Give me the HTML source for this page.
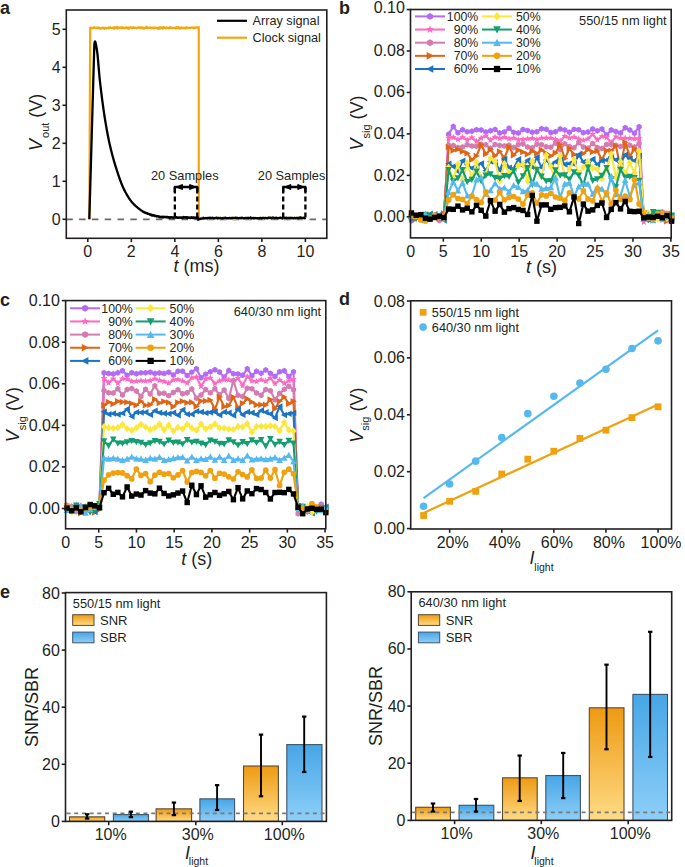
<!DOCTYPE html>
<html><head><meta charset="utf-8"><style>
html,body{margin:0;padding:0;background:#fff;}
svg{display:block;font-family:"Liberation Sans",sans-serif;fill:#231f20;}
text{fill:#231f20;}
</style></head><body>
<svg width="685" height="867" viewBox="0 0 685 867">
<text x="0" y="14" font-size="18" font-weight="bold">a</text>
<text x="339" y="14" font-size="18" font-weight="bold">b</text>
<text x="0" y="306" font-size="18" font-weight="bold">c</text>
<text x="339" y="305" font-size="18" font-weight="bold">d</text>
<text x="0" y="597.5" font-size="18" font-weight="bold">e</text>
<line x1="66.3" y1="219.30" x2="326.8" y2="219.30" stroke="#6a6a6a" stroke-width="1.7" stroke-dasharray="6.5,6.3"/>
<path d="M89.32,219.30 L90.19,27.78 L90.19,27.78 L90.74,27.64 L91.28,27.91 L91.83,28.19 L92.38,27.99 L92.92,28.23 L93.47,27.75 L94.01,27.17 L94.56,28.00 L95.10,28.06 L95.65,27.56 L96.20,27.62 L96.74,27.73 L97.29,28.20 L97.83,27.79 L98.38,27.46 L98.92,28.39 L99.47,27.99 L100.02,28.65 L100.56,28.37 L101.11,28.62 L101.65,27.89 L102.20,28.36 L102.74,27.66 L103.29,27.71 L103.83,27.87 L104.38,28.93 L104.93,28.03 L105.47,27.80 L106.02,27.73 L106.56,28.48 L107.11,28.00 L107.65,28.23 L108.20,28.15 L108.75,27.30 L109.29,28.15 L109.84,27.79 L110.38,27.38 L110.93,28.05 L111.47,27.83 L112.02,27.73 L112.56,27.75 L113.11,28.34 L113.66,27.75 L114.20,27.16 L114.75,28.49 L115.29,27.39 L115.84,27.73 L116.38,28.07 L116.93,26.87 L117.48,27.43 L118.02,28.33 L118.57,27.75 L119.11,27.52 L119.66,27.87 L120.20,27.47 L120.75,27.81 L121.30,27.48 L121.84,27.12 L122.39,28.09 L122.93,27.69 L123.48,27.99 L124.02,27.72 L124.57,28.32 L125.11,28.04 L125.66,27.87 L126.21,27.37 L126.75,27.26 L127.30,28.38 L127.84,28.14 L128.39,27.49 L128.93,28.69 L129.48,27.99 L130.03,27.82 L130.57,27.21 L131.12,27.47 L131.66,27.93 L132.21,27.95 L132.75,27.89 L133.30,27.09 L133.84,27.98 L134.39,27.92 L134.94,27.62 L135.48,27.84 L136.03,27.87 L136.57,28.29 L137.12,27.79 L137.66,27.98 L138.21,27.25 L138.76,27.48 L139.30,27.79 L139.85,27.48 L140.39,27.93 L140.94,27.30 L141.48,27.78 L142.03,27.51 L142.58,28.37 L143.12,27.62 L143.67,28.55 L144.21,28.71 L144.76,27.92 L145.30,28.19 L145.85,27.71 L146.39,26.76 L146.94,28.16 L147.49,28.06 L148.03,27.69 L148.58,27.56 L149.12,27.86 L149.67,27.87 L150.21,27.46 L150.76,27.54 L151.31,28.25 L151.85,27.82 L152.40,27.76 L152.94,28.26 L153.49,27.66 L154.03,28.17 L154.58,27.34 L155.12,27.69 L155.67,27.74 L156.22,28.05 L156.76,27.83 L157.31,28.69 L157.85,28.30 L158.40,27.61 L158.94,28.75 L159.49,27.39 L160.04,28.58 L160.58,27.43 L161.13,28.17 L161.67,27.42 L162.22,27.72 L162.76,28.48 L163.31,27.21 L163.86,27.12 L164.40,27.81 L164.95,27.90 L165.49,27.85 L166.04,28.22 L166.58,27.28 L167.13,28.03 L167.67,27.80 L168.22,28.14 L168.77,28.07 L169.31,28.36 L169.86,27.21 L170.40,27.85 L170.95,27.34 L171.49,27.77 L172.04,28.10 L172.59,27.93 L173.13,28.04 L173.68,27.78 L174.22,27.95 L174.77,27.92 L175.31,28.41 L175.86,28.15 L176.40,27.03 L176.95,28.09 L177.50,28.26 L178.04,27.63 L178.59,27.14 L179.13,28.44 L179.68,27.88 L180.22,28.07 L180.77,28.58 L181.32,27.44 L181.86,27.79 L182.41,27.75 L182.95,28.12 L183.50,27.57 L184.04,28.03 L184.59,27.85 L185.13,28.29 L185.68,28.33 L186.23,27.17 L186.77,28.01 L187.32,27.65 L187.86,27.80 L188.41,27.98 L188.95,28.01 L189.50,27.49 L190.05,27.92 L190.59,27.85 L191.14,27.77 L191.68,27.24 L192.23,27.47 L192.77,27.61 L193.32,28.04 L193.87,28.41 L194.41,27.35 L194.96,27.34 L195.50,27.84 L196.05,27.53 L196.59,27.42 L197.14,27.40 L197.68,27.36 L198.23,27.99 L198.78,27.09 L198.78,218.54 L198.78,218.73 L199.49,218.09 L200.21,218.20 L200.92,218.08 L201.64,217.78 L202.35,217.90 L203.07,218.70 L203.79,218.86 L204.50,218.10 L205.22,218.66 L205.93,218.35 L206.65,218.09 L207.36,218.85 L208.08,218.99 L208.79,218.27 L209.51,218.34 L210.23,218.42 L210.94,218.34 L211.66,218.61 L212.37,218.81 L213.09,218.40 L213.80,218.65 L214.52,218.85 L215.23,218.20 L215.95,218.37 L216.67,218.23 L217.38,218.65 L218.10,218.55 L218.81,218.65 L219.53,218.62 L220.24,218.29 L220.96,218.59 L221.68,218.24 L222.39,218.25 L223.11,217.73 L223.82,218.77 L224.54,218.08 L225.25,218.38 L225.97,218.35 L226.68,218.79 L227.40,218.49 L228.12,218.12 L228.83,218.38 L229.55,218.33 L230.26,218.44 L230.98,218.00 L231.69,218.36 L232.41,219.02 L233.12,218.56 L233.84,218.95 L234.56,219.34 L235.27,218.51 L235.99,217.94 L236.70,218.34 L237.42,218.71 L238.13,218.64 L238.85,218.01 L239.57,218.30 L240.28,218.34 L241.00,218.37 L241.71,218.34 L242.43,218.11 L243.14,218.18 L243.86,218.28 L244.57,218.67 L245.29,218.19 L246.01,218.56 L246.72,218.02 L247.44,218.74 L248.15,218.39 L248.87,218.35 L249.58,218.75 L250.30,217.83 L251.01,217.91 L251.73,218.49 L252.45,218.12 L253.16,218.23 L253.88,219.14 L254.59,218.27 L255.31,218.37 L256.02,218.32 L256.74,218.68 L257.45,218.43 L258.17,218.40 L258.89,217.99 L259.60,218.25 L260.32,218.35 L261.03,217.89 L261.75,218.52 L262.46,218.47 L263.18,218.90 L263.90,217.87 L264.61,218.06 L265.33,218.07 L266.04,218.15 L266.76,218.32 L267.47,218.28 L268.19,218.43 L268.90,218.41 L269.62,218.33 L270.34,217.89 L271.05,218.18 L271.77,218.37 L272.48,218.53 L273.20,218.54 L273.91,217.86 L274.63,218.20 L275.34,218.33 L276.06,218.46 L276.78,218.69 L277.49,218.37 L278.21,218.08 L278.92,218.47 L279.64,218.42 L280.35,218.42 L281.07,218.32 L281.79,218.83 L282.50,218.42 L283.22,218.61 L283.93,218.08 L284.65,218.58 L285.36,218.17 L286.08,217.89 L286.79,218.45 L287.51,218.53 L288.23,218.29 L288.94,218.35 L289.66,218.65 L290.37,218.21 L291.09,217.74 L291.80,218.43 L292.52,218.41 L293.23,218.67 L293.95,218.25 L294.67,218.73 L295.38,218.69 L296.10,217.96 L296.81,218.63 L297.53,218.02 L298.24,217.89 L298.96,218.27 L299.68,218.18 L300.39,217.76 L301.11,218.41 L301.82,218.53 L302.54,218.76 L303.25,218.34 L303.97,217.90 L304.68,218.06 L305.40,218.64" fill="none" stroke="#f6a60c" stroke-width="2.2" stroke-linejoin="round"/>
<path d="M89.32,219.30 L94.33,44.50 L94.33,44.50 L94.59,42.79 L94.85,41.64 L95.11,41.52 L95.36,41.97 L95.62,42.80 L95.88,43.95 L96.14,45.33 L96.40,46.86 L96.66,48.47 L96.92,50.07 L97.18,51.83 L97.44,53.98 L97.70,56.46 L97.95,59.19 L98.21,62.10 L98.47,65.13 L98.73,68.21 L98.99,71.27 L99.25,74.23 L99.51,77.03 L99.77,79.61 L100.03,81.93 L100.29,84.19 L100.55,86.42 L100.80,88.61 L101.06,90.77 L101.32,92.89 L101.58,94.98 L101.84,97.03 L102.10,99.05 L102.36,101.03 L102.62,102.97 L102.88,104.88 L103.14,106.75 L103.39,108.59 L103.65,110.39 L103.91,112.16 L104.17,113.89 L104.43,115.59 L104.69,117.24 L104.95,118.88 L105.21,120.48 L105.47,122.07 L105.73,123.63 L105.99,125.16 L106.24,126.68 L106.50,128.16 L106.76,129.63 L107.02,131.06 L107.28,132.47 L107.54,133.85 L107.80,135.21 L108.06,136.54 L108.32,137.84 L108.58,139.11 L108.83,140.35 L109.09,141.57 L109.35,142.75 L109.61,143.91 L109.87,145.04 L110.13,146.16 L110.39,147.26 L110.65,148.34 L110.91,149.40 L111.17,150.45 L111.43,151.49 L111.68,152.51 L111.94,153.51 L112.20,154.50 L112.46,155.48 L112.72,156.44 L112.98,157.39 L113.24,158.33 L113.50,159.25 L113.76,160.17 L114.02,161.07 L114.27,161.96 L114.53,162.84 L114.79,163.70 L115.05,164.56 L115.31,165.41 L115.57,166.25 L115.83,167.08 L116.09,167.91 L116.35,168.72 L116.61,169.53 L116.87,170.33 L117.12,171.12 L117.38,171.92 L117.64,172.70 L117.90,173.49 L118.16,174.27 L118.42,175.05 L118.68,175.81 L118.94,176.58 L119.20,177.33 L119.46,178.08 L119.71,178.82 L119.97,179.55 L120.23,180.28 L120.49,180.99 L120.75,181.69 L121.01,182.38 L121.27,183.06 L121.53,183.73 L121.79,184.39 L122.05,185.03 L122.31,185.66 L122.56,186.27 L122.82,186.87 L123.08,187.45 L123.34,188.02 L123.60,188.57 L123.86,189.10 L124.12,189.62 L124.38,190.12 L124.64,190.62 L124.90,191.11 L125.15,191.60 L125.41,192.08 L125.67,192.56 L125.93,193.03 L126.19,193.49 L126.45,193.95 L126.71,194.41 L126.97,194.85 L127.23,195.29 L127.49,195.73 L127.75,196.16 L128.00,196.58 L128.26,197.00 L128.52,197.41 L128.78,197.81 L129.04,198.21 L129.30,198.60 L129.56,198.98 L129.82,199.35 L130.08,199.72 L130.34,200.08 L130.59,200.44 L130.85,200.78 L131.11,201.12 L131.37,201.46 L131.63,201.78 L131.89,202.10 L132.15,202.41 L132.41,202.71 L132.67,203.00 L132.93,203.28 L133.19,203.56 L133.44,203.83 L133.70,204.09 L133.96,204.34 L134.22,204.60 L134.48,204.85 L134.74,205.09 L135.00,205.34 L135.26,205.58 L135.52,205.82 L135.78,206.05 L136.03,206.29 L136.29,206.52 L136.55,206.75 L136.81,206.97 L137.07,207.20 L137.33,207.42 L137.59,207.63 L137.85,207.85 L138.11,208.06 L138.37,208.26 L138.63,208.47 L138.88,208.67 L139.14,208.87 L139.40,209.07 L139.66,209.26 L139.92,209.45 L140.18,209.63 L140.44,209.82 L140.70,210.00 L140.96,210.17 L141.22,210.34 L141.47,210.51 L141.73,210.68 L141.99,210.84 L142.25,210.98 L142.51,211.46 L142.77,211.45 L143.03,211.52 L143.29,212.07 L143.55,211.72 L143.81,211.84 L144.07,212.05 L144.32,212.24 L144.58,212.35 L144.84,212.61 L145.10,212.56 L145.36,212.74 L145.62,212.71 L145.88,213.11 L146.14,212.88 L146.40,213.00 L146.66,213.17 L146.91,213.34 L147.17,213.21 L147.43,213.82 L147.69,213.43 L147.95,213.58 L148.21,213.67 L148.47,213.74 L148.73,214.07 L148.99,214.08 L149.25,213.97 L149.51,214.11 L149.76,214.25 L150.02,214.73 L150.28,214.35 L150.54,214.30 L150.80,214.42 L151.06,214.68 L151.32,215.18 L151.58,214.69 L151.84,215.02 L152.10,215.64 L152.35,215.06 L152.61,215.56 L152.87,215.60 L153.13,215.52 L153.39,215.16 L153.65,215.61 L153.91,215.53 L154.17,215.26 L154.43,215.36 L154.69,215.82 L154.95,215.91 L155.20,216.21 L155.46,216.14 L155.72,215.95 L155.98,216.01 L156.24,216.13 L156.50,215.98 L156.76,216.44 L157.02,216.32 L157.28,216.19 L157.54,216.27 L157.79,216.21 L158.05,216.40 L158.31,216.61 L158.57,216.49 L158.83,216.84 L159.09,217.02 L159.35,216.54 L159.61,216.72 L159.87,216.66 L160.13,217.15 L160.39,216.87 L160.64,216.94 L160.90,217.02 L161.16,217.36 L161.42,216.95 L161.68,216.69 L161.94,216.82 L162.20,217.07 L162.46,216.95 L162.72,216.80 L162.98,217.62 L163.23,217.04 L163.49,216.91 L163.75,216.89 L164.01,216.68 L164.27,216.83 L164.53,217.03 L164.79,217.05 L165.05,216.96 L165.31,217.28 L165.57,217.18 L165.83,216.99 L166.08,216.76 L166.34,217.26 L166.60,217.25 L166.86,217.21 L167.12,216.97 L167.38,217.29 L167.64,216.97 L167.90,217.54 L168.16,217.37 L168.42,217.39 L168.67,217.18 L168.93,217.13 L169.19,217.73 L169.45,217.61 L169.71,217.33 L169.97,217.57 L170.23,217.78 L170.49,217.21 L170.75,217.34 L171.01,217.35 L171.27,217.58 L171.52,217.25 L171.78,217.55 L172.04,217.25 L172.30,217.72 L172.56,217.72 L172.82,217.48 L173.08,217.70 L173.34,217.39 L173.60,217.49 L173.86,217.76 L174.11,217.54 L174.37,217.64 L174.63,217.36 L174.89,217.72 L175.15,217.68 L175.41,217.30 L175.67,217.07 L175.93,217.13 L176.19,217.57 L176.45,217.54 L176.71,217.24 L176.96,217.62 L177.22,217.81 L177.48,217.56 L177.74,217.49 L178.00,217.78 L178.26,217.97 L178.52,217.92 L178.78,217.44 L179.04,217.76 L179.30,217.62 L179.55,217.54 L179.81,217.45 L180.07,217.67 L180.33,217.48 L180.59,217.79 L180.85,217.67 L181.11,217.82 L181.37,217.33 L181.63,217.60 L181.89,217.76 L182.15,217.67 L182.40,217.64 L182.66,217.43 L182.92,217.95 L183.18,217.83 L183.44,217.68 L183.70,217.01 L183.96,217.37 L184.22,217.62 L184.48,217.43 L184.74,217.12 L184.99,217.64 L185.25,217.67 L185.51,217.31 L185.77,217.48 L186.03,217.44 L186.29,217.71 L186.55,217.15 L186.81,217.20 L187.07,217.46 L187.33,217.43 L187.59,218.05 L187.84,217.44 L188.10,217.63 L188.36,217.49 L188.62,217.43 L188.88,217.67 L189.14,217.98 L189.40,217.51 L189.66,217.76 L189.92,217.67 L190.18,217.73 L190.43,217.67 L190.69,218.12 L190.95,217.31 L191.21,217.53 L191.47,217.34 L191.73,217.14 L191.99,217.58 L192.25,218.00 L192.51,217.79 L192.77,217.87 L193.03,217.70 L193.28,217.57 L193.54,218.05 L193.80,217.51 L194.06,217.93 L194.32,217.52 L194.58,217.61 L194.84,217.66 L195.10,217.61 L195.36,217.71 L195.62,217.73 L195.87,217.97 L196.13,217.60 L196.39,217.17 L196.65,217.14 L196.91,217.29 L197.17,217.43 L197.43,217.74 L197.69,217.26 L197.91,219.69 L198.58,219.38 L199.26,219.17 L199.93,218.87 L200.61,218.82 L201.29,218.60 L201.96,218.71 L202.64,218.46 L203.31,217.78 L203.99,218.25 L204.67,218.24 L205.34,218.02 L206.02,217.95 L206.69,218.34 L207.37,218.11 L208.05,217.84 L208.72,217.97 L209.40,217.99 L210.07,217.62 L210.75,218.12 L211.43,217.95 L212.10,218.09 L212.78,217.63 L213.46,218.42 L214.13,218.12 L214.81,218.09 L215.48,217.82 L216.16,217.83 L216.84,217.65 L217.51,218.33 L218.19,217.80 L218.86,218.04 L219.54,218.12 L220.22,217.85 L220.89,218.18 L221.57,218.44 L222.24,218.05 L222.92,218.31 L223.60,218.12 L224.27,217.89 L224.95,217.90 L225.62,217.61 L226.30,218.02 L226.98,218.32 L227.65,218.14 L228.33,218.18 L229.00,218.25 L229.68,217.87 L230.36,218.12 L231.03,218.42 L231.71,217.81 L232.38,218.00 L233.06,217.89 L233.74,217.95 L234.41,217.83 L235.09,217.96 L235.77,217.69 L236.44,217.87 L237.12,217.88 L237.79,217.88 L238.47,218.30 L239.15,218.01 L239.82,218.03 L240.50,217.92 L241.17,218.28 L241.85,217.60 L242.53,217.95 L243.20,218.25 L243.88,218.36 L244.55,218.03 L245.23,217.99 L245.91,218.13 L246.58,217.95 L247.26,218.12 L247.93,217.84 L248.61,218.14 L249.29,217.98 L249.96,217.75 L250.64,217.38 L251.31,218.20 L251.99,218.08 L252.67,218.16 L253.34,217.79 L254.02,218.23 L254.70,218.08 L255.37,217.98 L256.05,218.19 L256.72,218.19 L257.40,218.08 L258.08,218.45 L258.75,218.30 L259.43,218.06 L260.10,217.94 L260.78,218.01 L261.46,218.37 L262.13,218.08 L262.81,217.79 L263.48,217.84 L264.16,217.99 L264.84,218.17 L265.51,217.83 L266.19,218.10 L266.86,218.24 L267.54,218.15 L268.22,217.64 L268.89,217.92 L269.57,217.71 L270.24,218.08 L270.92,217.76 L271.60,218.11 L272.27,218.01 L272.95,217.40 L273.62,217.80 L274.30,218.08 L274.98,217.99 L275.65,217.90 L276.33,217.69 L277.01,218.08 L277.68,218.37 L278.36,218.03 L279.03,217.97 L279.71,217.95 L280.39,217.67 L281.06,217.90 L281.74,217.78 L282.41,218.22 L283.09,217.77 L283.77,217.49 L284.44,217.79 L285.12,217.91 L285.79,217.93 L286.47,217.56 L287.15,218.18 L287.82,218.00 L288.50,217.87 L289.17,217.80 L289.85,218.07 L290.53,217.90 L291.20,218.03 L291.88,217.94 L292.55,218.00 L293.23,218.23 L293.91,217.97 L294.58,217.77 L295.26,218.19 L295.94,218.02 L296.61,217.82 L297.29,218.21 L297.96,217.93 L298.64,218.21 L299.32,217.71 L299.99,217.44 L300.67,217.51 L301.34,218.02 L302.02,217.80 L302.70,217.94 L303.37,217.95 L304.05,217.62 L304.72,218.27 L305.40,217.73" fill="none" stroke="#000" stroke-width="2.3" stroke-linejoin="round"/>
<rect x="66.3" y="10.0" width="260.50" height="228.30" fill="none" stroke="#231f20" stroke-width="1.6"/>
<line x1="62.50" y1="219.30" x2="66.3" y2="219.30" stroke="#231f20" stroke-width="1.6"/>
<text transform="translate(60.60,224.80) scale(1,1.03)" font-size="16" text-anchor="end">0</text>
<line x1="62.50" y1="181.30" x2="66.3" y2="181.30" stroke="#231f20" stroke-width="1.6"/>
<text transform="translate(60.60,186.80) scale(1,1.03)" font-size="16" text-anchor="end">1</text>
<line x1="62.50" y1="143.30" x2="66.3" y2="143.30" stroke="#231f20" stroke-width="1.6"/>
<text transform="translate(60.60,148.80) scale(1,1.03)" font-size="16" text-anchor="end">2</text>
<line x1="62.50" y1="105.30" x2="66.3" y2="105.30" stroke="#231f20" stroke-width="1.6"/>
<text transform="translate(60.60,110.80) scale(1,1.03)" font-size="16" text-anchor="end">3</text>
<line x1="62.50" y1="67.30" x2="66.3" y2="67.30" stroke="#231f20" stroke-width="1.6"/>
<text transform="translate(60.60,72.80) scale(1,1.03)" font-size="16" text-anchor="end">4</text>
<line x1="62.50" y1="29.30" x2="66.3" y2="29.30" stroke="#231f20" stroke-width="1.6"/>
<text transform="translate(60.60,34.80) scale(1,1.03)" font-size="16" text-anchor="end">5</text>
<line x1="87.80" y1="238.3" x2="87.80" y2="242.10" stroke="#231f20" stroke-width="1.6"/>
<text transform="translate(87.80,257.30) scale(1,1.03)" font-size="16" text-anchor="middle">0</text>
<line x1="131.32" y1="238.3" x2="131.32" y2="242.10" stroke="#231f20" stroke-width="1.6"/>
<text transform="translate(131.32,257.30) scale(1,1.03)" font-size="16" text-anchor="middle">2</text>
<line x1="174.84" y1="238.3" x2="174.84" y2="242.10" stroke="#231f20" stroke-width="1.6"/>
<text transform="translate(174.84,257.30) scale(1,1.03)" font-size="16" text-anchor="middle">4</text>
<line x1="218.36" y1="238.3" x2="218.36" y2="242.10" stroke="#231f20" stroke-width="1.6"/>
<text transform="translate(218.36,257.30) scale(1,1.03)" font-size="16" text-anchor="middle">6</text>
<line x1="261.88" y1="238.3" x2="261.88" y2="242.10" stroke="#231f20" stroke-width="1.6"/>
<text transform="translate(261.88,257.30) scale(1,1.03)" font-size="16" text-anchor="middle">8</text>
<line x1="305.40" y1="238.3" x2="305.40" y2="242.10" stroke="#231f20" stroke-width="1.6"/>
<text transform="translate(305.40,257.30) scale(1,1.03)" font-size="16" text-anchor="middle">10</text>
<text x="196.5" y="272.3" font-size="18" text-anchor="middle"><tspan font-style="italic">t</tspan> (ms)</text>
<text transform="translate(41.8,151) rotate(-90)" font-size="18"><tspan font-style="italic">V</tspan><tspan font-size="11" dx="1" dy="7">out</tspan><tspan dy="-7"> (V)</tspan></text>
<line x1="174.84" y1="187.00" x2="174.84" y2="218.50" stroke="#000" stroke-width="2.3" stroke-dasharray="6.5,3,5,3,5,3,5,3"/>
<line x1="197.25" y1="187.00" x2="197.25" y2="218.50" stroke="#000" stroke-width="2.3" stroke-dasharray="6.5,3,5,3,5,3,5,3"/>
<path d="M174.84,192.00 L174.84,187.00 L197.25,187.00 L197.25,192.00" fill="none" stroke="#000" stroke-width="2.3" stroke-linejoin="round"/>
<path d="M176.24,187.00 L182.44,184.50 L182.44,189.50 Z" fill="#000" stroke="#000" stroke-width="1" stroke-linejoin="round"/>
<path d="M195.85,187.00 L189.65,184.50 L189.65,189.50 Z" fill="#000" stroke="#000" stroke-width="1" stroke-linejoin="round"/>
<line x1="283.20" y1="187.00" x2="283.20" y2="218.50" stroke="#000" stroke-width="2.3" stroke-dasharray="6.5,3,5,3,5,3,5,3"/>
<line x1="305.40" y1="187.00" x2="305.40" y2="218.50" stroke="#000" stroke-width="2.3" stroke-dasharray="6.5,3,5,3,5,3,5,3"/>
<path d="M283.20,192.00 L283.20,187.00 L305.40,187.00 L305.40,192.00" fill="none" stroke="#000" stroke-width="2.3" stroke-linejoin="round"/>
<path d="M284.60,187.00 L290.80,184.50 L290.80,189.50 Z" fill="#000" stroke="#000" stroke-width="1" stroke-linejoin="round"/>
<path d="M304.00,187.00 L297.80,184.50 L297.80,189.50 Z" fill="#000" stroke="#000" stroke-width="1" stroke-linejoin="round"/>
<text x="184.8" y="179.8" font-size="12.8" text-anchor="middle">20 Samples</text>
<text x="291.6" y="179.8" font-size="12.8" text-anchor="middle">20 Samples</text>
<line x1="217" y1="20.8" x2="247" y2="20.8" stroke="#000" stroke-width="2.2"/>
<line x1="217" y1="37.7" x2="247" y2="37.7" stroke="#f6a60c" stroke-width="2.2"/>
<text x="252.5" y="25.3" font-size="12.7">Array signal</text>
<text x="252.5" y="42.2" font-size="12.7">Clock signal</text>
<path d="M411.47,220.83 L416.11,216.01 L420.76,217.37 L425.41,215.02 L430.05,217.80 L434.70,216.84 L439.34,216.02 L443.99,218.80 L448.63,134.16 L453.28,126.55 L457.93,132.69 L462.57,129.71 L467.22,131.77 L471.86,131.18 L476.51,129.66 L481.16,130.11 L485.80,132.09 L490.45,130.78 L495.09,129.55 L499.74,133.00 L504.38,132.08 L509.03,128.24 L513.68,132.37 L518.32,133.03 L522.97,129.61 L527.61,130.49 L532.26,132.16 L536.90,131.70 L541.55,128.70 L546.20,129.30 L550.84,132.44 L555.49,131.76 L560.13,129.06 L564.78,130.06 L569.43,132.36 L574.07,129.37 L578.72,129.68 L583.36,132.71 L588.01,132.00 L592.65,128.92 L597.30,130.85 L601.95,129.07 L606.59,134.95 L611.24,130.08 L615.88,131.39 L620.53,132.89 L625.18,127.78 L629.82,129.94 L634.47,133.13 L639.11,126.77 L643.76,217.23 L648.40,220.08 L653.05,213.76 L657.70,215.59 L662.34,211.99 L666.99,216.66 L671.63,217.85" fill="none" stroke="#b36bf5" stroke-width="2.1" stroke-linejoin="round"/>
<path d="M414.06,222.33 L411.47,223.82 L408.88,222.33 L408.88,219.33 L411.47,217.84 L414.06,219.33Z" fill="#b36bf5"/><path d="M418.71,217.51 L416.11,219.00 L413.52,217.51 L413.52,214.51 L416.11,213.02 L418.71,214.51Z" fill="#b36bf5"/><path d="M423.35,218.87 L420.76,220.36 L418.17,218.87 L418.17,215.87 L420.76,214.38 L423.35,215.87Z" fill="#b36bf5"/><path d="M428.00,216.51 L425.41,218.01 L422.81,216.51 L422.81,213.52 L425.41,212.03 L428.00,213.52Z" fill="#b36bf5"/><path d="M432.64,219.30 L430.05,220.79 L427.46,219.30 L427.46,216.30 L430.05,214.81 L432.64,216.30Z" fill="#b36bf5"/><path d="M437.29,218.34 L434.70,219.83 L432.11,218.34 L432.11,215.35 L434.70,213.85 L437.29,215.35Z" fill="#b36bf5"/><path d="M441.93,217.51 L439.34,219.01 L436.75,217.51 L436.75,214.52 L439.34,213.03 L441.93,214.52Z" fill="#b36bf5"/><path d="M446.58,220.29 L443.99,221.79 L441.40,220.29 L441.40,217.30 L443.99,215.81 L446.58,217.30Z" fill="#b36bf5"/><path d="M451.23,135.66 L448.63,137.15 L446.04,135.66 L446.04,132.66 L448.63,131.17 L451.23,132.66Z" fill="#b36bf5"/><path d="M455.87,128.04 L453.28,129.54 L450.69,128.04 L450.69,125.05 L453.28,123.56 L455.87,125.05Z" fill="#b36bf5"/><path d="M460.52,134.19 L457.93,135.69 L455.33,134.19 L455.33,131.20 L457.93,129.70 L460.52,131.20Z" fill="#b36bf5"/><path d="M465.16,131.21 L462.57,132.70 L459.98,131.21 L459.98,128.21 L462.57,126.72 L465.16,128.21Z" fill="#b36bf5"/><path d="M469.81,133.27 L467.22,134.77 L464.63,133.27 L464.63,130.28 L467.22,128.78 L469.81,130.28Z" fill="#b36bf5"/><path d="M474.46,132.68 L471.86,134.18 L469.27,132.68 L469.27,129.69 L471.86,128.19 L474.46,129.69Z" fill="#b36bf5"/><path d="M479.10,131.16 L476.51,132.65 L473.92,131.16 L473.92,128.17 L476.51,126.67 L479.10,128.17Z" fill="#b36bf5"/><path d="M483.75,131.61 L481.16,133.11 L478.56,131.61 L478.56,128.62 L481.16,127.12 L483.75,128.62Z" fill="#b36bf5"/><path d="M488.39,133.59 L485.80,135.08 L483.21,133.59 L483.21,130.59 L485.80,129.10 L488.39,130.59Z" fill="#b36bf5"/><path d="M493.04,132.27 L490.45,133.77 L487.86,132.27 L487.86,129.28 L490.45,127.78 L493.04,129.28Z" fill="#b36bf5"/><path d="M497.68,131.05 L495.09,132.54 L492.50,131.05 L492.50,128.05 L495.09,126.56 L497.68,128.05Z" fill="#b36bf5"/><path d="M502.33,134.49 L499.74,135.99 L497.15,134.49 L497.15,131.50 L499.74,130.00 L502.33,131.50Z" fill="#b36bf5"/><path d="M506.98,133.57 L504.38,135.07 L501.79,133.57 L501.79,130.58 L504.38,129.08 L506.98,130.58Z" fill="#b36bf5"/><path d="M511.62,129.74 L509.03,131.24 L506.44,129.74 L506.44,126.75 L509.03,125.25 L511.62,126.75Z" fill="#b36bf5"/><path d="M516.27,133.87 L513.68,135.36 L511.08,133.87 L511.08,130.88 L513.68,129.38 L516.27,130.88Z" fill="#b36bf5"/><path d="M520.91,134.53 L518.32,136.02 L515.73,134.53 L515.73,131.53 L518.32,130.04 L520.91,131.53Z" fill="#b36bf5"/><path d="M525.56,131.11 L522.97,132.60 L520.38,131.11 L520.38,128.11 L522.97,126.62 L525.56,128.11Z" fill="#b36bf5"/><path d="M530.20,131.98 L527.61,133.48 L525.02,131.98 L525.02,128.99 L527.61,127.50 L530.20,128.99Z" fill="#b36bf5"/><path d="M534.85,133.65 L532.26,135.15 L529.67,133.65 L529.67,130.66 L532.26,129.16 L534.85,130.66Z" fill="#b36bf5"/><path d="M539.50,133.19 L536.90,134.69 L534.31,133.19 L534.31,130.20 L536.90,128.70 L539.50,130.20Z" fill="#b36bf5"/><path d="M544.14,130.20 L541.55,131.69 L538.96,130.20 L538.96,127.21 L541.55,125.71 L544.14,127.21Z" fill="#b36bf5"/><path d="M548.79,130.80 L546.20,132.30 L543.60,130.80 L543.60,127.81 L546.20,126.31 L548.79,127.81Z" fill="#b36bf5"/><path d="M553.43,133.93 L550.84,135.43 L548.25,133.93 L548.25,130.94 L550.84,129.44 L553.43,130.94Z" fill="#b36bf5"/><path d="M558.08,133.26 L555.49,134.76 L552.90,133.26 L552.90,130.27 L555.49,128.77 L558.08,130.27Z" fill="#b36bf5"/><path d="M562.73,130.56 L560.13,132.06 L557.54,130.56 L557.54,127.57 L560.13,126.07 L562.73,127.57Z" fill="#b36bf5"/><path d="M567.37,131.56 L564.78,133.06 L562.19,131.56 L562.19,128.57 L564.78,127.07 L567.37,128.57Z" fill="#b36bf5"/><path d="M572.02,133.86 L569.43,135.35 L566.83,133.86 L566.83,130.86 L569.43,129.37 L572.02,130.86Z" fill="#b36bf5"/><path d="M576.66,130.87 L574.07,132.36 L571.48,130.87 L571.48,127.87 L574.07,126.38 L576.66,127.87Z" fill="#b36bf5"/><path d="M581.31,131.18 L578.72,132.68 L576.13,131.18 L576.13,128.19 L578.72,126.69 L581.31,128.19Z" fill="#b36bf5"/><path d="M585.95,134.21 L583.36,135.70 L580.77,134.21 L580.77,131.21 L583.36,129.72 L585.95,131.21Z" fill="#b36bf5"/><path d="M590.60,133.49 L588.01,134.99 L585.42,133.49 L585.42,130.50 L588.01,129.00 L590.60,130.50Z" fill="#b36bf5"/><path d="M595.25,130.42 L592.65,131.91 L590.06,130.42 L590.06,127.42 L592.65,125.93 L595.25,127.42Z" fill="#b36bf5"/><path d="M599.89,132.35 L597.30,133.84 L594.71,132.35 L594.71,129.35 L597.30,127.86 L599.89,129.35Z" fill="#b36bf5"/><path d="M604.54,130.57 L601.95,132.07 L599.35,130.57 L599.35,127.58 L601.95,126.08 L604.54,127.58Z" fill="#b36bf5"/><path d="M609.18,136.45 L606.59,137.94 L604.00,136.45 L604.00,133.45 L606.59,131.96 L609.18,133.45Z" fill="#b36bf5"/><path d="M613.83,131.58 L611.24,133.07 L608.65,131.58 L608.65,128.59 L611.24,127.09 L613.83,128.59Z" fill="#b36bf5"/><path d="M618.48,132.89 L615.88,134.39 L613.29,132.89 L613.29,129.90 L615.88,128.40 L618.48,129.90Z" fill="#b36bf5"/><path d="M623.12,134.38 L620.53,135.88 L617.94,134.38 L617.94,131.39 L620.53,129.89 L623.12,131.39Z" fill="#b36bf5"/><path d="M627.77,129.28 L625.18,130.78 L622.58,129.28 L622.58,126.29 L625.18,124.79 L627.77,126.29Z" fill="#b36bf5"/><path d="M632.41,131.43 L629.82,132.93 L627.23,131.43 L627.23,128.44 L629.82,126.94 L632.41,128.44Z" fill="#b36bf5"/><path d="M637.06,134.63 L634.47,136.13 L631.88,134.63 L631.88,131.64 L634.47,130.14 L637.06,131.64Z" fill="#b36bf5"/><path d="M641.70,128.27 L639.11,129.76 L636.52,128.27 L636.52,125.27 L639.11,123.78 L641.70,125.27Z" fill="#b36bf5"/><path d="M646.35,218.73 L643.76,220.23 L641.17,218.73 L641.17,215.74 L643.76,214.24 L646.35,215.74Z" fill="#b36bf5"/><path d="M651.00,221.58 L648.40,223.07 L645.81,221.58 L645.81,218.59 L648.40,217.09 L651.00,218.59Z" fill="#b36bf5"/><path d="M655.64,215.25 L653.05,216.75 L650.46,215.25 L650.46,212.26 L653.05,210.77 L655.64,212.26Z" fill="#b36bf5"/><path d="M660.29,217.09 L657.70,218.58 L655.10,217.09 L655.10,214.09 L657.70,212.60 L660.29,214.09Z" fill="#b36bf5"/><path d="M664.93,213.49 L662.34,214.99 L659.75,213.49 L659.75,210.50 L662.34,209.00 L664.93,210.50Z" fill="#b36bf5"/><path d="M669.58,218.15 L666.99,219.65 L664.40,218.15 L664.40,215.16 L666.99,213.66 L669.58,215.16Z" fill="#b36bf5"/><path d="M674.23,219.35 L671.63,220.84 L669.04,219.35 L669.04,216.36 L671.63,214.86 L674.23,216.36Z" fill="#b36bf5"/>
<path d="M411.47,216.10 L416.11,216.08 L420.76,216.59 L425.41,217.82 L430.05,217.18 L434.70,217.93 L439.34,215.92 L443.99,216.77 L448.63,137.90 L453.28,137.34 L457.93,139.49 L462.57,137.36 L467.22,139.89 L471.86,137.63 L476.51,141.49 L481.16,138.13 L485.80,135.94 L490.45,140.06 L495.09,137.07 L499.74,138.36 L504.38,137.26 L509.03,138.79 L513.68,137.95 L518.32,139.74 L522.97,139.31 L527.61,138.70 L532.26,138.32 L536.90,139.53 L541.55,137.94 L546.20,137.95 L550.84,137.98 L555.49,139.27 L560.13,140.96 L564.78,136.22 L569.43,138.02 L574.07,137.06 L578.72,138.91 L583.36,140.21 L588.01,138.79 L592.65,134.30 L597.30,139.84 L601.95,136.46 L606.59,137.37 L611.24,142.65 L615.88,136.72 L620.53,138.21 L625.18,138.13 L629.82,138.30 L634.47,138.86 L639.11,138.44 L643.76,222.08 L648.40,216.36 L653.05,219.15 L657.70,218.39 L662.34,220.16 L666.99,220.26 L671.63,218.95" fill="none" stroke="#ff69c0" stroke-width="2.1" stroke-linejoin="round"/>
<path d="M411.47,212.53 L412.39,214.83 L414.86,215.00 L412.96,216.58 L413.56,218.98 L411.47,217.66 L409.37,218.98 L409.98,216.58 L408.08,215.00 L410.55,214.83Z" fill="#ff69c0"/><path d="M416.11,212.52 L417.04,214.81 L419.50,214.98 L417.60,216.56 L418.21,218.96 L416.11,217.65 L414.02,218.96 L414.62,216.56 L412.73,214.98 L415.19,214.81Z" fill="#ff69c0"/><path d="M420.76,213.03 L421.68,215.32 L424.15,215.49 L422.25,217.07 L422.85,219.47 L420.76,218.16 L418.67,219.47 L419.27,217.07 L417.37,215.49 L419.84,215.32Z" fill="#ff69c0"/><path d="M425.41,214.26 L426.33,216.55 L428.79,216.72 L426.90,218.31 L427.50,220.70 L425.41,219.39 L423.31,220.70 L423.91,218.31 L422.02,216.72 L424.48,216.55Z" fill="#ff69c0"/><path d="M430.05,213.61 L430.97,215.91 L433.44,216.07 L431.54,217.66 L432.15,220.06 L430.05,218.74 L427.96,220.06 L428.56,217.66 L426.66,216.07 L429.13,215.91Z" fill="#ff69c0"/><path d="M434.70,214.37 L435.62,216.66 L438.09,216.83 L436.19,218.41 L436.79,220.81 L434.70,219.50 L432.60,220.81 L433.21,218.41 L431.31,216.83 L433.78,216.66Z" fill="#ff69c0"/><path d="M439.34,212.35 L440.26,214.65 L442.73,214.81 L440.83,216.40 L441.44,218.80 L439.34,217.48 L437.25,218.80 L437.85,216.40 L435.95,214.81 L438.42,214.65Z" fill="#ff69c0"/><path d="M443.99,213.21 L444.91,215.50 L447.38,215.67 L445.48,217.25 L446.08,219.65 L443.99,218.34 L441.89,219.65 L442.50,217.25 L440.60,215.67 L443.07,215.50Z" fill="#ff69c0"/><path d="M448.63,134.34 L449.56,136.63 L452.02,136.80 L450.13,138.39 L450.73,140.78 L448.63,139.47 L446.54,140.78 L447.14,138.39 L445.25,136.80 L447.71,136.63Z" fill="#ff69c0"/><path d="M453.28,133.77 L454.20,136.07 L456.67,136.23 L454.77,137.82 L455.37,140.22 L453.28,138.90 L451.19,140.22 L451.79,137.82 L449.89,136.23 L452.36,136.07Z" fill="#ff69c0"/><path d="M457.93,135.93 L458.85,138.22 L461.31,138.39 L459.42,139.98 L460.02,142.37 L457.93,141.06 L455.83,142.37 L456.44,139.98 L454.54,138.39 L457.00,138.22Z" fill="#ff69c0"/><path d="M462.57,133.80 L463.49,136.09 L465.96,136.26 L464.06,137.84 L464.67,140.24 L462.57,138.93 L460.48,140.24 L461.08,137.84 L459.18,136.26 L461.65,136.09Z" fill="#ff69c0"/><path d="M467.22,136.32 L468.14,138.62 L470.61,138.79 L468.71,140.37 L469.31,142.77 L467.22,141.45 L465.12,142.77 L465.73,140.37 L463.83,138.79 L466.30,138.62Z" fill="#ff69c0"/><path d="M471.86,134.07 L472.78,136.36 L475.25,136.53 L473.35,138.11 L473.96,140.51 L471.86,139.20 L469.77,140.51 L470.37,138.11 L468.48,136.53 L470.94,136.36Z" fill="#ff69c0"/><path d="M476.51,137.93 L477.43,140.22 L479.90,140.39 L478.00,141.98 L478.60,144.37 L476.51,143.06 L474.42,144.37 L475.02,141.98 L473.12,140.39 L475.59,140.22Z" fill="#ff69c0"/><path d="M481.16,134.56 L482.08,136.86 L484.54,137.03 L482.65,138.61 L483.25,141.01 L481.16,139.69 L479.06,141.01 L479.66,138.61 L477.77,137.03 L480.23,136.86Z" fill="#ff69c0"/><path d="M485.80,132.37 L486.72,134.67 L489.19,134.83 L487.29,136.42 L487.89,138.82 L485.80,137.50 L483.71,138.82 L484.31,136.42 L482.41,134.83 L484.88,134.67Z" fill="#ff69c0"/><path d="M490.45,136.50 L491.37,138.79 L493.83,138.96 L491.94,140.54 L492.54,142.94 L490.45,141.63 L488.35,142.94 L488.96,140.54 L487.06,138.96 L489.53,138.79Z" fill="#ff69c0"/><path d="M495.09,133.51 L496.01,135.80 L498.48,135.97 L496.58,137.56 L497.19,139.95 L495.09,138.64 L493.00,139.95 L493.60,137.56 L491.70,135.97 L494.17,135.80Z" fill="#ff69c0"/><path d="M499.74,134.79 L500.66,137.09 L503.13,137.25 L501.23,138.84 L501.83,141.24 L499.74,139.92 L497.64,141.24 L498.25,138.84 L496.35,137.25 L498.82,137.09Z" fill="#ff69c0"/><path d="M504.38,133.70 L505.31,136.00 L507.77,136.16 L505.88,137.75 L506.48,140.15 L504.38,138.83 L502.29,140.15 L502.89,137.75 L501.00,136.16 L503.46,136.00Z" fill="#ff69c0"/><path d="M509.03,135.23 L509.95,137.53 L512.42,137.69 L510.52,139.28 L511.12,141.68 L509.03,140.36 L506.94,141.68 L507.54,139.28 L505.64,137.69 L508.11,137.53Z" fill="#ff69c0"/><path d="M513.68,134.39 L514.60,136.69 L517.06,136.85 L515.17,138.44 L515.77,140.84 L513.68,139.52 L511.58,140.84 L512.19,138.44 L510.29,136.85 L512.75,136.69Z" fill="#ff69c0"/><path d="M518.32,136.18 L519.24,138.47 L521.71,138.64 L519.81,140.23 L520.42,142.62 L518.32,141.31 L516.23,142.62 L516.83,140.23 L514.93,138.64 L517.40,138.47Z" fill="#ff69c0"/><path d="M522.97,135.75 L523.89,138.04 L526.36,138.21 L524.46,139.80 L525.06,142.19 L522.97,140.88 L520.87,142.19 L521.48,139.80 L519.58,138.21 L522.05,138.04Z" fill="#ff69c0"/><path d="M527.61,135.14 L528.53,137.44 L531.00,137.60 L529.10,139.19 L529.71,141.59 L527.61,140.27 L525.52,141.59 L526.12,139.19 L524.23,137.60 L526.69,137.44Z" fill="#ff69c0"/><path d="M532.26,134.76 L533.18,137.05 L535.65,137.22 L533.75,138.81 L534.35,141.20 L532.26,139.89 L530.17,141.20 L530.77,138.81 L528.87,137.22 L531.34,137.05Z" fill="#ff69c0"/><path d="M536.90,135.96 L537.83,138.26 L540.29,138.42 L538.40,140.01 L539.00,142.41 L536.90,141.09 L534.81,142.41 L535.41,140.01 L533.52,138.42 L535.98,138.26Z" fill="#ff69c0"/><path d="M541.55,134.38 L542.47,136.67 L544.94,136.84 L543.04,138.43 L543.64,140.82 L541.55,139.51 L539.46,140.82 L540.06,138.43 L538.16,136.84 L540.63,136.67Z" fill="#ff69c0"/><path d="M546.20,134.39 L547.12,136.68 L549.58,136.85 L547.69,138.44 L548.29,140.83 L546.20,139.52 L544.10,140.83 L544.71,138.44 L542.81,136.85 L545.28,136.68Z" fill="#ff69c0"/><path d="M550.84,134.41 L551.76,136.71 L554.23,136.88 L552.33,138.46 L552.94,140.86 L550.84,139.54 L548.75,140.86 L549.35,138.46 L547.45,136.88 L549.92,136.71Z" fill="#ff69c0"/><path d="M555.49,135.71 L556.41,138.00 L558.88,138.17 L556.98,139.75 L557.58,142.15 L555.49,140.84 L553.39,142.15 L554.00,139.75 L552.10,138.17 L554.57,138.00Z" fill="#ff69c0"/><path d="M560.13,137.39 L561.06,139.69 L563.52,139.85 L561.62,141.44 L562.23,143.84 L560.13,142.52 L558.04,143.84 L558.64,141.44 L556.75,139.85 L559.21,139.69Z" fill="#ff69c0"/><path d="M564.78,132.66 L565.70,134.96 L568.17,135.12 L566.27,136.71 L566.87,139.11 L564.78,137.79 L562.69,139.11 L563.29,136.71 L561.39,135.12 L563.86,134.96Z" fill="#ff69c0"/><path d="M569.43,134.46 L570.35,136.76 L572.81,136.92 L570.92,138.51 L571.52,140.91 L569.43,139.59 L567.33,140.91 L567.93,138.51 L566.04,136.92 L568.50,136.76Z" fill="#ff69c0"/><path d="M574.07,133.49 L574.99,135.79 L577.46,135.96 L575.56,137.54 L576.17,139.94 L574.07,138.62 L571.98,139.94 L572.58,137.54 L570.68,135.96 L573.15,135.79Z" fill="#ff69c0"/><path d="M578.72,135.35 L579.64,137.64 L582.11,137.81 L580.21,139.40 L580.81,141.80 L578.72,140.48 L576.62,141.80 L577.23,139.40 L575.33,137.81 L577.80,137.64Z" fill="#ff69c0"/><path d="M583.36,136.64 L584.28,138.94 L586.75,139.10 L584.85,140.69 L585.46,143.09 L583.36,141.77 L581.27,143.09 L581.87,140.69 L579.97,139.10 L582.44,138.94Z" fill="#ff69c0"/><path d="M588.01,135.23 L588.93,137.52 L591.40,137.69 L589.50,139.28 L590.10,141.67 L588.01,140.36 L585.91,141.67 L586.52,139.28 L584.62,137.69 L587.09,137.52Z" fill="#ff69c0"/><path d="M592.65,130.74 L593.58,133.03 L596.04,133.20 L594.15,134.78 L594.75,137.18 L592.65,135.87 L590.56,137.18 L591.16,134.78 L589.27,133.20 L591.73,133.03Z" fill="#ff69c0"/><path d="M597.30,136.28 L598.22,138.57 L600.69,138.74 L598.79,140.32 L599.39,142.72 L597.30,141.41 L595.21,142.72 L595.81,140.32 L593.91,138.74 L596.38,138.57Z" fill="#ff69c0"/><path d="M601.95,132.89 L602.87,135.19 L605.33,135.36 L603.44,136.94 L604.04,139.34 L601.95,138.02 L599.85,139.34 L600.46,136.94 L598.56,135.36 L601.02,135.19Z" fill="#ff69c0"/><path d="M606.59,133.80 L607.51,136.10 L609.98,136.26 L608.08,137.85 L608.69,140.25 L606.59,138.93 L604.50,140.25 L605.10,137.85 L603.20,136.26 L605.67,136.10Z" fill="#ff69c0"/><path d="M611.24,139.09 L612.16,141.38 L614.63,141.55 L612.73,143.13 L613.33,145.53 L611.24,144.22 L609.14,145.53 L609.75,143.13 L607.85,141.55 L610.32,141.38Z" fill="#ff69c0"/><path d="M615.88,133.16 L616.81,135.45 L619.27,135.62 L617.37,137.20 L617.98,139.60 L615.88,138.29 L613.79,139.60 L614.39,137.20 L612.50,135.62 L614.96,135.45Z" fill="#ff69c0"/><path d="M620.53,134.64 L621.45,136.94 L623.92,137.11 L622.02,138.69 L622.62,141.09 L620.53,139.77 L618.44,141.09 L619.04,138.69 L617.14,137.11 L619.61,136.94Z" fill="#ff69c0"/><path d="M625.18,134.57 L626.10,136.86 L628.56,137.03 L626.67,138.62 L627.27,141.01 L625.18,139.70 L623.08,141.01 L623.68,138.62 L621.79,137.03 L624.25,136.86Z" fill="#ff69c0"/><path d="M629.82,134.74 L630.74,137.03 L633.21,137.20 L631.31,138.78 L631.92,141.18 L629.82,139.87 L627.73,141.18 L628.33,138.78 L626.43,137.20 L628.90,137.03Z" fill="#ff69c0"/><path d="M634.47,135.30 L635.39,137.59 L637.86,137.76 L635.96,139.34 L636.56,141.74 L634.47,140.43 L632.37,141.74 L632.98,139.34 L631.08,137.76 L633.55,137.59Z" fill="#ff69c0"/><path d="M639.11,134.88 L640.03,137.17 L642.50,137.34 L640.60,138.92 L641.21,141.32 L639.11,140.01 L637.02,141.32 L637.62,138.92 L635.72,137.34 L638.19,137.17Z" fill="#ff69c0"/><path d="M643.76,218.52 L644.68,220.81 L647.15,220.98 L645.25,222.57 L645.85,224.96 L643.76,223.65 L641.66,224.96 L642.27,222.57 L640.37,220.98 L642.84,220.81Z" fill="#ff69c0"/><path d="M648.40,212.80 L649.33,215.10 L651.79,215.26 L649.90,216.85 L650.50,219.25 L648.40,217.93 L646.31,219.25 L646.91,216.85 L645.02,215.26 L647.48,215.10Z" fill="#ff69c0"/><path d="M653.05,215.58 L653.97,217.88 L656.44,218.05 L654.54,219.63 L655.14,222.03 L653.05,220.71 L650.96,222.03 L651.56,219.63 L649.66,218.05 L652.13,217.88Z" fill="#ff69c0"/><path d="M657.70,214.83 L658.62,217.12 L661.08,217.29 L659.19,218.87 L659.79,221.27 L657.70,219.96 L655.60,221.27 L656.21,218.87 L654.31,217.29 L656.77,217.12Z" fill="#ff69c0"/><path d="M662.34,216.60 L663.26,218.89 L665.73,219.06 L663.83,220.65 L664.44,223.04 L662.34,221.73 L660.25,223.04 L660.85,220.65 L658.95,219.06 L661.42,218.89Z" fill="#ff69c0"/><path d="M666.99,216.69 L667.91,218.99 L670.38,219.16 L668.48,220.74 L669.08,223.14 L666.99,221.82 L664.89,223.14 L665.50,220.74 L663.60,219.16 L666.07,218.99Z" fill="#ff69c0"/><path d="M671.63,215.39 L672.55,217.68 L675.02,217.85 L673.12,219.43 L673.73,221.83 L671.63,220.52 L669.54,221.83 L670.14,219.43 L668.25,217.85 L670.71,217.68Z" fill="#ff69c0"/>
<path d="M411.47,217.44 L416.11,216.02 L420.76,217.90 L425.41,216.16 L430.05,218.32 L434.70,216.17 L439.34,220.40 L443.99,213.77 L448.63,145.16 L453.28,145.53 L457.93,147.52 L462.57,146.88 L467.22,144.73 L471.86,145.96 L476.51,146.15 L481.16,144.30 L485.80,144.71 L490.45,148.26 L495.09,144.56 L499.74,145.41 L504.38,145.97 L509.03,145.27 L513.68,147.61 L518.32,144.46 L522.97,143.91 L527.61,147.07 L532.26,147.72 L536.90,144.33 L541.55,144.79 L546.20,146.86 L550.84,147.19 L555.49,142.94 L560.13,149.67 L564.78,143.63 L569.43,146.56 L574.07,147.75 L578.72,142.52 L583.36,146.91 L588.01,148.22 L592.65,143.45 L597.30,147.40 L601.95,148.47 L606.59,144.55 L611.24,144.57 L615.88,145.21 L620.53,146.50 L625.18,146.07 L629.82,145.18 L634.47,146.94 L639.11,143.57 L643.76,215.58 L648.40,217.60 L653.05,213.89 L657.70,216.36 L662.34,216.98 L666.99,218.60 L671.63,218.09" fill="none" stroke="#d47bb2" stroke-width="2.1" stroke-linejoin="round"/>
<path d="M414.06,218.94 L411.47,220.44 L408.88,218.94 L408.88,215.95 L411.47,214.45 L414.06,215.95Z" fill="#d47bb2"/><path d="M418.71,217.52 L416.11,219.01 L413.52,217.52 L413.52,214.53 L416.11,213.03 L418.71,214.53Z" fill="#d47bb2"/><path d="M423.35,219.39 L420.76,220.89 L418.17,219.39 L418.17,216.40 L420.76,214.91 L423.35,216.40Z" fill="#d47bb2"/><path d="M428.00,217.66 L425.41,219.16 L422.81,217.66 L422.81,214.67 L425.41,213.17 L428.00,214.67Z" fill="#d47bb2"/><path d="M432.64,219.81 L430.05,221.31 L427.46,219.81 L427.46,216.82 L430.05,215.33 L432.64,216.82Z" fill="#d47bb2"/><path d="M437.29,217.67 L434.70,219.16 L432.11,217.67 L432.11,214.67 L434.70,213.18 L437.29,214.67Z" fill="#d47bb2"/><path d="M441.93,221.89 L439.34,223.39 L436.75,221.89 L436.75,218.90 L439.34,217.40 L441.93,218.90Z" fill="#d47bb2"/><path d="M446.58,215.26 L443.99,216.76 L441.40,215.26 L441.40,212.27 L443.99,210.77 L446.58,212.27Z" fill="#d47bb2"/><path d="M451.23,146.65 L448.63,148.15 L446.04,146.65 L446.04,143.66 L448.63,142.17 L451.23,143.66Z" fill="#d47bb2"/><path d="M455.87,147.02 L453.28,148.52 L450.69,147.02 L450.69,144.03 L453.28,142.53 L455.87,144.03Z" fill="#d47bb2"/><path d="M460.52,149.01 L457.93,150.51 L455.33,149.01 L455.33,146.02 L457.93,144.52 L460.52,146.02Z" fill="#d47bb2"/><path d="M465.16,148.38 L462.57,149.87 L459.98,148.38 L459.98,145.38 L462.57,143.89 L465.16,145.38Z" fill="#d47bb2"/><path d="M469.81,146.23 L467.22,147.73 L464.63,146.23 L464.63,143.24 L467.22,141.74 L469.81,143.24Z" fill="#d47bb2"/><path d="M474.46,147.46 L471.86,148.96 L469.27,147.46 L469.27,144.47 L471.86,142.97 L474.46,144.47Z" fill="#d47bb2"/><path d="M479.10,147.65 L476.51,149.15 L473.92,147.65 L473.92,144.66 L476.51,143.16 L479.10,144.66Z" fill="#d47bb2"/><path d="M483.75,145.80 L481.16,147.29 L478.56,145.80 L478.56,142.80 L481.16,141.31 L483.75,142.80Z" fill="#d47bb2"/><path d="M488.39,146.21 L485.80,147.71 L483.21,146.21 L483.21,143.22 L485.80,141.72 L488.39,143.22Z" fill="#d47bb2"/><path d="M493.04,149.76 L490.45,151.26 L487.86,149.76 L487.86,146.77 L490.45,145.27 L493.04,146.77Z" fill="#d47bb2"/><path d="M497.68,146.06 L495.09,147.55 L492.50,146.06 L492.50,143.06 L495.09,141.57 L497.68,143.06Z" fill="#d47bb2"/><path d="M502.33,146.91 L499.74,148.40 L497.15,146.91 L497.15,143.92 L499.74,142.42 L502.33,143.92Z" fill="#d47bb2"/><path d="M506.98,147.47 L504.38,148.97 L501.79,147.47 L501.79,144.48 L504.38,142.98 L506.98,144.48Z" fill="#d47bb2"/><path d="M511.62,146.77 L509.03,148.26 L506.44,146.77 L506.44,143.78 L509.03,142.28 L511.62,143.78Z" fill="#d47bb2"/><path d="M516.27,149.10 L513.68,150.60 L511.08,149.10 L511.08,146.11 L513.68,144.61 L516.27,146.11Z" fill="#d47bb2"/><path d="M520.91,145.96 L518.32,147.46 L515.73,145.96 L515.73,142.97 L518.32,141.47 L520.91,142.97Z" fill="#d47bb2"/><path d="M525.56,145.41 L522.97,146.91 L520.38,145.41 L520.38,142.42 L522.97,140.92 L525.56,142.42Z" fill="#d47bb2"/><path d="M530.20,148.57 L527.61,150.07 L525.02,148.57 L525.02,145.58 L527.61,144.08 L530.20,145.58Z" fill="#d47bb2"/><path d="M534.85,149.22 L532.26,150.72 L529.67,149.22 L529.67,146.23 L532.26,144.73 L534.85,146.23Z" fill="#d47bb2"/><path d="M539.50,145.83 L536.90,147.32 L534.31,145.83 L534.31,142.83 L536.90,141.34 L539.50,142.83Z" fill="#d47bb2"/><path d="M544.14,146.29 L541.55,147.78 L538.96,146.29 L538.96,143.29 L541.55,141.80 L544.14,143.29Z" fill="#d47bb2"/><path d="M548.79,148.36 L546.20,149.85 L543.60,148.36 L543.60,145.37 L546.20,143.87 L548.79,145.37Z" fill="#d47bb2"/><path d="M553.43,148.69 L550.84,150.19 L548.25,148.69 L548.25,145.70 L550.84,144.20 L553.43,145.70Z" fill="#d47bb2"/><path d="M558.08,144.43 L555.49,145.93 L552.90,144.43 L552.90,141.44 L555.49,139.94 L558.08,141.44Z" fill="#d47bb2"/><path d="M562.73,151.17 L560.13,152.66 L557.54,151.17 L557.54,148.18 L560.13,146.68 L562.73,148.18Z" fill="#d47bb2"/><path d="M567.37,145.13 L564.78,146.62 L562.19,145.13 L562.19,142.13 L564.78,140.64 L567.37,142.13Z" fill="#d47bb2"/><path d="M572.02,148.06 L569.43,149.56 L566.83,148.06 L566.83,145.07 L569.43,143.57 L572.02,145.07Z" fill="#d47bb2"/><path d="M576.66,149.25 L574.07,150.74 L571.48,149.25 L571.48,146.26 L574.07,144.76 L576.66,146.26Z" fill="#d47bb2"/><path d="M581.31,144.01 L578.72,145.51 L576.13,144.01 L576.13,141.02 L578.72,139.52 L581.31,141.02Z" fill="#d47bb2"/><path d="M585.95,148.41 L583.36,149.90 L580.77,148.41 L580.77,145.42 L583.36,143.92 L585.95,145.42Z" fill="#d47bb2"/><path d="M590.60,149.72 L588.01,151.21 L585.42,149.72 L585.42,146.73 L588.01,145.23 L590.60,146.73Z" fill="#d47bb2"/><path d="M595.25,144.95 L592.65,146.45 L590.06,144.95 L590.06,141.96 L592.65,140.46 L595.25,141.96Z" fill="#d47bb2"/><path d="M599.89,148.90 L597.30,150.39 L594.71,148.90 L594.71,145.90 L597.30,144.41 L599.89,145.90Z" fill="#d47bb2"/><path d="M604.54,149.96 L601.95,151.46 L599.35,149.96 L599.35,146.97 L601.95,145.47 L604.54,146.97Z" fill="#d47bb2"/><path d="M609.18,146.04 L606.59,147.54 L604.00,146.04 L604.00,143.05 L606.59,141.56 L609.18,143.05Z" fill="#d47bb2"/><path d="M613.83,146.06 L611.24,147.56 L608.65,146.06 L608.65,143.07 L611.24,141.57 L613.83,143.07Z" fill="#d47bb2"/><path d="M618.48,146.71 L615.88,148.20 L613.29,146.71 L613.29,143.71 L615.88,142.22 L618.48,143.71Z" fill="#d47bb2"/><path d="M623.12,148.00 L620.53,149.49 L617.94,148.00 L617.94,145.00 L620.53,143.51 L623.12,145.00Z" fill="#d47bb2"/><path d="M627.77,147.57 L625.18,149.06 L622.58,147.57 L622.58,144.57 L625.18,143.08 L627.77,144.57Z" fill="#d47bb2"/><path d="M632.41,146.67 L629.82,148.17 L627.23,146.67 L627.23,143.68 L629.82,142.18 L632.41,143.68Z" fill="#d47bb2"/><path d="M637.06,148.43 L634.47,149.93 L631.88,148.43 L631.88,145.44 L634.47,143.94 L637.06,145.44Z" fill="#d47bb2"/><path d="M641.70,145.07 L639.11,146.57 L636.52,145.07 L636.52,142.08 L639.11,140.58 L641.70,142.08Z" fill="#d47bb2"/><path d="M646.35,217.08 L643.76,218.57 L641.17,217.08 L641.17,214.09 L643.76,212.59 L646.35,214.09Z" fill="#d47bb2"/><path d="M651.00,219.10 L648.40,220.59 L645.81,219.10 L645.81,216.10 L648.40,214.61 L651.00,216.10Z" fill="#d47bb2"/><path d="M655.64,215.39 L653.05,216.89 L650.46,215.39 L650.46,212.40 L653.05,210.90 L655.64,212.40Z" fill="#d47bb2"/><path d="M660.29,217.86 L657.70,219.35 L655.10,217.86 L655.10,214.87 L657.70,213.37 L660.29,214.87Z" fill="#d47bb2"/><path d="M664.93,218.47 L662.34,219.97 L659.75,218.47 L659.75,215.48 L662.34,213.98 L664.93,215.48Z" fill="#d47bb2"/><path d="M669.58,220.10 L666.99,221.60 L664.40,220.10 L664.40,217.11 L666.99,215.61 L669.58,217.11Z" fill="#d47bb2"/><path d="M674.23,219.59 L671.63,221.08 L669.04,219.59 L669.04,216.59 L671.63,215.10 L674.23,216.59Z" fill="#d47bb2"/>
<path d="M411.47,217.27 L416.11,218.65 L420.76,216.89 L425.41,217.32 L430.05,215.08 L434.70,216.90 L439.34,218.01 L443.99,213.48 L448.63,146.95 L453.28,150.44 L457.93,149.30 L462.57,151.41 L467.22,153.23 L471.86,159.82 L476.51,156.02 L481.16,144.81 L485.80,154.04 L490.45,149.64 L495.09,155.66 L499.74,151.50 L504.38,157.99 L509.03,146.74 L513.68,155.32 L518.32,150.08 L522.97,152.07 L527.61,154.34 L532.26,151.12 L536.90,153.58 L541.55,149.88 L546.20,153.19 L550.84,156.08 L555.49,152.89 L560.13,144.38 L564.78,158.61 L569.43,148.59 L574.07,154.40 L578.72,155.97 L583.36,153.46 L588.01,149.54 L592.65,151.98 L597.30,151.07 L601.95,159.63 L606.59,150.41 L611.24,150.81 L615.88,145.83 L620.53,167.83 L625.18,142.17 L629.82,156.37 L634.47,148.78 L639.11,156.20 L643.76,214.34 L648.40,212.95 L653.05,216.19 L657.70,217.24 L662.34,215.50 L666.99,221.10 L671.63,216.84" fill="none" stroke="#df6414" stroke-width="2.1" stroke-linejoin="round"/>
<path d="M414.89,217.27 L408.62,214.00 L408.62,220.55Z" fill="#df6414"/><path d="M419.53,218.65 L413.26,215.37 L413.26,221.93Z" fill="#df6414"/><path d="M424.18,216.89 L417.91,213.61 L417.91,220.17Z" fill="#df6414"/><path d="M428.83,217.32 L422.56,214.04 L422.56,220.60Z" fill="#df6414"/><path d="M433.47,215.08 L427.20,211.80 L427.20,218.36Z" fill="#df6414"/><path d="M438.12,216.90 L431.85,213.62 L431.85,220.18Z" fill="#df6414"/><path d="M442.76,218.01 L436.49,214.73 L436.49,221.28Z" fill="#df6414"/><path d="M447.41,213.48 L441.14,210.20 L441.14,216.76Z" fill="#df6414"/><path d="M452.05,146.95 L445.78,143.67 L445.78,150.23Z" fill="#df6414"/><path d="M456.70,150.44 L450.43,147.17 L450.43,153.72Z" fill="#df6414"/><path d="M461.35,149.30 L455.08,146.02 L455.08,152.58Z" fill="#df6414"/><path d="M465.99,151.41 L459.72,148.14 L459.72,154.69Z" fill="#df6414"/><path d="M470.64,153.23 L464.37,149.95 L464.37,156.51Z" fill="#df6414"/><path d="M475.28,159.82 L469.01,156.54 L469.01,163.10Z" fill="#df6414"/><path d="M479.93,156.02 L473.66,152.74 L473.66,159.29Z" fill="#df6414"/><path d="M484.58,144.81 L478.31,141.53 L478.31,148.09Z" fill="#df6414"/><path d="M489.22,154.04 L482.95,150.77 L482.95,157.32Z" fill="#df6414"/><path d="M493.87,149.64 L487.60,146.36 L487.60,152.92Z" fill="#df6414"/><path d="M498.51,155.66 L492.24,152.39 L492.24,158.94Z" fill="#df6414"/><path d="M503.16,151.50 L496.89,148.22 L496.89,154.77Z" fill="#df6414"/><path d="M507.80,157.99 L501.53,154.71 L501.53,161.27Z" fill="#df6414"/><path d="M512.45,146.74 L506.18,143.46 L506.18,150.01Z" fill="#df6414"/><path d="M517.10,155.32 L510.83,152.05 L510.83,158.60Z" fill="#df6414"/><path d="M521.74,150.08 L515.47,146.80 L515.47,153.35Z" fill="#df6414"/><path d="M526.39,152.07 L520.12,148.79 L520.12,155.35Z" fill="#df6414"/><path d="M531.03,154.34 L524.76,151.06 L524.76,157.62Z" fill="#df6414"/><path d="M535.68,151.12 L529.41,147.84 L529.41,154.39Z" fill="#df6414"/><path d="M540.32,153.58 L534.05,150.30 L534.05,156.85Z" fill="#df6414"/><path d="M544.97,149.88 L538.70,146.60 L538.70,153.16Z" fill="#df6414"/><path d="M549.62,153.19 L543.35,149.91 L543.35,156.46Z" fill="#df6414"/><path d="M554.26,156.08 L547.99,152.80 L547.99,159.35Z" fill="#df6414"/><path d="M558.91,152.89 L552.64,149.61 L552.64,156.17Z" fill="#df6414"/><path d="M563.55,144.38 L557.28,141.11 L557.28,147.66Z" fill="#df6414"/><path d="M568.20,158.61 L561.93,155.34 L561.93,161.89Z" fill="#df6414"/><path d="M572.85,148.59 L566.58,145.31 L566.58,151.87Z" fill="#df6414"/><path d="M577.49,154.40 L571.22,151.12 L571.22,157.67Z" fill="#df6414"/><path d="M582.14,155.97 L575.87,152.69 L575.87,159.25Z" fill="#df6414"/><path d="M586.78,153.46 L580.51,150.18 L580.51,156.74Z" fill="#df6414"/><path d="M591.43,149.54 L585.16,146.26 L585.16,152.82Z" fill="#df6414"/><path d="M596.07,151.98 L589.80,148.71 L589.80,155.26Z" fill="#df6414"/><path d="M600.72,151.07 L594.45,147.80 L594.45,154.35Z" fill="#df6414"/><path d="M605.37,159.63 L599.10,156.35 L599.10,162.91Z" fill="#df6414"/><path d="M610.01,150.41 L603.74,147.14 L603.74,153.69Z" fill="#df6414"/><path d="M614.66,150.81 L608.39,147.53 L608.39,154.09Z" fill="#df6414"/><path d="M619.30,145.83 L613.03,142.55 L613.03,149.11Z" fill="#df6414"/><path d="M623.95,167.83 L617.68,164.55 L617.68,171.10Z" fill="#df6414"/><path d="M628.60,142.17 L622.33,138.89 L622.33,145.45Z" fill="#df6414"/><path d="M633.24,156.37 L626.97,153.09 L626.97,159.65Z" fill="#df6414"/><path d="M637.89,148.78 L631.62,145.50 L631.62,152.05Z" fill="#df6414"/><path d="M642.53,156.20 L636.26,152.93 L636.26,159.48Z" fill="#df6414"/><path d="M647.18,214.34 L640.91,211.06 L640.91,217.61Z" fill="#df6414"/><path d="M651.82,212.95 L645.55,209.67 L645.55,216.23Z" fill="#df6414"/><path d="M656.47,216.19 L650.20,212.92 L650.20,219.47Z" fill="#df6414"/><path d="M661.12,217.24 L654.85,213.96 L654.85,220.52Z" fill="#df6414"/><path d="M665.76,215.50 L659.49,212.22 L659.49,218.78Z" fill="#df6414"/><path d="M670.41,221.10 L664.14,217.83 L664.14,224.38Z" fill="#df6414"/><path d="M675.05,216.84 L668.78,213.56 L668.78,220.12Z" fill="#df6414"/>
<path d="M411.47,218.58 L416.11,217.18 L420.76,219.94 L425.41,215.43 L430.05,213.90 L434.70,214.36 L439.34,214.90 L443.99,220.35 L448.63,163.83 L453.28,166.40 L457.93,171.50 L462.57,160.83 L467.22,164.85 L471.86,168.22 L476.51,166.31 L481.16,163.42 L485.80,170.80 L490.45,161.40 L495.09,162.45 L499.74,170.24 L504.38,159.09 L509.03,167.69 L513.68,168.56 L518.32,159.24 L522.97,166.05 L527.61,160.30 L532.26,167.29 L536.90,157.35 L541.55,167.60 L546.20,159.88 L550.84,165.12 L555.49,161.74 L560.13,157.89 L564.78,164.44 L569.43,163.48 L574.07,164.21 L578.72,154.56 L583.36,162.11 L588.01,163.97 L592.65,159.14 L597.30,164.44 L601.95,160.67 L606.59,159.92 L611.24,156.53 L615.88,159.88 L620.53,162.86 L625.18,154.85 L629.82,158.83 L634.47,160.78 L639.11,155.90 L643.76,217.21 L648.40,219.13 L653.05,216.26 L657.70,212.93 L662.34,217.14 L666.99,213.89 L671.63,216.14" fill="none" stroke="#1a74c4" stroke-width="2.1" stroke-linejoin="round"/>
<path d="M408.05,218.58 L414.32,215.30 L414.32,221.86Z" fill="#1a74c4"/><path d="M412.69,217.18 L418.96,213.90 L418.96,220.45Z" fill="#1a74c4"/><path d="M417.34,219.94 L423.61,216.66 L423.61,223.22Z" fill="#1a74c4"/><path d="M421.99,215.43 L428.26,212.15 L428.26,218.71Z" fill="#1a74c4"/><path d="M426.63,213.90 L432.90,210.62 L432.90,217.17Z" fill="#1a74c4"/><path d="M431.28,214.36 L437.55,211.08 L437.55,217.64Z" fill="#1a74c4"/><path d="M435.92,214.90 L442.19,211.62 L442.19,218.18Z" fill="#1a74c4"/><path d="M440.57,220.35 L446.84,217.07 L446.84,223.63Z" fill="#1a74c4"/><path d="M445.21,163.83 L451.48,160.55 L451.48,167.10Z" fill="#1a74c4"/><path d="M449.86,166.40 L456.13,163.12 L456.13,169.67Z" fill="#1a74c4"/><path d="M454.51,171.50 L460.78,168.23 L460.78,174.78Z" fill="#1a74c4"/><path d="M459.15,160.83 L465.42,157.55 L465.42,164.11Z" fill="#1a74c4"/><path d="M463.80,164.85 L470.07,161.57 L470.07,168.13Z" fill="#1a74c4"/><path d="M468.44,168.22 L474.71,164.94 L474.71,171.49Z" fill="#1a74c4"/><path d="M473.09,166.31 L479.36,163.03 L479.36,169.59Z" fill="#1a74c4"/><path d="M477.74,163.42 L484.01,160.14 L484.01,166.69Z" fill="#1a74c4"/><path d="M482.38,170.80 L488.65,167.53 L488.65,174.08Z" fill="#1a74c4"/><path d="M487.03,161.40 L493.30,158.13 L493.30,164.68Z" fill="#1a74c4"/><path d="M491.67,162.45 L497.94,159.17 L497.94,165.73Z" fill="#1a74c4"/><path d="M496.32,170.24 L502.59,166.97 L502.59,173.52Z" fill="#1a74c4"/><path d="M500.96,159.09 L507.23,155.81 L507.23,162.36Z" fill="#1a74c4"/><path d="M505.61,167.69 L511.88,164.41 L511.88,170.97Z" fill="#1a74c4"/><path d="M510.26,168.56 L516.53,165.28 L516.53,171.84Z" fill="#1a74c4"/><path d="M514.90,159.24 L521.17,155.96 L521.17,162.52Z" fill="#1a74c4"/><path d="M519.55,166.05 L525.82,162.77 L525.82,169.33Z" fill="#1a74c4"/><path d="M524.19,160.30 L530.46,157.02 L530.46,163.58Z" fill="#1a74c4"/><path d="M528.84,167.29 L535.11,164.01 L535.11,170.57Z" fill="#1a74c4"/><path d="M533.48,157.35 L539.75,154.07 L539.75,160.63Z" fill="#1a74c4"/><path d="M538.13,167.60 L544.40,164.32 L544.40,170.87Z" fill="#1a74c4"/><path d="M542.78,159.88 L549.05,156.60 L549.05,163.16Z" fill="#1a74c4"/><path d="M547.42,165.12 L553.69,161.85 L553.69,168.40Z" fill="#1a74c4"/><path d="M552.07,161.74 L558.34,158.46 L558.34,165.02Z" fill="#1a74c4"/><path d="M556.71,157.89 L562.98,154.61 L562.98,161.17Z" fill="#1a74c4"/><path d="M561.36,164.44 L567.63,161.16 L567.63,167.72Z" fill="#1a74c4"/><path d="M566.01,163.48 L572.28,160.21 L572.28,166.76Z" fill="#1a74c4"/><path d="M570.65,164.21 L576.92,160.93 L576.92,167.49Z" fill="#1a74c4"/><path d="M575.30,154.56 L581.57,151.28 L581.57,157.83Z" fill="#1a74c4"/><path d="M579.94,162.11 L586.21,158.83 L586.21,165.39Z" fill="#1a74c4"/><path d="M584.59,163.97 L590.86,160.69 L590.86,167.25Z" fill="#1a74c4"/><path d="M589.23,159.14 L595.50,155.86 L595.50,162.42Z" fill="#1a74c4"/><path d="M593.88,164.44 L600.15,161.16 L600.15,167.72Z" fill="#1a74c4"/><path d="M598.53,160.67 L604.80,157.39 L604.80,163.94Z" fill="#1a74c4"/><path d="M603.17,159.92 L609.44,156.65 L609.44,163.20Z" fill="#1a74c4"/><path d="M607.82,156.53 L614.09,153.25 L614.09,159.81Z" fill="#1a74c4"/><path d="M612.46,159.88 L618.73,156.60 L618.73,163.15Z" fill="#1a74c4"/><path d="M617.11,162.86 L623.38,159.59 L623.38,166.14Z" fill="#1a74c4"/><path d="M621.76,154.85 L628.03,151.57 L628.03,158.13Z" fill="#1a74c4"/><path d="M626.40,158.83 L632.67,155.55 L632.67,162.10Z" fill="#1a74c4"/><path d="M631.05,160.78 L637.32,157.50 L637.32,164.06Z" fill="#1a74c4"/><path d="M635.69,155.90 L641.96,152.62 L641.96,159.18Z" fill="#1a74c4"/><path d="M640.34,217.21 L646.61,213.93 L646.61,220.48Z" fill="#1a74c4"/><path d="M644.98,219.13 L651.25,215.85 L651.25,222.41Z" fill="#1a74c4"/><path d="M649.63,216.26 L655.90,212.99 L655.90,219.54Z" fill="#1a74c4"/><path d="M654.28,212.93 L660.55,209.66 L660.55,216.21Z" fill="#1a74c4"/><path d="M658.92,217.14 L665.19,213.86 L665.19,220.41Z" fill="#1a74c4"/><path d="M663.57,213.89 L669.84,210.62 L669.84,217.17Z" fill="#1a74c4"/><path d="M668.21,216.14 L674.48,212.86 L674.48,219.42Z" fill="#1a74c4"/>
<path d="M411.47,215.59 L416.11,215.72 L420.76,217.86 L425.41,216.25 L430.05,217.65 L434.70,215.73 L439.34,217.03 L443.99,218.29 L448.63,167.50 L453.28,178.88 L457.93,163.98 L462.57,180.80 L467.22,162.95 L471.86,177.68 L476.51,162.17 L481.16,179.00 L485.80,174.09 L490.45,158.35 L495.09,161.62 L499.74,180.82 L504.38,163.67 L509.03,172.15 L513.68,171.16 L518.32,165.23 L522.97,164.28 L527.61,181.19 L532.26,161.33 L536.90,169.57 L541.55,176.74 L546.20,155.13 L550.84,166.20 L555.49,181.29 L560.13,155.90 L564.78,175.53 L569.43,169.18 L574.07,159.92 L578.72,173.54 L583.36,167.25 L588.01,161.55 L592.65,168.05 L597.30,168.92 L601.95,178.88 L606.59,168.99 L611.24,153.87 L615.88,177.48 L620.53,161.80 L625.18,173.49 L629.82,162.61 L634.47,172.88 L639.11,151.29 L643.76,213.64 L648.40,213.01 L653.05,217.23 L657.70,218.83 L662.34,216.76 L666.99,218.37 L671.63,217.51" fill="none" stroke="#fbe83a" stroke-width="2.1" stroke-linejoin="round"/>
<path d="M411.47,211.89 L414.60,215.59 L411.47,219.30 L408.33,215.59Z" fill="#fbe83a"/><path d="M416.11,212.02 L419.25,215.72 L416.11,219.43 L412.98,215.72Z" fill="#fbe83a"/><path d="M420.76,214.15 L423.89,217.86 L420.76,221.56 L417.62,217.86Z" fill="#fbe83a"/><path d="M425.41,212.55 L428.54,216.25 L425.41,219.96 L422.27,216.25Z" fill="#fbe83a"/><path d="M430.05,213.95 L433.19,217.65 L430.05,221.36 L426.92,217.65Z" fill="#fbe83a"/><path d="M434.70,212.03 L437.83,215.73 L434.70,219.44 L431.56,215.73Z" fill="#fbe83a"/><path d="M439.34,213.33 L442.48,217.03 L439.34,220.74 L436.21,217.03Z" fill="#fbe83a"/><path d="M443.99,214.59 L447.12,218.29 L443.99,222.00 L440.85,218.29Z" fill="#fbe83a"/><path d="M448.63,163.80 L451.77,167.50 L448.63,171.21 L445.50,167.50Z" fill="#fbe83a"/><path d="M453.28,175.17 L456.42,178.88 L453.28,182.58 L450.15,178.88Z" fill="#fbe83a"/><path d="M457.93,160.27 L461.06,163.98 L457.93,167.68 L454.79,163.98Z" fill="#fbe83a"/><path d="M462.57,177.09 L465.71,180.80 L462.57,184.50 L459.44,180.80Z" fill="#fbe83a"/><path d="M467.22,159.25 L470.35,162.95 L467.22,166.66 L464.08,162.95Z" fill="#fbe83a"/><path d="M471.86,173.97 L475.00,177.68 L471.86,181.38 L468.73,177.68Z" fill="#fbe83a"/><path d="M476.51,158.46 L479.64,162.17 L476.51,165.87 L473.37,162.17Z" fill="#fbe83a"/><path d="M481.16,175.29 L484.29,179.00 L481.16,182.70 L478.02,179.00Z" fill="#fbe83a"/><path d="M485.80,170.39 L488.94,174.09 L485.80,177.80 L482.67,174.09Z" fill="#fbe83a"/><path d="M490.45,154.65 L493.58,158.35 L490.45,162.06 L487.31,158.35Z" fill="#fbe83a"/><path d="M495.09,157.92 L498.23,161.62 L495.09,165.33 L491.96,161.62Z" fill="#fbe83a"/><path d="M499.74,177.12 L502.87,180.82 L499.74,184.53 L496.60,180.82Z" fill="#fbe83a"/><path d="M504.38,159.97 L507.52,163.67 L504.38,167.38 L501.25,163.67Z" fill="#fbe83a"/><path d="M509.03,168.45 L512.17,172.15 L509.03,175.86 L505.90,172.15Z" fill="#fbe83a"/><path d="M513.68,167.45 L516.81,171.16 L513.68,174.86 L510.54,171.16Z" fill="#fbe83a"/><path d="M518.32,161.52 L521.46,165.23 L518.32,168.93 L515.19,165.23Z" fill="#fbe83a"/><path d="M522.97,160.57 L526.10,164.28 L522.97,167.98 L519.83,164.28Z" fill="#fbe83a"/><path d="M527.61,177.49 L530.75,181.19 L527.61,184.90 L524.48,181.19Z" fill="#fbe83a"/><path d="M532.26,157.62 L535.39,161.33 L532.26,165.03 L529.12,161.33Z" fill="#fbe83a"/><path d="M536.90,165.86 L540.04,169.57 L536.90,173.27 L533.77,169.57Z" fill="#fbe83a"/><path d="M541.55,173.03 L544.69,176.74 L541.55,180.44 L538.42,176.74Z" fill="#fbe83a"/><path d="M546.20,151.42 L549.33,155.13 L546.20,158.83 L543.06,155.13Z" fill="#fbe83a"/><path d="M550.84,162.49 L553.98,166.20 L550.84,169.90 L547.71,166.20Z" fill="#fbe83a"/><path d="M555.49,177.58 L558.62,181.29 L555.49,184.99 L552.35,181.29Z" fill="#fbe83a"/><path d="M560.13,152.19 L563.27,155.90 L560.13,159.60 L557.00,155.90Z" fill="#fbe83a"/><path d="M564.78,171.82 L567.91,175.53 L564.78,179.23 L561.64,175.53Z" fill="#fbe83a"/><path d="M569.43,165.48 L572.56,169.18 L569.43,172.89 L566.29,169.18Z" fill="#fbe83a"/><path d="M574.07,156.21 L577.21,159.92 L574.07,163.62 L570.94,159.92Z" fill="#fbe83a"/><path d="M578.72,169.83 L581.85,173.54 L578.72,177.24 L575.58,173.54Z" fill="#fbe83a"/><path d="M583.36,163.55 L586.50,167.25 L583.36,170.96 L580.23,167.25Z" fill="#fbe83a"/><path d="M588.01,157.84 L591.14,161.55 L588.01,165.25 L584.87,161.55Z" fill="#fbe83a"/><path d="M592.65,164.34 L595.79,168.05 L592.65,171.75 L589.52,168.05Z" fill="#fbe83a"/><path d="M597.30,165.22 L600.44,168.92 L597.30,172.63 L594.17,168.92Z" fill="#fbe83a"/><path d="M601.95,175.18 L605.08,178.88 L601.95,182.59 L598.81,178.88Z" fill="#fbe83a"/><path d="M606.59,165.28 L609.73,168.99 L606.59,172.69 L603.46,168.99Z" fill="#fbe83a"/><path d="M611.24,150.16 L614.37,153.87 L611.24,157.57 L608.10,153.87Z" fill="#fbe83a"/><path d="M615.88,173.77 L619.02,177.48 L615.88,181.18 L612.75,177.48Z" fill="#fbe83a"/><path d="M620.53,158.10 L623.66,161.80 L620.53,165.51 L617.39,161.80Z" fill="#fbe83a"/><path d="M625.18,169.79 L628.31,173.49 L625.18,177.20 L622.04,173.49Z" fill="#fbe83a"/><path d="M629.82,158.90 L632.96,162.61 L629.82,166.31 L626.69,162.61Z" fill="#fbe83a"/><path d="M634.47,169.18 L637.60,172.88 L634.47,176.59 L631.33,172.88Z" fill="#fbe83a"/><path d="M639.11,147.58 L642.25,151.29 L639.11,154.99 L635.98,151.29Z" fill="#fbe83a"/><path d="M643.76,209.94 L646.89,213.64 L643.76,217.35 L640.62,213.64Z" fill="#fbe83a"/><path d="M648.40,209.30 L651.54,213.01 L648.40,216.71 L645.27,213.01Z" fill="#fbe83a"/><path d="M653.05,213.52 L656.19,217.23 L653.05,220.93 L649.92,217.23Z" fill="#fbe83a"/><path d="M657.70,215.13 L660.83,218.83 L657.70,222.54 L654.56,218.83Z" fill="#fbe83a"/><path d="M662.34,213.06 L665.48,216.76 L662.34,220.47 L659.21,216.76Z" fill="#fbe83a"/><path d="M666.99,214.67 L670.12,218.37 L666.99,222.08 L663.85,218.37Z" fill="#fbe83a"/><path d="M671.63,213.81 L674.77,217.51 L671.63,221.22 L668.50,217.51Z" fill="#fbe83a"/>
<path d="M411.47,218.34 L416.11,218.95 L420.76,217.87 L425.41,214.60 L430.05,216.51 L434.70,216.27 L439.34,217.55 L443.99,217.39 L448.63,169.87 L453.28,181.36 L457.93,178.01 L462.57,169.94 L467.22,181.78 L471.86,179.67 L476.51,171.39 L481.16,180.97 L485.80,175.43 L490.45,173.98 L495.09,177.71 L499.74,178.44 L504.38,175.95 L509.03,176.70 L513.68,170.83 L518.32,182.23 L522.97,176.13 L527.61,167.79 L532.26,184.50 L536.90,169.57 L541.55,176.47 L546.20,181.06 L550.84,180.91 L555.49,170.22 L560.13,175.43 L564.78,175.07 L569.43,179.31 L574.07,172.18 L578.72,175.25 L583.36,185.05 L588.01,167.37 L592.65,180.64 L597.30,179.17 L601.95,175.65 L606.59,167.90 L611.24,179.18 L615.88,187.05 L620.53,169.58 L625.18,177.26 L629.82,176.59 L634.47,177.85 L639.11,180.51 L643.76,217.67 L648.40,219.95 L653.05,211.85 L657.70,212.65 L662.34,214.63 L666.99,217.10 L671.63,215.30" fill="none" stroke="#129e6e" stroke-width="2.1" stroke-linejoin="round"/>
<path d="M411.47,221.76 L408.19,215.49 L414.75,215.49Z" fill="#129e6e"/><path d="M416.11,222.37 L412.84,216.10 L419.39,216.10Z" fill="#129e6e"/><path d="M420.76,221.29 L417.48,215.02 L424.04,215.02Z" fill="#129e6e"/><path d="M425.41,218.02 L422.13,211.75 L428.68,211.75Z" fill="#129e6e"/><path d="M430.05,219.93 L426.77,213.66 L433.33,213.66Z" fill="#129e6e"/><path d="M434.70,219.69 L431.42,213.42 L437.97,213.42Z" fill="#129e6e"/><path d="M439.34,220.97 L436.07,214.70 L442.62,214.70Z" fill="#129e6e"/><path d="M443.99,220.81 L440.71,214.54 L447.27,214.54Z" fill="#129e6e"/><path d="M448.63,173.29 L445.36,167.02 L451.91,167.02Z" fill="#129e6e"/><path d="M453.28,184.78 L450.00,178.51 L456.56,178.51Z" fill="#129e6e"/><path d="M457.93,181.43 L454.65,175.16 L461.20,175.16Z" fill="#129e6e"/><path d="M462.57,173.36 L459.29,167.09 L465.85,167.09Z" fill="#129e6e"/><path d="M467.22,185.20 L463.94,178.93 L470.50,178.93Z" fill="#129e6e"/><path d="M471.86,183.09 L468.59,176.82 L475.14,176.82Z" fill="#129e6e"/><path d="M476.51,174.81 L473.23,168.54 L479.79,168.54Z" fill="#129e6e"/><path d="M481.16,184.39 L477.88,178.12 L484.43,178.12Z" fill="#129e6e"/><path d="M485.80,178.85 L482.52,172.58 L489.08,172.58Z" fill="#129e6e"/><path d="M490.45,177.40 L487.17,171.13 L493.72,171.13Z" fill="#129e6e"/><path d="M495.09,181.13 L491.82,174.86 L498.37,174.86Z" fill="#129e6e"/><path d="M499.74,181.86 L496.46,175.59 L503.02,175.59Z" fill="#129e6e"/><path d="M504.38,179.37 L501.11,173.10 L507.66,173.10Z" fill="#129e6e"/><path d="M509.03,180.12 L505.75,173.85 L512.31,173.85Z" fill="#129e6e"/><path d="M513.68,174.25 L510.40,167.98 L516.95,167.98Z" fill="#129e6e"/><path d="M518.32,185.65 L515.04,179.38 L521.60,179.38Z" fill="#129e6e"/><path d="M522.97,179.55 L519.69,173.28 L526.25,173.28Z" fill="#129e6e"/><path d="M527.61,171.21 L524.34,164.94 L530.89,164.94Z" fill="#129e6e"/><path d="M532.26,187.92 L528.98,181.65 L535.54,181.65Z" fill="#129e6e"/><path d="M536.90,172.99 L533.63,166.72 L540.18,166.72Z" fill="#129e6e"/><path d="M541.55,179.89 L538.27,173.62 L544.83,173.62Z" fill="#129e6e"/><path d="M546.20,184.48 L542.92,178.21 L549.47,178.21Z" fill="#129e6e"/><path d="M550.84,184.33 L547.56,178.06 L554.12,178.06Z" fill="#129e6e"/><path d="M555.49,173.64 L552.21,167.37 L558.77,167.37Z" fill="#129e6e"/><path d="M560.13,178.85 L556.86,172.58 L563.41,172.58Z" fill="#129e6e"/><path d="M564.78,178.49 L561.50,172.22 L568.06,172.22Z" fill="#129e6e"/><path d="M569.43,182.73 L566.15,176.46 L572.70,176.46Z" fill="#129e6e"/><path d="M574.07,175.60 L570.79,169.33 L577.35,169.33Z" fill="#129e6e"/><path d="M578.72,178.67 L575.44,172.40 L581.99,172.40Z" fill="#129e6e"/><path d="M583.36,188.47 L580.09,182.20 L586.64,182.20Z" fill="#129e6e"/><path d="M588.01,170.79 L584.73,164.52 L591.29,164.52Z" fill="#129e6e"/><path d="M592.65,184.06 L589.38,177.79 L595.93,177.79Z" fill="#129e6e"/><path d="M597.30,182.59 L594.02,176.32 L600.58,176.32Z" fill="#129e6e"/><path d="M601.95,179.07 L598.67,172.80 L605.22,172.80Z" fill="#129e6e"/><path d="M606.59,171.32 L603.31,165.05 L609.87,165.05Z" fill="#129e6e"/><path d="M611.24,182.60 L607.96,176.33 L614.52,176.33Z" fill="#129e6e"/><path d="M615.88,190.47 L612.61,184.20 L619.16,184.20Z" fill="#129e6e"/><path d="M620.53,173.00 L617.25,166.73 L623.81,166.73Z" fill="#129e6e"/><path d="M625.18,180.68 L621.90,174.41 L628.45,174.41Z" fill="#129e6e"/><path d="M629.82,180.01 L626.54,173.74 L633.10,173.74Z" fill="#129e6e"/><path d="M634.47,181.27 L631.19,175.00 L637.74,175.00Z" fill="#129e6e"/><path d="M639.11,183.93 L635.84,177.66 L642.39,177.66Z" fill="#129e6e"/><path d="M643.76,221.09 L640.48,214.82 L647.04,214.82Z" fill="#129e6e"/><path d="M648.40,223.37 L645.13,217.10 L651.68,217.10Z" fill="#129e6e"/><path d="M653.05,215.27 L649.77,209.00 L656.33,209.00Z" fill="#129e6e"/><path d="M657.70,216.07 L654.42,209.80 L660.97,209.80Z" fill="#129e6e"/><path d="M662.34,218.05 L659.06,211.78 L665.62,211.78Z" fill="#129e6e"/><path d="M666.99,220.52 L663.71,214.25 L670.27,214.25Z" fill="#129e6e"/><path d="M671.63,218.72 L668.36,212.45 L674.91,212.45Z" fill="#129e6e"/>
<path d="M411.47,216.25 L416.11,216.60 L420.76,216.91 L425.41,214.18 L430.05,218.28 L434.70,215.59 L439.34,216.99 L443.99,216.23 L448.63,192.21 L453.28,182.00 L457.93,190.58 L462.57,182.79 L467.22,195.55 L471.86,195.47 L476.51,179.73 L481.16,177.33 L485.80,193.79 L490.45,190.34 L495.09,183.36 L499.74,189.02 L504.38,187.75 L509.03,191.79 L513.68,185.44 L518.32,187.20 L522.97,191.45 L527.61,190.21 L532.26,182.59 L536.90,183.93 L541.55,188.82 L546.20,188.20 L550.84,187.50 L555.49,177.67 L560.13,197.68 L564.78,183.88 L569.43,182.81 L574.07,196.19 L578.72,186.71 L583.36,183.75 L588.01,184.00 L592.65,193.93 L597.30,187.37 L601.95,189.01 L606.59,194.51 L611.24,176.17 L615.88,194.47 L620.53,195.78 L625.18,180.21 L629.82,196.48 L634.47,184.77 L639.11,182.67 L643.76,219.08 L648.40,214.74 L653.05,220.40 L657.70,215.92 L662.34,218.64 L666.99,216.67 L671.63,218.25" fill="none" stroke="#55b9ef" stroke-width="2.1" stroke-linejoin="round"/>
<path d="M411.47,212.83 L408.19,219.10 L414.75,219.10Z" fill="#55b9ef"/><path d="M416.11,213.18 L412.84,219.45 L419.39,219.45Z" fill="#55b9ef"/><path d="M420.76,213.49 L417.48,219.76 L424.04,219.76Z" fill="#55b9ef"/><path d="M425.41,210.76 L422.13,217.03 L428.68,217.03Z" fill="#55b9ef"/><path d="M430.05,214.86 L426.77,221.13 L433.33,221.13Z" fill="#55b9ef"/><path d="M434.70,212.17 L431.42,218.44 L437.97,218.44Z" fill="#55b9ef"/><path d="M439.34,213.57 L436.07,219.84 L442.62,219.84Z" fill="#55b9ef"/><path d="M443.99,212.81 L440.71,219.08 L447.27,219.08Z" fill="#55b9ef"/><path d="M448.63,188.79 L445.36,195.06 L451.91,195.06Z" fill="#55b9ef"/><path d="M453.28,178.58 L450.00,184.85 L456.56,184.85Z" fill="#55b9ef"/><path d="M457.93,187.16 L454.65,193.43 L461.20,193.43Z" fill="#55b9ef"/><path d="M462.57,179.37 L459.29,185.64 L465.85,185.64Z" fill="#55b9ef"/><path d="M467.22,192.13 L463.94,198.40 L470.50,198.40Z" fill="#55b9ef"/><path d="M471.86,192.05 L468.59,198.32 L475.14,198.32Z" fill="#55b9ef"/><path d="M476.51,176.31 L473.23,182.58 L479.79,182.58Z" fill="#55b9ef"/><path d="M481.16,173.91 L477.88,180.18 L484.43,180.18Z" fill="#55b9ef"/><path d="M485.80,190.37 L482.52,196.64 L489.08,196.64Z" fill="#55b9ef"/><path d="M490.45,186.92 L487.17,193.19 L493.72,193.19Z" fill="#55b9ef"/><path d="M495.09,179.94 L491.82,186.21 L498.37,186.21Z" fill="#55b9ef"/><path d="M499.74,185.60 L496.46,191.87 L503.02,191.87Z" fill="#55b9ef"/><path d="M504.38,184.33 L501.11,190.60 L507.66,190.60Z" fill="#55b9ef"/><path d="M509.03,188.37 L505.75,194.64 L512.31,194.64Z" fill="#55b9ef"/><path d="M513.68,182.02 L510.40,188.29 L516.95,188.29Z" fill="#55b9ef"/><path d="M518.32,183.78 L515.04,190.05 L521.60,190.05Z" fill="#55b9ef"/><path d="M522.97,188.03 L519.69,194.30 L526.25,194.30Z" fill="#55b9ef"/><path d="M527.61,186.79 L524.34,193.06 L530.89,193.06Z" fill="#55b9ef"/><path d="M532.26,179.17 L528.98,185.44 L535.54,185.44Z" fill="#55b9ef"/><path d="M536.90,180.51 L533.63,186.78 L540.18,186.78Z" fill="#55b9ef"/><path d="M541.55,185.40 L538.27,191.67 L544.83,191.67Z" fill="#55b9ef"/><path d="M546.20,184.78 L542.92,191.05 L549.47,191.05Z" fill="#55b9ef"/><path d="M550.84,184.08 L547.56,190.35 L554.12,190.35Z" fill="#55b9ef"/><path d="M555.49,174.25 L552.21,180.52 L558.77,180.52Z" fill="#55b9ef"/><path d="M560.13,194.26 L556.86,200.53 L563.41,200.53Z" fill="#55b9ef"/><path d="M564.78,180.46 L561.50,186.73 L568.06,186.73Z" fill="#55b9ef"/><path d="M569.43,179.39 L566.15,185.66 L572.70,185.66Z" fill="#55b9ef"/><path d="M574.07,192.77 L570.79,199.04 L577.35,199.04Z" fill="#55b9ef"/><path d="M578.72,183.29 L575.44,189.56 L581.99,189.56Z" fill="#55b9ef"/><path d="M583.36,180.33 L580.09,186.60 L586.64,186.60Z" fill="#55b9ef"/><path d="M588.01,180.58 L584.73,186.85 L591.29,186.85Z" fill="#55b9ef"/><path d="M592.65,190.51 L589.38,196.78 L595.93,196.78Z" fill="#55b9ef"/><path d="M597.30,183.95 L594.02,190.22 L600.58,190.22Z" fill="#55b9ef"/><path d="M601.95,185.59 L598.67,191.86 L605.22,191.86Z" fill="#55b9ef"/><path d="M606.59,191.09 L603.31,197.36 L609.87,197.36Z" fill="#55b9ef"/><path d="M611.24,172.75 L607.96,179.02 L614.52,179.02Z" fill="#55b9ef"/><path d="M615.88,191.05 L612.61,197.32 L619.16,197.32Z" fill="#55b9ef"/><path d="M620.53,192.36 L617.25,198.63 L623.81,198.63Z" fill="#55b9ef"/><path d="M625.18,176.79 L621.90,183.06 L628.45,183.06Z" fill="#55b9ef"/><path d="M629.82,193.06 L626.54,199.33 L633.10,199.33Z" fill="#55b9ef"/><path d="M634.47,181.35 L631.19,187.62 L637.74,187.62Z" fill="#55b9ef"/><path d="M639.11,179.25 L635.84,185.52 L642.39,185.52Z" fill="#55b9ef"/><path d="M643.76,215.66 L640.48,221.93 L647.04,221.93Z" fill="#55b9ef"/><path d="M648.40,211.32 L645.13,217.59 L651.68,217.59Z" fill="#55b9ef"/><path d="M653.05,216.98 L649.77,223.25 L656.33,223.25Z" fill="#55b9ef"/><path d="M657.70,212.50 L654.42,218.77 L660.97,218.77Z" fill="#55b9ef"/><path d="M662.34,215.22 L659.06,221.49 L665.62,221.49Z" fill="#55b9ef"/><path d="M666.99,213.25 L663.71,219.52 L670.27,219.52Z" fill="#55b9ef"/><path d="M671.63,214.83 L668.36,221.10 L674.91,221.10Z" fill="#55b9ef"/>
<path d="M411.47,215.64 L416.11,216.37 L420.76,219.94 L425.41,221.00 L430.05,219.09 L434.70,215.10 L439.34,215.81 L443.99,215.86 L448.63,199.95 L453.28,194.69 L457.93,198.50 L462.57,199.35 L467.22,203.61 L471.86,196.05 L476.51,199.48 L481.16,202.40 L485.80,191.84 L490.45,200.59 L495.09,200.07 L499.74,192.32 L504.38,199.74 L509.03,197.46 L513.68,196.50 L518.32,199.01 L522.97,204.08 L527.61,195.09 L532.26,192.92 L536.90,203.15 L541.55,194.80 L546.20,195.95 L550.84,193.30 L555.49,197.02 L560.13,197.90 L564.78,200.44 L569.43,192.77 L574.07,197.73 L578.72,198.91 L583.36,190.79 L588.01,199.10 L592.65,200.84 L597.30,188.65 L601.95,201.48 L606.59,192.73 L611.24,204.00 L615.88,190.37 L620.53,199.40 L625.18,196.06 L629.82,199.70 L634.47,179.47 L639.11,203.90 L643.76,214.41 L648.40,218.01 L653.05,219.50 L657.70,213.61 L662.34,213.22 L666.99,213.30 L671.63,217.80" fill="none" stroke="#f0a10e" stroke-width="2.1" stroke-linejoin="round"/>
<circle cx="411.47" cy="215.64" r="2.85" fill="#f0a10e"/><circle cx="416.11" cy="216.37" r="2.85" fill="#f0a10e"/><circle cx="420.76" cy="219.94" r="2.85" fill="#f0a10e"/><circle cx="425.41" cy="221.00" r="2.85" fill="#f0a10e"/><circle cx="430.05" cy="219.09" r="2.85" fill="#f0a10e"/><circle cx="434.70" cy="215.10" r="2.85" fill="#f0a10e"/><circle cx="439.34" cy="215.81" r="2.85" fill="#f0a10e"/><circle cx="443.99" cy="215.86" r="2.85" fill="#f0a10e"/><circle cx="448.63" cy="199.95" r="2.85" fill="#f0a10e"/><circle cx="453.28" cy="194.69" r="2.85" fill="#f0a10e"/><circle cx="457.93" cy="198.50" r="2.85" fill="#f0a10e"/><circle cx="462.57" cy="199.35" r="2.85" fill="#f0a10e"/><circle cx="467.22" cy="203.61" r="2.85" fill="#f0a10e"/><circle cx="471.86" cy="196.05" r="2.85" fill="#f0a10e"/><circle cx="476.51" cy="199.48" r="2.85" fill="#f0a10e"/><circle cx="481.16" cy="202.40" r="2.85" fill="#f0a10e"/><circle cx="485.80" cy="191.84" r="2.85" fill="#f0a10e"/><circle cx="490.45" cy="200.59" r="2.85" fill="#f0a10e"/><circle cx="495.09" cy="200.07" r="2.85" fill="#f0a10e"/><circle cx="499.74" cy="192.32" r="2.85" fill="#f0a10e"/><circle cx="504.38" cy="199.74" r="2.85" fill="#f0a10e"/><circle cx="509.03" cy="197.46" r="2.85" fill="#f0a10e"/><circle cx="513.68" cy="196.50" r="2.85" fill="#f0a10e"/><circle cx="518.32" cy="199.01" r="2.85" fill="#f0a10e"/><circle cx="522.97" cy="204.08" r="2.85" fill="#f0a10e"/><circle cx="527.61" cy="195.09" r="2.85" fill="#f0a10e"/><circle cx="532.26" cy="192.92" r="2.85" fill="#f0a10e"/><circle cx="536.90" cy="203.15" r="2.85" fill="#f0a10e"/><circle cx="541.55" cy="194.80" r="2.85" fill="#f0a10e"/><circle cx="546.20" cy="195.95" r="2.85" fill="#f0a10e"/><circle cx="550.84" cy="193.30" r="2.85" fill="#f0a10e"/><circle cx="555.49" cy="197.02" r="2.85" fill="#f0a10e"/><circle cx="560.13" cy="197.90" r="2.85" fill="#f0a10e"/><circle cx="564.78" cy="200.44" r="2.85" fill="#f0a10e"/><circle cx="569.43" cy="192.77" r="2.85" fill="#f0a10e"/><circle cx="574.07" cy="197.73" r="2.85" fill="#f0a10e"/><circle cx="578.72" cy="198.91" r="2.85" fill="#f0a10e"/><circle cx="583.36" cy="190.79" r="2.85" fill="#f0a10e"/><circle cx="588.01" cy="199.10" r="2.85" fill="#f0a10e"/><circle cx="592.65" cy="200.84" r="2.85" fill="#f0a10e"/><circle cx="597.30" cy="188.65" r="2.85" fill="#f0a10e"/><circle cx="601.95" cy="201.48" r="2.85" fill="#f0a10e"/><circle cx="606.59" cy="192.73" r="2.85" fill="#f0a10e"/><circle cx="611.24" cy="204.00" r="2.85" fill="#f0a10e"/><circle cx="615.88" cy="190.37" r="2.85" fill="#f0a10e"/><circle cx="620.53" cy="199.40" r="2.85" fill="#f0a10e"/><circle cx="625.18" cy="196.06" r="2.85" fill="#f0a10e"/><circle cx="629.82" cy="199.70" r="2.85" fill="#f0a10e"/><circle cx="634.47" cy="179.47" r="2.85" fill="#f0a10e"/><circle cx="639.11" cy="203.90" r="2.85" fill="#f0a10e"/><circle cx="643.76" cy="214.41" r="2.85" fill="#f0a10e"/><circle cx="648.40" cy="218.01" r="2.85" fill="#f0a10e"/><circle cx="653.05" cy="219.50" r="2.85" fill="#f0a10e"/><circle cx="657.70" cy="213.61" r="2.85" fill="#f0a10e"/><circle cx="662.34" cy="213.22" r="2.85" fill="#f0a10e"/><circle cx="666.99" cy="213.30" r="2.85" fill="#f0a10e"/><circle cx="671.63" cy="217.80" r="2.85" fill="#f0a10e"/>
<path d="M411.47,212.95 L416.11,215.21 L420.76,214.66 L425.41,218.19 L430.05,219.13 L434.70,217.44 L439.34,216.24 L443.99,217.59 L448.63,209.04 L453.28,209.34 L457.93,206.13 L462.57,209.92 L467.22,208.28 L471.86,211.80 L476.51,205.32 L481.16,210.30 L485.80,216.10 L490.45,200.68 L495.09,211.15 L499.74,204.42 L504.38,212.16 L509.03,208.59 L513.68,207.60 L518.32,209.43 L522.97,210.45 L527.61,214.47 L532.26,195.46 L536.90,221.19 L541.55,204.92 L546.20,204.86 L550.84,209.32 L555.49,207.60 L560.13,207.37 L564.78,205.92 L569.43,211.83 L574.07,196.99 L578.72,223.52 L583.36,204.07 L588.01,211.17 L592.65,209.88 L597.30,205.40 L601.95,203.03 L606.59,217.48 L611.24,209.39 L615.88,202.58 L620.53,208.89 L625.18,201.37 L629.82,211.33 L634.47,211.62 L639.11,211.25 L643.76,217.86 L648.40,217.08 L653.05,217.40 L657.70,216.27 L662.34,217.77 L666.99,215.56 L671.63,221.17" fill="none" stroke="#000000" stroke-width="2.1" stroke-linejoin="round"/>
<rect x="408.76" y="210.24" width="5.42" height="5.42" fill="#000000"/><rect x="413.41" y="212.51" width="5.42" height="5.42" fill="#000000"/><rect x="418.05" y="211.96" width="5.42" height="5.42" fill="#000000"/><rect x="422.70" y="215.48" width="5.42" height="5.42" fill="#000000"/><rect x="427.34" y="216.42" width="5.42" height="5.42" fill="#000000"/><rect x="431.99" y="214.74" width="5.42" height="5.42" fill="#000000"/><rect x="436.64" y="213.54" width="5.42" height="5.42" fill="#000000"/><rect x="441.28" y="214.88" width="5.42" height="5.42" fill="#000000"/><rect x="445.93" y="206.33" width="5.42" height="5.42" fill="#000000"/><rect x="450.57" y="206.63" width="5.42" height="5.42" fill="#000000"/><rect x="455.22" y="203.43" width="5.42" height="5.42" fill="#000000"/><rect x="459.86" y="207.21" width="5.42" height="5.42" fill="#000000"/><rect x="464.51" y="205.58" width="5.42" height="5.42" fill="#000000"/><rect x="469.16" y="209.09" width="5.42" height="5.42" fill="#000000"/><rect x="473.80" y="202.62" width="5.42" height="5.42" fill="#000000"/><rect x="478.45" y="207.59" width="5.42" height="5.42" fill="#000000"/><rect x="483.09" y="213.39" width="5.42" height="5.42" fill="#000000"/><rect x="487.74" y="197.97" width="5.42" height="5.42" fill="#000000"/><rect x="492.39" y="208.44" width="5.42" height="5.42" fill="#000000"/><rect x="497.03" y="201.72" width="5.42" height="5.42" fill="#000000"/><rect x="501.68" y="209.45" width="5.42" height="5.42" fill="#000000"/><rect x="506.32" y="205.88" width="5.42" height="5.42" fill="#000000"/><rect x="510.97" y="204.89" width="5.42" height="5.42" fill="#000000"/><rect x="515.61" y="206.72" width="5.42" height="5.42" fill="#000000"/><rect x="520.26" y="207.75" width="5.42" height="5.42" fill="#000000"/><rect x="524.91" y="211.76" width="5.42" height="5.42" fill="#000000"/><rect x="529.55" y="192.75" width="5.42" height="5.42" fill="#000000"/><rect x="534.20" y="218.48" width="5.42" height="5.42" fill="#000000"/><rect x="538.84" y="202.21" width="5.42" height="5.42" fill="#000000"/><rect x="543.49" y="202.15" width="5.42" height="5.42" fill="#000000"/><rect x="548.13" y="206.61" width="5.42" height="5.42" fill="#000000"/><rect x="552.78" y="204.89" width="5.42" height="5.42" fill="#000000"/><rect x="557.43" y="204.66" width="5.42" height="5.42" fill="#000000"/><rect x="562.07" y="203.21" width="5.42" height="5.42" fill="#000000"/><rect x="566.72" y="209.12" width="5.42" height="5.42" fill="#000000"/><rect x="571.36" y="194.28" width="5.42" height="5.42" fill="#000000"/><rect x="576.01" y="220.82" width="5.42" height="5.42" fill="#000000"/><rect x="580.66" y="201.37" width="5.42" height="5.42" fill="#000000"/><rect x="585.30" y="208.46" width="5.42" height="5.42" fill="#000000"/><rect x="589.95" y="207.18" width="5.42" height="5.42" fill="#000000"/><rect x="594.59" y="202.69" width="5.42" height="5.42" fill="#000000"/><rect x="599.24" y="200.32" width="5.42" height="5.42" fill="#000000"/><rect x="603.88" y="214.77" width="5.42" height="5.42" fill="#000000"/><rect x="608.53" y="206.68" width="5.42" height="5.42" fill="#000000"/><rect x="613.18" y="199.87" width="5.42" height="5.42" fill="#000000"/><rect x="617.82" y="206.18" width="5.42" height="5.42" fill="#000000"/><rect x="622.47" y="198.67" width="5.42" height="5.42" fill="#000000"/><rect x="627.11" y="208.63" width="5.42" height="5.42" fill="#000000"/><rect x="631.76" y="208.91" width="5.42" height="5.42" fill="#000000"/><rect x="636.41" y="208.54" width="5.42" height="5.42" fill="#000000"/><rect x="641.05" y="215.15" width="5.42" height="5.42" fill="#000000"/><rect x="645.70" y="214.37" width="5.42" height="5.42" fill="#000000"/><rect x="650.34" y="214.69" width="5.42" height="5.42" fill="#000000"/><rect x="654.99" y="213.57" width="5.42" height="5.42" fill="#000000"/><rect x="659.63" y="215.06" width="5.42" height="5.42" fill="#000000"/><rect x="664.28" y="212.85" width="5.42" height="5.42" fill="#000000"/><rect x="668.93" y="218.46" width="5.42" height="5.42" fill="#000000"/>
<rect x="410.5" y="9.5" width="260.70" height="228.40" fill="none" stroke="#231f20" stroke-width="1.6"/>
<line x1="415.00" y1="16.40" x2="445.00" y2="16.40" stroke="#b36bf5" stroke-width="2.0"/>
<path d="M433.00,18.13 L430.00,19.86 L427.00,18.13 L427.00,14.67 L430.00,12.93 L433.00,14.67Z" fill="#b36bf5"/>
<text x="478.3" y="20.80" font-size="12.3" text-anchor="end">100%</text>
<line x1="482.00" y1="16.40" x2="512.00" y2="16.40" stroke="#fbe83a" stroke-width="2.0"/>
<path d="M497.00,12.11 L500.63,16.40 L497.00,20.69 L493.37,16.40Z" fill="#fbe83a"/>
<text x="516.00" y="20.80" font-size="12.3">50%</text>
<line x1="415.00" y1="29.55" x2="445.00" y2="29.55" stroke="#ff69c0" stroke-width="2.0"/>
<path d="M430.00,25.42 L431.07,28.08 L433.92,28.28 L431.73,30.11 L432.42,32.89 L430.00,31.36 L427.58,32.89 L428.27,30.11 L426.08,28.28 L428.93,28.08Z" fill="#ff69c0"/>
<text x="478.3" y="33.95" font-size="12.3" text-anchor="end">90%</text>
<line x1="482.00" y1="29.55" x2="512.00" y2="29.55" stroke="#129e6e" stroke-width="2.0"/>
<path d="M497.00,33.51 L493.20,26.25 L500.80,26.25Z" fill="#129e6e"/>
<text x="516.00" y="33.95" font-size="12.3">40%</text>
<line x1="415.00" y1="42.70" x2="445.00" y2="42.70" stroke="#d47bb2" stroke-width="2.0"/>
<path d="M433.00,44.43 L430.00,46.17 L427.00,44.43 L427.00,40.97 L430.00,39.23 L433.00,40.97Z" fill="#d47bb2"/>
<text x="478.3" y="47.10" font-size="12.3" text-anchor="end">80%</text>
<line x1="482.00" y1="42.70" x2="512.00" y2="42.70" stroke="#55b9ef" stroke-width="2.0"/>
<path d="M497.00,38.74 L493.20,46.00 L500.80,46.00Z" fill="#55b9ef"/>
<text x="516.00" y="47.10" font-size="12.3">30%</text>
<line x1="415.00" y1="55.85" x2="445.00" y2="55.85" stroke="#df6414" stroke-width="2.0"/>
<path d="M433.96,55.85 L426.70,52.05 L426.70,59.65Z" fill="#df6414"/>
<text x="478.3" y="60.25" font-size="12.3" text-anchor="end">70%</text>
<line x1="482.00" y1="55.85" x2="512.00" y2="55.85" stroke="#f0a10e" stroke-width="2.0"/>
<circle cx="497.00" cy="55.85" r="3.3" fill="#f0a10e"/>
<text x="516.00" y="60.25" font-size="12.3">20%</text>
<line x1="415.00" y1="69.00" x2="445.00" y2="69.00" stroke="#1a74c4" stroke-width="2.0"/>
<path d="M426.04,69.00 L433.30,65.20 L433.30,72.80Z" fill="#1a74c4"/>
<text x="478.3" y="73.40" font-size="12.3" text-anchor="end">60%</text>
<line x1="482.00" y1="69.00" x2="512.00" y2="69.00" stroke="#000000" stroke-width="2.0"/>
<rect x="493.87" y="65.86" width="6.27" height="6.27" fill="#000000"/>
<text x="516.00" y="73.40" font-size="12.3">10%</text>
<text x="666.60" y="24.50" font-size="12.8" text-anchor="end">550/15 nm light</text>
<line x1="406.70" y1="216.80" x2="410.5" y2="216.80" stroke="#231f20" stroke-width="1.6"/>
<text transform="translate(404.80,222.30) scale(1,1.03)" font-size="16" text-anchor="end">0.00</text>
<line x1="406.70" y1="175.35" x2="410.5" y2="175.35" stroke="#231f20" stroke-width="1.6"/>
<text transform="translate(404.80,180.85) scale(1,1.03)" font-size="16" text-anchor="end">0.02</text>
<line x1="406.70" y1="133.90" x2="410.5" y2="133.90" stroke="#231f20" stroke-width="1.6"/>
<text transform="translate(404.80,138.90) scale(1,1.03)" font-size="16" text-anchor="end">0.04</text>
<line x1="406.70" y1="92.45" x2="410.5" y2="92.45" stroke="#231f20" stroke-width="1.6"/>
<text transform="translate(404.80,96.95) scale(1,1.03)" font-size="16" text-anchor="end">0.06</text>
<line x1="406.70" y1="51.00" x2="410.5" y2="51.00" stroke="#231f20" stroke-width="1.6"/>
<text transform="translate(404.80,55.50) scale(1,1.03)" font-size="16" text-anchor="end">0.08</text>
<line x1="406.70" y1="9.55" x2="410.5" y2="9.55" stroke="#231f20" stroke-width="1.6"/>
<text transform="translate(404.80,13.25) scale(1,1.03)" font-size="16" text-anchor="end">0.10</text>
<text transform="translate(410.80,256.90) scale(1,1.03)" font-size="16" text-anchor="middle">0</text>
<line x1="443.32" y1="237.9" x2="443.32" y2="241.70" stroke="#231f20" stroke-width="1.6"/>
<text transform="translate(443.32,256.90) scale(1,1.03)" font-size="16" text-anchor="middle">5</text>
<line x1="481.25" y1="237.9" x2="481.25" y2="241.70" stroke="#231f20" stroke-width="1.6"/>
<text transform="translate(481.25,256.90) scale(1,1.03)" font-size="16" text-anchor="middle">10</text>
<line x1="519.17" y1="237.9" x2="519.17" y2="241.70" stroke="#231f20" stroke-width="1.6"/>
<text transform="translate(519.17,256.90) scale(1,1.03)" font-size="16" text-anchor="middle">15</text>
<line x1="557.10" y1="237.9" x2="557.10" y2="241.70" stroke="#231f20" stroke-width="1.6"/>
<text transform="translate(557.10,256.90) scale(1,1.03)" font-size="16" text-anchor="middle">20</text>
<line x1="595.02" y1="237.9" x2="595.02" y2="241.70" stroke="#231f20" stroke-width="1.6"/>
<text transform="translate(595.02,256.90) scale(1,1.03)" font-size="16" text-anchor="middle">25</text>
<line x1="632.95" y1="237.9" x2="632.95" y2="241.70" stroke="#231f20" stroke-width="1.6"/>
<text transform="translate(632.95,256.90) scale(1,1.03)" font-size="16" text-anchor="middle">30</text>
<line x1="670.88" y1="237.9" x2="670.88" y2="241.70" stroke="#231f20" stroke-width="1.6"/>
<text transform="translate(670.88,256.90) scale(1,1.03)" font-size="16" text-anchor="middle">35</text>
<text x="541.5" y="272.6" font-size="18" text-anchor="middle"><tspan font-style="italic">t</tspan> (s)</text>
<text transform="translate(363.2,150.5) rotate(-90)" font-size="18"><tspan font-style="italic">V</tspan><tspan font-size="11" dy="6.5">sig</tspan><tspan dy="-6.5"> (V)</tspan></text>
<path d="M67.04,508.24 L71.66,507.19 L76.28,508.69 L80.90,506.78 L85.52,508.74 L90.14,510.75 L94.76,505.80 L99.39,506.26 L104.01,372.76 L108.63,373.38 L113.25,373.89 L117.87,372.80 L122.49,370.78 L127.11,375.19 L131.73,372.65 L136.36,373.64 L140.98,372.87 L145.60,372.81 L150.22,372.29 L154.84,373.62 L159.46,373.11 L164.08,373.40 L168.70,372.15 L173.33,374.92 L177.95,371.37 L182.57,371.15 L187.19,375.55 L191.81,372.13 L196.43,368.78 L201.05,377.73 L205.68,374.18 L210.30,371.64 L214.92,369.69 L219.54,372.05 L224.16,377.34 L228.78,370.55 L233.40,373.66 L238.02,373.89 L242.65,375.31 L247.27,368.79 L251.89,375.68 L256.51,371.33 L261.13,373.21 L265.75,369.94 L270.37,373.49 L275.00,376.50 L279.62,371.82 L284.24,370.80 L288.86,376.70 L293.48,371.77 L298.10,509.71 L302.72,508.43 L307.34,511.80 L311.97,512.25 L316.59,509.39 L321.21,504.13 L325.83,508.09" fill="none" stroke="#b36bf5" stroke-width="2.1" stroke-linejoin="round"/>
<path d="M69.63,509.74 L67.04,511.23 L64.44,509.74 L64.44,506.74 L67.04,505.25 L69.63,506.74Z" fill="#b36bf5"/><path d="M74.25,508.69 L71.66,510.18 L69.07,508.69 L69.07,505.70 L71.66,504.20 L74.25,505.70Z" fill="#b36bf5"/><path d="M78.87,510.19 L76.28,511.68 L73.69,510.19 L73.69,507.20 L76.28,505.70 L78.87,507.20Z" fill="#b36bf5"/><path d="M83.49,508.28 L80.90,509.77 L78.31,508.28 L78.31,505.28 L80.90,503.79 L83.49,505.28Z" fill="#b36bf5"/><path d="M88.11,510.23 L85.52,511.73 L82.93,510.23 L82.93,507.24 L85.52,505.74 L88.11,507.24Z" fill="#b36bf5"/><path d="M92.73,512.24 L90.14,513.74 L87.55,512.24 L87.55,509.25 L90.14,507.75 L92.73,509.25Z" fill="#b36bf5"/><path d="M97.36,507.29 L94.76,508.79 L92.17,507.29 L92.17,504.30 L94.76,502.80 L97.36,504.30Z" fill="#b36bf5"/><path d="M101.98,507.76 L99.39,509.25 L96.79,507.76 L96.79,504.76 L99.39,503.27 L101.98,504.76Z" fill="#b36bf5"/><path d="M106.60,374.25 L104.01,375.75 L101.41,374.25 L101.41,371.26 L104.01,369.76 L106.60,371.26Z" fill="#b36bf5"/><path d="M111.22,374.88 L108.63,376.38 L106.04,374.88 L106.04,371.89 L108.63,370.39 L111.22,371.89Z" fill="#b36bf5"/><path d="M115.84,375.38 L113.25,376.88 L110.66,375.38 L110.66,372.39 L113.25,370.89 L115.84,372.39Z" fill="#b36bf5"/><path d="M120.46,374.30 L117.87,375.79 L115.28,374.30 L115.28,371.30 L117.87,369.81 L120.46,371.30Z" fill="#b36bf5"/><path d="M125.08,372.27 L122.49,373.77 L119.90,372.27 L119.90,369.28 L122.49,367.78 L125.08,369.28Z" fill="#b36bf5"/><path d="M129.70,376.69 L127.11,378.18 L124.52,376.69 L124.52,373.69 L127.11,372.20 L129.70,373.69Z" fill="#b36bf5"/><path d="M134.33,374.14 L131.73,375.64 L129.14,374.14 L129.14,371.15 L131.73,369.66 L134.33,371.15Z" fill="#b36bf5"/><path d="M138.95,375.14 L136.36,376.64 L133.76,375.14 L133.76,372.15 L136.36,370.65 L138.95,372.15Z" fill="#b36bf5"/><path d="M143.57,374.36 L140.98,375.86 L138.39,374.36 L138.39,371.37 L140.98,369.88 L143.57,371.37Z" fill="#b36bf5"/><path d="M148.19,374.31 L145.60,375.80 L143.01,374.31 L143.01,371.31 L145.60,369.82 L148.19,371.31Z" fill="#b36bf5"/><path d="M152.81,373.78 L150.22,375.28 L147.63,373.78 L147.63,370.79 L150.22,369.29 L152.81,370.79Z" fill="#b36bf5"/><path d="M157.43,375.11 L154.84,376.61 L152.25,375.11 L152.25,372.12 L154.84,370.62 L157.43,372.12Z" fill="#b36bf5"/><path d="M162.05,374.61 L159.46,376.10 L156.87,374.61 L156.87,371.61 L159.46,370.12 L162.05,371.61Z" fill="#b36bf5"/><path d="M166.68,374.90 L164.08,376.40 L161.49,374.90 L161.49,371.91 L164.08,370.41 L166.68,371.91Z" fill="#b36bf5"/><path d="M171.30,373.64 L168.70,375.14 L166.11,373.64 L166.11,370.65 L168.70,369.15 L171.30,370.65Z" fill="#b36bf5"/><path d="M175.92,376.42 L173.33,377.91 L170.73,376.42 L170.73,373.42 L173.33,371.93 L175.92,373.42Z" fill="#b36bf5"/><path d="M180.54,372.86 L177.95,374.36 L175.36,372.86 L175.36,369.87 L177.95,368.37 L180.54,369.87Z" fill="#b36bf5"/><path d="M185.16,372.65 L182.57,374.14 L179.98,372.65 L179.98,369.65 L182.57,368.16 L185.16,369.65Z" fill="#b36bf5"/><path d="M189.78,377.05 L187.19,378.54 L184.60,377.05 L184.60,374.05 L187.19,372.56 L189.78,374.05Z" fill="#b36bf5"/><path d="M194.40,373.62 L191.81,375.12 L189.22,373.62 L189.22,370.63 L191.81,369.14 L194.40,370.63Z" fill="#b36bf5"/><path d="M199.02,370.28 L196.43,371.78 L193.84,370.28 L193.84,367.29 L196.43,365.79 L199.02,367.29Z" fill="#b36bf5"/><path d="M203.65,379.23 L201.05,380.73 L198.46,379.23 L198.46,376.24 L201.05,374.74 L203.65,376.24Z" fill="#b36bf5"/><path d="M208.27,375.68 L205.68,377.17 L203.08,375.68 L203.08,372.68 L205.68,371.19 L208.27,372.68Z" fill="#b36bf5"/><path d="M212.89,373.14 L210.30,374.64 L207.71,373.14 L207.71,370.15 L210.30,368.65 L212.89,370.15Z" fill="#b36bf5"/><path d="M217.51,371.19 L214.92,372.69 L212.33,371.19 L212.33,368.20 L214.92,366.70 L217.51,368.20Z" fill="#b36bf5"/><path d="M222.13,373.54 L219.54,375.04 L216.95,373.54 L216.95,370.55 L219.54,369.06 L222.13,370.55Z" fill="#b36bf5"/><path d="M226.75,378.83 L224.16,380.33 L221.57,378.83 L221.57,375.84 L224.16,374.34 L226.75,375.84Z" fill="#b36bf5"/><path d="M231.37,372.04 L228.78,373.54 L226.19,372.04 L226.19,369.05 L228.78,367.56 L231.37,369.05Z" fill="#b36bf5"/><path d="M235.99,375.15 L233.40,376.65 L230.81,375.15 L230.81,372.16 L233.40,370.67 L235.99,372.16Z" fill="#b36bf5"/><path d="M240.62,375.38 L238.02,376.88 L235.43,375.38 L235.43,372.39 L238.02,370.89 L240.62,372.39Z" fill="#b36bf5"/><path d="M245.24,376.80 L242.65,378.30 L240.05,376.80 L240.05,373.81 L242.65,372.31 L245.24,373.81Z" fill="#b36bf5"/><path d="M249.86,370.29 L247.27,371.78 L244.68,370.29 L244.68,367.29 L247.27,365.80 L249.86,367.29Z" fill="#b36bf5"/><path d="M254.48,377.18 L251.89,378.67 L249.30,377.18 L249.30,374.18 L251.89,372.69 L254.48,374.18Z" fill="#b36bf5"/><path d="M259.10,372.83 L256.51,374.32 L253.92,372.83 L253.92,369.83 L256.51,368.34 L259.10,369.83Z" fill="#b36bf5"/><path d="M263.72,374.71 L261.13,376.20 L258.54,374.71 L258.54,371.71 L261.13,370.22 L263.72,371.71Z" fill="#b36bf5"/><path d="M268.34,371.44 L265.75,372.93 L263.16,371.44 L263.16,368.45 L265.75,366.95 L268.34,368.45Z" fill="#b36bf5"/><path d="M272.97,374.98 L270.37,376.48 L267.78,374.98 L267.78,371.99 L270.37,370.49 L272.97,371.99Z" fill="#b36bf5"/><path d="M277.59,378.00 L275.00,379.49 L272.40,378.00 L272.40,375.00 L275.00,373.51 L277.59,375.00Z" fill="#b36bf5"/><path d="M282.21,373.32 L279.62,374.81 L277.02,373.32 L277.02,370.32 L279.62,368.83 L282.21,370.32Z" fill="#b36bf5"/><path d="M286.83,372.30 L284.24,373.80 L281.65,372.30 L281.65,369.31 L284.24,367.81 L286.83,369.31Z" fill="#b36bf5"/><path d="M291.45,378.20 L288.86,379.69 L286.27,378.20 L286.27,375.21 L288.86,373.71 L291.45,375.21Z" fill="#b36bf5"/><path d="M296.07,373.27 L293.48,374.76 L290.89,373.27 L290.89,370.27 L293.48,368.78 L296.07,370.27Z" fill="#b36bf5"/><path d="M300.69,511.21 L298.10,512.70 L295.51,511.21 L295.51,508.22 L298.10,506.72 L300.69,508.22Z" fill="#b36bf5"/><path d="M305.31,509.93 L302.72,511.43 L300.13,509.93 L300.13,506.94 L302.72,505.44 L305.31,506.94Z" fill="#b36bf5"/><path d="M309.94,513.30 L307.34,514.80 L304.75,513.30 L304.75,510.31 L307.34,508.81 L309.94,510.31Z" fill="#b36bf5"/><path d="M314.56,513.74 L311.97,515.24 L309.37,513.74 L309.37,510.75 L311.97,509.26 L314.56,510.75Z" fill="#b36bf5"/><path d="M319.18,510.89 L316.59,512.38 L314.00,510.89 L314.00,507.89 L316.59,506.40 L319.18,507.89Z" fill="#b36bf5"/><path d="M323.80,505.63 L321.21,507.12 L318.62,505.63 L318.62,502.63 L321.21,501.14 L323.80,502.63Z" fill="#b36bf5"/><path d="M328.42,509.58 L325.83,511.08 L323.24,509.58 L323.24,506.59 L325.83,505.09 L328.42,506.59Z" fill="#b36bf5"/>
<path d="M67.04,508.96 L71.66,506.52 L76.28,505.34 L80.90,505.28 L85.52,511.78 L90.14,509.67 L94.76,507.21 L99.39,506.35 L104.01,378.27 L108.63,382.86 L113.25,378.76 L117.87,382.99 L122.49,378.68 L127.11,379.14 L131.73,381.21 L136.36,381.28 L140.98,380.72 L145.60,380.94 L150.22,380.57 L154.84,378.78 L159.46,380.31 L164.08,381.46 L168.70,383.19 L173.33,379.85 L177.95,379.47 L182.57,380.95 L187.19,382.97 L191.81,377.69 L196.43,377.12 L201.05,386.32 L205.68,378.83 L210.30,377.89 L214.92,383.67 L219.54,380.77 L224.16,379.75 L228.78,379.86 L233.40,382.23 L238.02,378.22 L242.65,385.65 L247.27,376.54 L251.89,380.94 L256.51,381.51 L261.13,379.65 L265.75,381.15 L270.37,378.11 L275.00,383.66 L279.62,379.99 L284.24,383.36 L288.86,380.67 L293.48,379.30 L298.10,507.41 L302.72,506.17 L307.34,508.61 L311.97,507.84 L316.59,509.40 L321.21,505.89 L325.83,510.60" fill="none" stroke="#ff69c0" stroke-width="2.1" stroke-linejoin="round"/>
<path d="M67.04,505.40 L67.96,507.69 L70.42,507.86 L68.53,509.44 L69.13,511.84 L67.04,510.53 L64.94,511.84 L65.55,509.44 L63.65,507.86 L66.11,507.69Z" fill="#ff69c0"/><path d="M71.66,502.96 L72.58,505.25 L75.05,505.42 L73.15,507.00 L73.75,509.40 L71.66,508.09 L69.56,509.40 L70.17,507.00 L68.27,505.42 L70.74,505.25Z" fill="#ff69c0"/><path d="M76.28,501.78 L77.20,504.08 L79.67,504.24 L77.77,505.83 L78.37,508.23 L76.28,506.91 L74.18,508.23 L74.79,505.83 L72.89,504.24 L75.36,504.08Z" fill="#ff69c0"/><path d="M80.90,501.72 L81.82,504.02 L84.29,504.18 L82.39,505.77 L82.99,508.17 L80.90,506.85 L78.81,508.17 L79.41,505.77 L77.51,504.18 L79.98,504.02Z" fill="#ff69c0"/><path d="M85.52,508.22 L86.44,510.51 L88.91,510.68 L87.01,512.26 L87.62,514.66 L85.52,513.35 L83.43,514.66 L84.03,512.26 L82.13,510.68 L84.60,510.51Z" fill="#ff69c0"/><path d="M90.14,506.11 L91.06,508.41 L93.53,508.57 L91.63,510.16 L92.24,512.56 L90.14,511.24 L88.05,512.56 L88.65,510.16 L86.75,508.57 L89.22,508.41Z" fill="#ff69c0"/><path d="M94.76,503.65 L95.69,505.94 L98.15,506.11 L96.25,507.69 L96.86,510.09 L94.76,508.78 L92.67,510.09 L93.27,507.69 L91.38,506.11 L93.84,505.94Z" fill="#ff69c0"/><path d="M99.39,502.79 L100.31,505.09 L102.77,505.25 L100.88,506.84 L101.48,509.24 L99.39,507.92 L97.29,509.24 L97.89,506.84 L96.00,505.25 L98.46,505.09Z" fill="#ff69c0"/><path d="M104.01,374.71 L104.93,377.01 L107.39,377.17 L105.50,378.76 L106.10,381.16 L104.01,379.84 L101.91,381.16 L102.52,378.76 L100.62,377.17 L103.09,377.01Z" fill="#ff69c0"/><path d="M108.63,379.29 L109.55,381.59 L112.02,381.76 L110.12,383.34 L110.72,385.74 L108.63,384.42 L106.53,385.74 L107.14,383.34 L105.24,381.76 L107.71,381.59Z" fill="#ff69c0"/><path d="M113.25,375.20 L114.17,377.49 L116.64,377.66 L114.74,379.24 L115.34,381.64 L113.25,380.33 L111.16,381.64 L111.76,379.24 L109.86,377.66 L112.33,377.49Z" fill="#ff69c0"/><path d="M117.87,379.43 L118.79,381.73 L121.26,381.89 L119.36,383.48 L119.96,385.88 L117.87,384.56 L115.78,385.88 L116.38,383.48 L114.48,381.89 L116.95,381.73Z" fill="#ff69c0"/><path d="M122.49,375.12 L123.41,377.41 L125.88,377.58 L123.98,379.17 L124.59,381.56 L122.49,380.25 L120.40,381.56 L121.00,379.17 L119.10,377.58 L121.57,377.41Z" fill="#ff69c0"/><path d="M127.11,375.58 L128.03,377.88 L130.50,378.04 L128.60,379.63 L129.21,382.03 L127.11,380.71 L125.02,382.03 L125.62,379.63 L123.72,378.04 L126.19,377.88Z" fill="#ff69c0"/><path d="M131.73,377.65 L132.66,379.94 L135.12,380.11 L133.23,381.70 L133.83,384.09 L131.73,382.78 L129.64,384.09 L130.24,381.70 L128.35,380.11 L130.81,379.94Z" fill="#ff69c0"/><path d="M136.36,377.71 L137.28,380.01 L139.74,380.18 L137.85,381.76 L138.45,384.16 L136.36,382.84 L134.26,384.16 L134.86,381.76 L132.97,380.18 L135.43,380.01Z" fill="#ff69c0"/><path d="M140.98,377.16 L141.90,379.46 L144.37,379.62 L142.47,381.21 L143.07,383.61 L140.98,382.29 L138.88,383.61 L139.49,381.21 L137.59,379.62 L140.06,379.46Z" fill="#ff69c0"/><path d="M145.60,377.38 L146.52,379.67 L148.99,379.84 L147.09,381.43 L147.69,383.82 L145.60,382.51 L143.50,383.82 L144.11,381.43 L142.21,379.84 L144.68,379.67Z" fill="#ff69c0"/><path d="M150.22,377.01 L151.14,379.30 L153.61,379.47 L151.71,381.06 L152.31,383.45 L150.22,382.14 L148.13,383.45 L148.73,381.06 L146.83,379.47 L149.30,379.30Z" fill="#ff69c0"/><path d="M154.84,375.21 L155.76,377.51 L158.23,377.67 L156.33,379.26 L156.93,381.66 L154.84,380.34 L152.75,381.66 L153.35,379.26 L151.45,377.67 L153.92,377.51Z" fill="#ff69c0"/><path d="M159.46,376.75 L160.38,379.04 L162.85,379.21 L160.95,380.79 L161.56,383.19 L159.46,381.88 L157.37,383.19 L157.97,380.79 L156.07,379.21 L158.54,379.04Z" fill="#ff69c0"/><path d="M164.08,377.90 L165.00,380.19 L167.47,380.36 L165.57,381.95 L166.18,384.34 L164.08,383.03 L161.99,384.34 L162.59,381.95 L160.70,380.36 L163.16,380.19Z" fill="#ff69c0"/><path d="M168.70,379.63 L169.63,381.92 L172.09,382.09 L170.20,383.67 L170.80,386.07 L168.70,384.76 L166.61,386.07 L167.21,383.67 L165.32,382.09 L167.78,381.92Z" fill="#ff69c0"/><path d="M173.33,376.29 L174.25,378.58 L176.71,378.75 L174.82,380.34 L175.42,382.73 L173.33,381.42 L171.23,382.73 L171.84,380.34 L169.94,378.75 L172.40,378.58Z" fill="#ff69c0"/><path d="M177.95,375.91 L178.87,378.20 L181.34,378.37 L179.44,379.96 L180.04,382.35 L177.95,381.04 L175.85,382.35 L176.46,379.96 L174.56,378.37 L177.03,378.20Z" fill="#ff69c0"/><path d="M182.57,377.39 L183.49,379.68 L185.96,379.85 L184.06,381.43 L184.66,383.83 L182.57,382.52 L180.47,383.83 L181.08,381.43 L179.18,379.85 L181.65,379.68Z" fill="#ff69c0"/><path d="M187.19,379.41 L188.11,381.70 L190.58,381.87 L188.68,383.46 L189.28,385.85 L187.19,384.54 L185.10,385.85 L185.70,383.46 L183.80,381.87 L186.27,381.70Z" fill="#ff69c0"/><path d="M191.81,374.13 L192.73,376.43 L195.20,376.59 L193.30,378.18 L193.91,380.58 L191.81,379.26 L189.72,380.58 L190.32,378.18 L188.42,376.59 L190.89,376.43Z" fill="#ff69c0"/><path d="M196.43,373.56 L197.35,375.85 L199.82,376.02 L197.92,377.60 L198.53,380.00 L196.43,378.69 L194.34,380.00 L194.94,377.60 L193.04,376.02 L195.51,375.85Z" fill="#ff69c0"/><path d="M201.05,382.76 L201.98,385.06 L204.44,385.22 L202.54,386.81 L203.15,389.21 L201.05,387.89 L198.96,389.21 L199.56,386.81 L197.67,385.22 L200.13,385.06Z" fill="#ff69c0"/><path d="M205.68,375.27 L206.60,377.56 L209.06,377.73 L207.17,379.31 L207.77,381.71 L205.68,380.40 L203.58,381.71 L204.18,379.31 L202.29,377.73 L204.75,377.56Z" fill="#ff69c0"/><path d="M210.30,374.33 L211.22,376.63 L213.68,376.79 L211.79,378.38 L212.39,380.78 L210.30,379.46 L208.20,380.78 L208.81,378.38 L206.91,376.79 L209.38,376.63Z" fill="#ff69c0"/><path d="M214.92,380.11 L215.84,382.40 L218.31,382.57 L216.41,384.15 L217.01,386.55 L214.92,385.24 L212.82,386.55 L213.43,384.15 L211.53,382.57 L214.00,382.40Z" fill="#ff69c0"/><path d="M219.54,377.21 L220.46,379.51 L222.93,379.67 L221.03,381.26 L221.63,383.66 L219.54,382.34 L217.45,383.66 L218.05,381.26 L216.15,379.67 L218.62,379.51Z" fill="#ff69c0"/><path d="M224.16,376.19 L225.08,378.48 L227.55,378.65 L225.65,380.23 L226.25,382.63 L224.16,381.32 L222.07,382.63 L222.67,380.23 L220.77,378.65 L223.24,378.48Z" fill="#ff69c0"/><path d="M228.78,376.30 L229.70,378.59 L232.17,378.76 L230.27,380.34 L230.88,382.74 L228.78,381.43 L226.69,382.74 L227.29,380.34 L225.39,378.76 L227.86,378.59Z" fill="#ff69c0"/><path d="M233.40,378.66 L234.32,380.96 L236.79,381.12 L234.89,382.71 L235.50,385.11 L233.40,383.79 L231.31,385.11 L231.91,382.71 L230.02,381.12 L232.48,380.96Z" fill="#ff69c0"/><path d="M238.02,374.66 L238.95,376.95 L241.41,377.12 L239.52,378.71 L240.12,381.11 L238.02,379.79 L235.93,381.11 L236.53,378.71 L234.64,377.12 L237.10,376.95Z" fill="#ff69c0"/><path d="M242.65,382.09 L243.57,384.39 L246.03,384.55 L244.14,386.14 L244.74,388.54 L242.65,387.22 L240.55,388.54 L241.16,386.14 L239.26,384.55 L241.72,384.39Z" fill="#ff69c0"/><path d="M247.27,372.98 L248.19,375.28 L250.66,375.44 L248.76,377.03 L249.36,379.43 L247.27,378.11 L245.17,379.43 L245.78,377.03 L243.88,375.44 L246.35,375.28Z" fill="#ff69c0"/><path d="M251.89,377.37 L252.81,379.67 L255.28,379.84 L253.38,381.42 L253.98,383.82 L251.89,382.50 L249.79,383.82 L250.40,381.42 L248.50,379.84 L250.97,379.67Z" fill="#ff69c0"/><path d="M256.51,377.95 L257.43,380.24 L259.90,380.41 L258.00,381.99 L258.60,384.39 L256.51,383.08 L254.42,384.39 L255.02,381.99 L253.12,380.41 L255.59,380.24Z" fill="#ff69c0"/><path d="M261.13,376.09 L262.05,378.38 L264.52,378.55 L262.62,380.13 L263.23,382.53 L261.13,381.22 L259.04,382.53 L259.64,380.13 L257.74,378.55 L260.21,378.38Z" fill="#ff69c0"/><path d="M265.75,377.59 L266.67,379.88 L269.14,380.05 L267.24,381.64 L267.85,384.03 L265.75,382.72 L263.66,384.03 L264.26,381.64 L262.36,380.05 L264.83,379.88Z" fill="#ff69c0"/><path d="M270.37,374.55 L271.30,376.84 L273.76,377.01 L271.86,378.59 L272.47,380.99 L270.37,379.68 L268.28,380.99 L268.88,378.59 L266.99,377.01 L269.45,376.84Z" fill="#ff69c0"/><path d="M275.00,380.09 L275.92,382.39 L278.38,382.56 L276.49,384.14 L277.09,386.54 L275.00,385.22 L272.90,386.54 L273.50,384.14 L271.61,382.56 L274.07,382.39Z" fill="#ff69c0"/><path d="M279.62,376.43 L280.54,378.72 L283.00,378.89 L281.11,380.47 L281.71,382.87 L279.62,381.56 L277.52,382.87 L278.13,380.47 L276.23,378.89 L278.70,378.72Z" fill="#ff69c0"/><path d="M284.24,379.80 L285.16,382.09 L287.63,382.26 L285.73,383.85 L286.33,386.24 L284.24,384.93 L282.14,386.24 L282.75,383.85 L280.85,382.26 L283.32,382.09Z" fill="#ff69c0"/><path d="M288.86,377.11 L289.78,379.40 L292.25,379.57 L290.35,381.16 L290.95,383.55 L288.86,382.24 L286.77,383.55 L287.37,381.16 L285.47,379.57 L287.94,379.40Z" fill="#ff69c0"/><path d="M293.48,375.73 L294.40,378.03 L296.87,378.20 L294.97,379.78 L295.57,382.18 L293.48,380.86 L291.39,382.18 L291.99,379.78 L290.09,378.20 L292.56,378.03Z" fill="#ff69c0"/><path d="M298.10,503.85 L299.02,506.14 L301.49,506.31 L299.59,507.89 L300.20,510.29 L298.10,508.98 L296.01,510.29 L296.61,507.89 L294.71,506.31 L297.18,506.14Z" fill="#ff69c0"/><path d="M302.72,502.61 L303.64,504.91 L306.11,505.07 L304.21,506.66 L304.82,509.06 L302.72,507.74 L300.63,509.06 L301.23,506.66 L299.33,505.07 L301.80,504.91Z" fill="#ff69c0"/><path d="M307.34,505.05 L308.27,507.34 L310.73,507.51 L308.84,509.09 L309.44,511.49 L307.34,510.18 L305.25,511.49 L305.85,509.09 L303.96,507.51 L306.42,507.34Z" fill="#ff69c0"/><path d="M311.97,504.28 L312.89,506.57 L315.35,506.74 L313.46,508.32 L314.06,510.72 L311.97,509.41 L309.87,510.72 L310.47,508.32 L308.58,506.74 L311.04,506.57Z" fill="#ff69c0"/><path d="M316.59,505.83 L317.51,508.13 L319.98,508.29 L318.08,509.88 L318.68,512.28 L316.59,510.96 L314.49,512.28 L315.10,509.88 L313.20,508.29 L315.67,508.13Z" fill="#ff69c0"/><path d="M321.21,502.33 L322.13,504.62 L324.60,504.79 L322.70,506.38 L323.30,508.77 L321.21,507.46 L319.11,508.77 L319.72,506.38 L317.82,504.79 L320.29,504.62Z" fill="#ff69c0"/><path d="M325.83,507.04 L326.75,509.33 L329.22,509.50 L327.32,511.08 L327.92,513.48 L325.83,512.17 L323.74,513.48 L324.34,511.08 L322.44,509.50 L324.91,509.33Z" fill="#ff69c0"/>
<path d="M67.04,505.24 L71.66,506.54 L76.28,511.47 L80.90,511.30 L85.52,506.60 L90.14,508.02 L94.76,510.65 L99.39,506.91 L104.01,390.58 L108.63,392.70 L113.25,393.08 L117.87,388.76 L122.49,395.06 L127.11,389.48 L131.73,388.56 L136.36,391.04 L140.98,396.39 L145.60,389.15 L150.22,394.04 L154.84,385.63 L159.46,393.59 L164.08,393.17 L168.70,395.63 L173.33,392.41 L177.95,389.66 L182.57,393.73 L187.19,392.76 L191.81,389.12 L196.43,398.16 L201.05,394.95 L205.68,389.48 L210.30,392.88 L214.92,388.84 L219.54,394.79 L224.16,390.05 L228.78,398.48 L233.40,380.55 L238.02,395.35 L242.65,396.42 L247.27,388.14 L251.89,388.64 L256.51,393.05 L261.13,395.20 L265.75,389.48 L270.37,390.83 L275.00,399.65 L279.62,393.41 L284.24,389.38 L288.86,386.19 L293.48,389.76 L298.10,513.77 L302.72,507.44 L307.34,508.42 L311.97,507.85 L316.59,510.31 L321.21,505.45 L325.83,507.74" fill="none" stroke="#d47bb2" stroke-width="2.1" stroke-linejoin="round"/>
<path d="M69.63,506.74 L67.04,508.23 L64.44,506.74 L64.44,503.74 L67.04,502.25 L69.63,503.74Z" fill="#d47bb2"/><path d="M74.25,508.04 L71.66,509.53 L69.07,508.04 L69.07,505.04 L71.66,503.55 L74.25,505.04Z" fill="#d47bb2"/><path d="M78.87,512.97 L76.28,514.47 L73.69,512.97 L73.69,509.98 L76.28,508.48 L78.87,509.98Z" fill="#d47bb2"/><path d="M83.49,512.79 L80.90,514.29 L78.31,512.79 L78.31,509.80 L80.90,508.30 L83.49,509.80Z" fill="#d47bb2"/><path d="M88.11,508.10 L85.52,509.59 L82.93,508.10 L82.93,505.10 L85.52,503.61 L88.11,505.10Z" fill="#d47bb2"/><path d="M92.73,509.52 L90.14,511.01 L87.55,509.52 L87.55,506.52 L90.14,505.03 L92.73,506.52Z" fill="#d47bb2"/><path d="M97.36,512.15 L94.76,513.64 L92.17,512.15 L92.17,509.15 L94.76,507.66 L97.36,509.15Z" fill="#d47bb2"/><path d="M101.98,508.41 L99.39,509.90 L96.79,508.41 L96.79,505.41 L99.39,503.92 L101.98,505.41Z" fill="#d47bb2"/><path d="M106.60,392.07 L104.01,393.57 L101.41,392.07 L101.41,389.08 L104.01,387.59 L106.60,389.08Z" fill="#d47bb2"/><path d="M111.22,394.20 L108.63,395.69 L106.04,394.20 L106.04,391.20 L108.63,389.71 L111.22,391.20Z" fill="#d47bb2"/><path d="M115.84,394.58 L113.25,396.08 L110.66,394.58 L110.66,391.59 L113.25,390.09 L115.84,391.59Z" fill="#d47bb2"/><path d="M120.46,390.25 L117.87,391.75 L115.28,390.25 L115.28,387.26 L117.87,385.76 L120.46,387.26Z" fill="#d47bb2"/><path d="M125.08,396.55 L122.49,398.05 L119.90,396.55 L119.90,393.56 L122.49,392.06 L125.08,393.56Z" fill="#d47bb2"/><path d="M129.70,390.98 L127.11,392.47 L124.52,390.98 L124.52,387.98 L127.11,386.49 L129.70,387.98Z" fill="#d47bb2"/><path d="M134.33,390.05 L131.73,391.55 L129.14,390.05 L129.14,387.06 L131.73,385.56 L134.33,387.06Z" fill="#d47bb2"/><path d="M138.95,392.53 L136.36,394.03 L133.76,392.53 L133.76,389.54 L136.36,388.05 L138.95,389.54Z" fill="#d47bb2"/><path d="M143.57,397.88 L140.98,399.38 L138.39,397.88 L138.39,394.89 L140.98,393.39 L143.57,394.89Z" fill="#d47bb2"/><path d="M148.19,390.64 L145.60,392.14 L143.01,390.64 L143.01,387.65 L145.60,386.16 L148.19,387.65Z" fill="#d47bb2"/><path d="M152.81,395.53 L150.22,397.03 L147.63,395.53 L147.63,392.54 L150.22,391.04 L152.81,392.54Z" fill="#d47bb2"/><path d="M157.43,387.13 L154.84,388.63 L152.25,387.13 L152.25,384.14 L154.84,382.64 L157.43,384.14Z" fill="#d47bb2"/><path d="M162.05,395.08 L159.46,396.58 L156.87,395.08 L156.87,392.09 L159.46,390.60 L162.05,392.09Z" fill="#d47bb2"/><path d="M166.68,394.67 L164.08,396.17 L161.49,394.67 L161.49,391.68 L164.08,390.18 L166.68,391.68Z" fill="#d47bb2"/><path d="M171.30,397.13 L168.70,398.62 L166.11,397.13 L166.11,394.13 L168.70,392.64 L171.30,394.13Z" fill="#d47bb2"/><path d="M175.92,393.91 L173.33,395.40 L170.73,393.91 L170.73,390.91 L173.33,389.42 L175.92,390.91Z" fill="#d47bb2"/><path d="M180.54,391.15 L177.95,392.65 L175.36,391.15 L175.36,388.16 L177.95,386.66 L180.54,388.16Z" fill="#d47bb2"/><path d="M185.16,395.22 L182.57,396.72 L179.98,395.22 L179.98,392.23 L182.57,390.73 L185.16,392.23Z" fill="#d47bb2"/><path d="M189.78,394.26 L187.19,395.76 L184.60,394.26 L184.60,391.27 L187.19,389.77 L189.78,391.27Z" fill="#d47bb2"/><path d="M194.40,390.61 L191.81,392.11 L189.22,390.61 L189.22,387.62 L191.81,386.12 L194.40,387.62Z" fill="#d47bb2"/><path d="M199.02,399.66 L196.43,401.16 L193.84,399.66 L193.84,396.67 L196.43,395.17 L199.02,396.67Z" fill="#d47bb2"/><path d="M203.65,396.45 L201.05,397.95 L198.46,396.45 L198.46,393.46 L201.05,391.96 L203.65,393.46Z" fill="#d47bb2"/><path d="M208.27,390.97 L205.68,392.47 L203.08,390.97 L203.08,387.98 L205.68,386.48 L208.27,387.98Z" fill="#d47bb2"/><path d="M212.89,394.38 L210.30,395.87 L207.71,394.38 L207.71,391.39 L210.30,389.89 L212.89,391.39Z" fill="#d47bb2"/><path d="M217.51,390.33 L214.92,391.83 L212.33,390.33 L212.33,387.34 L214.92,385.85 L217.51,387.34Z" fill="#d47bb2"/><path d="M222.13,396.28 L219.54,397.78 L216.95,396.28 L216.95,393.29 L219.54,391.79 L222.13,393.29Z" fill="#d47bb2"/><path d="M226.75,391.55 L224.16,393.04 L221.57,391.55 L221.57,388.56 L224.16,387.06 L226.75,388.56Z" fill="#d47bb2"/><path d="M231.37,399.98 L228.78,401.47 L226.19,399.98 L226.19,396.99 L228.78,395.49 L231.37,396.99Z" fill="#d47bb2"/><path d="M235.99,382.04 L233.40,383.54 L230.81,382.04 L230.81,379.05 L233.40,377.56 L235.99,379.05Z" fill="#d47bb2"/><path d="M240.62,396.84 L238.02,398.34 L235.43,396.84 L235.43,393.85 L238.02,392.36 L240.62,393.85Z" fill="#d47bb2"/><path d="M245.24,397.92 L242.65,399.42 L240.05,397.92 L240.05,394.93 L242.65,393.43 L245.24,394.93Z" fill="#d47bb2"/><path d="M249.86,389.64 L247.27,391.13 L244.68,389.64 L244.68,386.64 L247.27,385.15 L249.86,386.64Z" fill="#d47bb2"/><path d="M254.48,390.14 L251.89,391.63 L249.30,390.14 L249.30,387.14 L251.89,385.65 L254.48,387.14Z" fill="#d47bb2"/><path d="M259.10,394.54 L256.51,396.04 L253.92,394.54 L253.92,391.55 L256.51,390.05 L259.10,391.55Z" fill="#d47bb2"/><path d="M263.72,396.69 L261.13,398.19 L258.54,396.69 L258.54,393.70 L261.13,392.20 L263.72,393.70Z" fill="#d47bb2"/><path d="M268.34,390.98 L265.75,392.48 L263.16,390.98 L263.16,387.99 L265.75,386.49 L268.34,387.99Z" fill="#d47bb2"/><path d="M272.97,392.32 L270.37,393.82 L267.78,392.32 L267.78,389.33 L270.37,387.83 L272.97,389.33Z" fill="#d47bb2"/><path d="M277.59,401.15 L275.00,402.65 L272.40,401.15 L272.40,398.16 L275.00,396.66 L277.59,398.16Z" fill="#d47bb2"/><path d="M282.21,394.91 L279.62,396.41 L277.02,394.91 L277.02,391.92 L279.62,390.42 L282.21,391.92Z" fill="#d47bb2"/><path d="M286.83,390.87 L284.24,392.37 L281.65,390.87 L281.65,387.88 L284.24,386.38 L286.83,387.88Z" fill="#d47bb2"/><path d="M291.45,387.68 L288.86,389.18 L286.27,387.68 L286.27,384.69 L288.86,383.19 L291.45,384.69Z" fill="#d47bb2"/><path d="M296.07,391.26 L293.48,392.76 L290.89,391.26 L290.89,388.27 L293.48,386.77 L296.07,388.27Z" fill="#d47bb2"/><path d="M300.69,515.27 L298.10,516.77 L295.51,515.27 L295.51,512.28 L298.10,510.78 L300.69,512.28Z" fill="#d47bb2"/><path d="M305.31,508.93 L302.72,510.43 L300.13,508.93 L300.13,505.94 L302.72,504.44 L305.31,505.94Z" fill="#d47bb2"/><path d="M309.94,509.91 L307.34,511.41 L304.75,509.91 L304.75,506.92 L307.34,505.43 L309.94,506.92Z" fill="#d47bb2"/><path d="M314.56,509.34 L311.97,510.84 L309.37,509.34 L309.37,506.35 L311.97,504.86 L314.56,506.35Z" fill="#d47bb2"/><path d="M319.18,511.80 L316.59,513.30 L314.00,511.80 L314.00,508.81 L316.59,507.31 L319.18,508.81Z" fill="#d47bb2"/><path d="M323.80,506.94 L321.21,508.44 L318.62,506.94 L318.62,503.95 L321.21,502.46 L323.80,503.95Z" fill="#d47bb2"/><path d="M328.42,509.24 L325.83,510.74 L323.24,509.24 L323.24,506.25 L325.83,504.75 L328.42,506.25Z" fill="#d47bb2"/>
<path d="M67.04,506.24 L71.66,508.51 L76.28,508.97 L80.90,513.11 L85.52,508.96 L90.14,506.62 L94.76,512.52 L99.39,509.71 L104.01,405.14 L108.63,402.05 L113.25,403.90 L117.87,401.35 L122.49,401.91 L127.11,402.23 L131.73,403.60 L136.36,405.28 L140.98,401.18 L145.60,405.18 L150.22,404.75 L154.84,399.26 L159.46,403.03 L164.08,401.59 L168.70,402.58 L173.33,406.82 L177.95,402.49 L182.57,401.25 L187.19,402.73 L191.81,402.18 L196.43,406.38 L201.05,400.95 L205.68,401.05 L210.30,400.06 L214.92,409.30 L219.54,396.89 L224.16,406.73 L228.78,405.53 L233.40,397.00 L238.02,408.02 L242.65,403.37 L247.27,398.82 L251.89,401.99 L256.51,404.92 L261.13,404.74 L265.75,404.90 L270.37,399.42 L275.00,408.78 L279.62,401.31 L284.24,397.07 L288.86,403.72 L293.48,401.24 L298.10,506.00 L302.72,509.45 L307.34,508.34 L311.97,507.92 L316.59,508.78 L321.21,508.69 L325.83,510.61" fill="none" stroke="#df6414" stroke-width="2.1" stroke-linejoin="round"/>
<path d="M70.46,506.24 L64.19,502.97 L64.19,509.52Z" fill="#df6414"/><path d="M75.08,508.51 L68.81,505.23 L68.81,511.78Z" fill="#df6414"/><path d="M79.70,508.97 L73.43,505.69 L73.43,512.24Z" fill="#df6414"/><path d="M84.32,513.11 L78.05,509.84 L78.05,516.39Z" fill="#df6414"/><path d="M88.94,508.96 L82.67,505.68 L82.67,512.24Z" fill="#df6414"/><path d="M93.56,506.62 L87.29,503.34 L87.29,509.90Z" fill="#df6414"/><path d="M98.18,512.52 L91.91,509.25 L91.91,515.80Z" fill="#df6414"/><path d="M102.81,509.71 L96.54,506.43 L96.54,512.99Z" fill="#df6414"/><path d="M107.43,405.14 L101.16,401.86 L101.16,408.42Z" fill="#df6414"/><path d="M112.05,402.05 L105.78,398.78 L105.78,405.33Z" fill="#df6414"/><path d="M116.67,403.90 L110.40,400.63 L110.40,407.18Z" fill="#df6414"/><path d="M121.29,401.35 L115.02,398.08 L115.02,404.63Z" fill="#df6414"/><path d="M125.91,401.91 L119.64,398.63 L119.64,405.19Z" fill="#df6414"/><path d="M130.53,402.23 L124.26,398.96 L124.26,405.51Z" fill="#df6414"/><path d="M135.15,403.60 L128.88,400.32 L128.88,406.87Z" fill="#df6414"/><path d="M139.78,405.28 L133.51,402.00 L133.51,408.56Z" fill="#df6414"/><path d="M144.40,401.18 L138.13,397.90 L138.13,404.46Z" fill="#df6414"/><path d="M149.02,405.18 L142.75,401.90 L142.75,408.46Z" fill="#df6414"/><path d="M153.64,404.75 L147.37,401.48 L147.37,408.03Z" fill="#df6414"/><path d="M158.26,399.26 L151.99,395.98 L151.99,402.54Z" fill="#df6414"/><path d="M162.88,403.03 L156.61,399.75 L156.61,406.31Z" fill="#df6414"/><path d="M167.50,401.59 L161.23,398.31 L161.23,404.87Z" fill="#df6414"/><path d="M172.12,402.58 L165.85,399.31 L165.85,405.86Z" fill="#df6414"/><path d="M176.75,406.82 L170.48,403.54 L170.48,410.09Z" fill="#df6414"/><path d="M181.37,402.49 L175.10,399.21 L175.10,405.76Z" fill="#df6414"/><path d="M185.99,401.25 L179.72,397.97 L179.72,404.52Z" fill="#df6414"/><path d="M190.61,402.73 L184.34,399.46 L184.34,406.01Z" fill="#df6414"/><path d="M195.23,402.18 L188.96,398.90 L188.96,405.46Z" fill="#df6414"/><path d="M199.85,406.38 L193.58,403.11 L193.58,409.66Z" fill="#df6414"/><path d="M204.47,400.95 L198.20,397.67 L198.20,404.22Z" fill="#df6414"/><path d="M209.10,401.05 L202.83,397.77 L202.83,404.33Z" fill="#df6414"/><path d="M213.72,400.06 L207.45,396.79 L207.45,403.34Z" fill="#df6414"/><path d="M218.34,409.30 L212.07,406.02 L212.07,412.57Z" fill="#df6414"/><path d="M222.96,396.89 L216.69,393.61 L216.69,400.17Z" fill="#df6414"/><path d="M227.58,406.73 L221.31,403.46 L221.31,410.01Z" fill="#df6414"/><path d="M232.20,405.53 L225.93,402.25 L225.93,408.81Z" fill="#df6414"/><path d="M236.82,397.00 L230.55,393.72 L230.55,400.27Z" fill="#df6414"/><path d="M241.44,408.02 L235.17,404.74 L235.17,411.29Z" fill="#df6414"/><path d="M246.07,403.37 L239.80,400.09 L239.80,406.64Z" fill="#df6414"/><path d="M250.69,398.82 L244.42,395.54 L244.42,402.10Z" fill="#df6414"/><path d="M255.31,401.99 L249.04,398.71 L249.04,405.27Z" fill="#df6414"/><path d="M259.93,404.92 L253.66,401.64 L253.66,408.20Z" fill="#df6414"/><path d="M264.55,404.74 L258.28,401.46 L258.28,408.02Z" fill="#df6414"/><path d="M269.17,404.90 L262.90,401.62 L262.90,408.18Z" fill="#df6414"/><path d="M273.79,399.42 L267.52,396.14 L267.52,402.70Z" fill="#df6414"/><path d="M278.42,408.78 L272.15,405.51 L272.15,412.06Z" fill="#df6414"/><path d="M283.04,401.31 L276.77,398.04 L276.77,404.59Z" fill="#df6414"/><path d="M287.66,397.07 L281.39,393.80 L281.39,400.35Z" fill="#df6414"/><path d="M292.28,403.72 L286.01,400.45 L286.01,407.00Z" fill="#df6414"/><path d="M296.90,401.24 L290.63,397.96 L290.63,404.52Z" fill="#df6414"/><path d="M301.52,506.00 L295.25,502.72 L295.25,509.27Z" fill="#df6414"/><path d="M306.14,509.45 L299.87,506.18 L299.87,512.73Z" fill="#df6414"/><path d="M310.76,508.34 L304.49,505.06 L304.49,511.62Z" fill="#df6414"/><path d="M315.39,507.92 L309.12,504.64 L309.12,511.20Z" fill="#df6414"/><path d="M320.01,508.78 L313.74,505.50 L313.74,512.06Z" fill="#df6414"/><path d="M324.63,508.69 L318.36,505.41 L318.36,511.97Z" fill="#df6414"/><path d="M329.25,510.61 L322.98,507.33 L322.98,513.89Z" fill="#df6414"/>
<path d="M67.04,509.41 L71.66,507.86 L76.28,506.26 L80.90,508.59 L85.52,506.52 L90.14,505.17 L94.76,511.87 L99.39,506.77 L104.01,411.73 L108.63,414.21 L113.25,413.46 L117.87,414.51 L122.49,413.30 L127.11,409.03 L131.73,416.46 L136.36,412.22 L140.98,412.56 L145.60,412.23 L150.22,414.83 L154.84,410.72 L159.46,412.70 L164.08,413.40 L168.70,413.80 L173.33,412.69 L177.95,415.15 L182.57,409.80 L187.19,414.33 L191.81,414.24 L196.43,411.33 L201.05,412.10 L205.68,412.93 L210.30,412.36 L214.92,411.86 L219.54,415.10 L224.16,411.93 L228.78,412.71 L233.40,415.47 L238.02,409.31 L242.65,414.79 L247.27,412.06 L251.89,412.71 L256.51,414.60 L261.13,410.45 L265.75,412.35 L270.37,413.89 L275.00,418.00 L279.62,406.61 L284.24,415.00 L288.86,413.79 L293.48,412.99 L298.10,505.97 L302.72,509.61 L307.34,508.05 L311.97,513.28 L316.59,508.04 L321.21,510.01 L325.83,506.88" fill="none" stroke="#1a74c4" stroke-width="2.1" stroke-linejoin="round"/>
<path d="M63.62,509.41 L69.89,506.13 L69.89,512.68Z" fill="#1a74c4"/><path d="M68.24,507.86 L74.51,504.59 L74.51,511.14Z" fill="#1a74c4"/><path d="M72.86,506.26 L79.13,502.98 L79.13,509.53Z" fill="#1a74c4"/><path d="M77.48,508.59 L83.75,505.31 L83.75,511.87Z" fill="#1a74c4"/><path d="M82.10,506.52 L88.37,503.24 L88.37,509.79Z" fill="#1a74c4"/><path d="M86.72,505.17 L92.99,501.89 L92.99,508.45Z" fill="#1a74c4"/><path d="M91.34,511.87 L97.61,508.59 L97.61,515.14Z" fill="#1a74c4"/><path d="M95.97,506.77 L102.24,503.49 L102.24,510.05Z" fill="#1a74c4"/><path d="M100.59,411.73 L106.86,408.45 L106.86,415.01Z" fill="#1a74c4"/><path d="M105.21,414.21 L111.48,410.93 L111.48,417.48Z" fill="#1a74c4"/><path d="M109.83,413.46 L116.10,410.19 L116.10,416.74Z" fill="#1a74c4"/><path d="M114.45,414.51 L120.72,411.23 L120.72,417.78Z" fill="#1a74c4"/><path d="M119.07,413.30 L125.34,410.02 L125.34,416.58Z" fill="#1a74c4"/><path d="M123.69,409.03 L129.96,405.75 L129.96,412.30Z" fill="#1a74c4"/><path d="M128.31,416.46 L134.58,413.18 L134.58,419.73Z" fill="#1a74c4"/><path d="M132.94,412.22 L139.21,408.94 L139.21,415.49Z" fill="#1a74c4"/><path d="M137.56,412.56 L143.83,409.28 L143.83,415.84Z" fill="#1a74c4"/><path d="M142.18,412.23 L148.45,408.95 L148.45,415.51Z" fill="#1a74c4"/><path d="M146.80,414.83 L153.07,411.55 L153.07,418.11Z" fill="#1a74c4"/><path d="M151.42,410.72 L157.69,407.45 L157.69,414.00Z" fill="#1a74c4"/><path d="M156.04,412.70 L162.31,409.42 L162.31,415.98Z" fill="#1a74c4"/><path d="M160.66,413.40 L166.93,410.12 L166.93,416.67Z" fill="#1a74c4"/><path d="M165.28,413.80 L171.55,410.52 L171.55,417.08Z" fill="#1a74c4"/><path d="M169.91,412.69 L176.18,409.41 L176.18,415.97Z" fill="#1a74c4"/><path d="M174.53,415.15 L180.80,411.88 L180.80,418.43Z" fill="#1a74c4"/><path d="M179.15,409.80 L185.42,406.52 L185.42,413.07Z" fill="#1a74c4"/><path d="M183.77,414.33 L190.04,411.05 L190.04,417.61Z" fill="#1a74c4"/><path d="M188.39,414.24 L194.66,410.96 L194.66,417.52Z" fill="#1a74c4"/><path d="M193.01,411.33 L199.28,408.05 L199.28,414.61Z" fill="#1a74c4"/><path d="M197.63,412.10 L203.90,408.82 L203.90,415.37Z" fill="#1a74c4"/><path d="M202.26,412.93 L208.53,409.65 L208.53,416.21Z" fill="#1a74c4"/><path d="M206.88,412.36 L213.15,409.09 L213.15,415.64Z" fill="#1a74c4"/><path d="M211.50,411.86 L217.77,408.58 L217.77,415.14Z" fill="#1a74c4"/><path d="M216.12,415.10 L222.39,411.82 L222.39,418.37Z" fill="#1a74c4"/><path d="M220.74,411.93 L227.01,408.66 L227.01,415.21Z" fill="#1a74c4"/><path d="M225.36,412.71 L231.63,409.43 L231.63,415.99Z" fill="#1a74c4"/><path d="M229.98,415.47 L236.25,412.19 L236.25,418.75Z" fill="#1a74c4"/><path d="M234.60,409.31 L240.87,406.04 L240.87,412.59Z" fill="#1a74c4"/><path d="M239.23,414.79 L245.50,411.51 L245.50,418.06Z" fill="#1a74c4"/><path d="M243.85,412.06 L250.12,408.78 L250.12,415.33Z" fill="#1a74c4"/><path d="M248.47,412.71 L254.74,409.43 L254.74,415.99Z" fill="#1a74c4"/><path d="M253.09,414.60 L259.36,411.32 L259.36,417.88Z" fill="#1a74c4"/><path d="M257.71,410.45 L263.98,407.17 L263.98,413.73Z" fill="#1a74c4"/><path d="M262.33,412.35 L268.60,409.07 L268.60,415.62Z" fill="#1a74c4"/><path d="M266.95,413.89 L273.22,410.62 L273.22,417.17Z" fill="#1a74c4"/><path d="M271.58,418.00 L277.85,414.72 L277.85,421.27Z" fill="#1a74c4"/><path d="M276.20,406.61 L282.47,403.33 L282.47,409.89Z" fill="#1a74c4"/><path d="M280.82,415.00 L287.09,411.72 L287.09,418.28Z" fill="#1a74c4"/><path d="M285.44,413.79 L291.71,410.51 L291.71,417.07Z" fill="#1a74c4"/><path d="M290.06,412.99 L296.33,409.72 L296.33,416.27Z" fill="#1a74c4"/><path d="M294.68,505.97 L300.95,502.70 L300.95,509.25Z" fill="#1a74c4"/><path d="M299.30,509.61 L305.57,506.33 L305.57,512.89Z" fill="#1a74c4"/><path d="M303.92,508.05 L310.19,504.77 L310.19,511.32Z" fill="#1a74c4"/><path d="M308.55,513.28 L314.82,510.00 L314.82,516.56Z" fill="#1a74c4"/><path d="M313.17,508.04 L319.44,504.76 L319.44,511.31Z" fill="#1a74c4"/><path d="M317.79,510.01 L324.06,506.74 L324.06,513.29Z" fill="#1a74c4"/><path d="M322.41,506.88 L328.68,503.60 L328.68,510.16Z" fill="#1a74c4"/>
<path d="M67.04,507.89 L71.66,511.82 L76.28,507.25 L80.90,510.31 L85.52,509.00 L90.14,507.52 L94.76,507.83 L99.39,502.16 L104.01,426.79 L108.63,427.79 L113.25,428.40 L117.87,427.56 L122.49,424.54 L127.11,428.61 L131.73,430.36 L136.36,427.89 L140.98,424.48 L145.60,427.10 L150.22,429.81 L154.84,427.81 L159.46,424.25 L164.08,429.72 L168.70,425.22 L173.33,431.09 L177.95,427.40 L182.57,429.08 L187.19,424.34 L191.81,428.19 L196.43,430.15 L201.05,423.92 L205.68,428.83 L210.30,426.88 L214.92,423.97 L219.54,428.05 L224.16,428.25 L228.78,429.13 L233.40,429.41 L238.02,426.49 L242.65,426.93 L247.27,423.76 L251.89,432.18 L256.51,426.75 L261.13,426.29 L265.75,426.47 L270.37,425.67 L275.00,426.57 L279.62,430.69 L284.24,422.37 L288.86,430.04 L293.48,430.88 L298.10,506.56 L302.72,510.83 L307.34,507.08 L311.97,512.33 L316.59,508.90 L321.21,509.06 L325.83,511.62" fill="none" stroke="#fbe83a" stroke-width="2.1" stroke-linejoin="round"/>
<path d="M67.04,504.19 L70.17,507.89 L67.04,511.60 L63.90,507.89Z" fill="#fbe83a"/><path d="M71.66,508.11 L74.79,511.82 L71.66,515.52 L68.52,511.82Z" fill="#fbe83a"/><path d="M76.28,503.54 L79.41,507.25 L76.28,510.95 L73.14,507.25Z" fill="#fbe83a"/><path d="M80.90,506.60 L84.03,510.31 L80.90,514.01 L77.76,510.31Z" fill="#fbe83a"/><path d="M85.52,505.30 L88.66,509.00 L85.52,512.71 L82.39,509.00Z" fill="#fbe83a"/><path d="M90.14,503.82 L93.28,507.52 L90.14,511.23 L87.01,507.52Z" fill="#fbe83a"/><path d="M94.76,504.12 L97.90,507.83 L94.76,511.53 L91.63,507.83Z" fill="#fbe83a"/><path d="M99.39,498.45 L102.52,502.16 L99.39,505.86 L96.25,502.16Z" fill="#fbe83a"/><path d="M104.01,423.09 L107.14,426.79 L104.01,430.50 L100.87,426.79Z" fill="#fbe83a"/><path d="M108.63,424.08 L111.76,427.79 L108.63,431.49 L105.49,427.79Z" fill="#fbe83a"/><path d="M113.25,424.69 L116.38,428.40 L113.25,432.10 L110.11,428.40Z" fill="#fbe83a"/><path d="M117.87,423.85 L121.01,427.56 L117.87,431.26 L114.74,427.56Z" fill="#fbe83a"/><path d="M122.49,420.83 L125.63,424.54 L122.49,428.24 L119.36,424.54Z" fill="#fbe83a"/><path d="M127.11,424.90 L130.25,428.61 L127.11,432.31 L123.98,428.61Z" fill="#fbe83a"/><path d="M131.73,426.65 L134.87,430.36 L131.73,434.06 L128.60,430.36Z" fill="#fbe83a"/><path d="M136.36,424.19 L139.49,427.89 L136.36,431.60 L133.22,427.89Z" fill="#fbe83a"/><path d="M140.98,420.78 L144.11,424.48 L140.98,428.19 L137.84,424.48Z" fill="#fbe83a"/><path d="M145.60,423.40 L148.73,427.10 L145.60,430.81 L142.46,427.10Z" fill="#fbe83a"/><path d="M150.22,426.11 L153.35,429.81 L150.22,433.52 L147.08,429.81Z" fill="#fbe83a"/><path d="M154.84,424.11 L157.98,427.81 L154.84,431.52 L151.71,427.81Z" fill="#fbe83a"/><path d="M159.46,420.55 L162.60,424.25 L159.46,427.96 L156.33,424.25Z" fill="#fbe83a"/><path d="M164.08,426.01 L167.22,429.72 L164.08,433.42 L160.95,429.72Z" fill="#fbe83a"/><path d="M168.70,421.52 L171.84,425.22 L168.70,428.93 L165.57,425.22Z" fill="#fbe83a"/><path d="M173.33,427.39 L176.46,431.09 L173.33,434.80 L170.19,431.09Z" fill="#fbe83a"/><path d="M177.95,423.70 L181.08,427.40 L177.95,431.11 L174.81,427.40Z" fill="#fbe83a"/><path d="M182.57,425.37 L185.70,429.08 L182.57,432.78 L179.43,429.08Z" fill="#fbe83a"/><path d="M187.19,420.64 L190.33,424.34 L187.19,428.05 L184.06,424.34Z" fill="#fbe83a"/><path d="M191.81,424.48 L194.95,428.19 L191.81,431.89 L188.68,428.19Z" fill="#fbe83a"/><path d="M196.43,426.45 L199.57,430.15 L196.43,433.86 L193.30,430.15Z" fill="#fbe83a"/><path d="M201.05,420.22 L204.19,423.92 L201.05,427.63 L197.92,423.92Z" fill="#fbe83a"/><path d="M205.68,425.13 L208.81,428.83 L205.68,432.54 L202.54,428.83Z" fill="#fbe83a"/><path d="M210.30,423.17 L213.43,426.88 L210.30,430.58 L207.16,426.88Z" fill="#fbe83a"/><path d="M214.92,420.27 L218.05,423.97 L214.92,427.68 L211.78,423.97Z" fill="#fbe83a"/><path d="M219.54,424.34 L222.67,428.05 L219.54,431.75 L216.40,428.05Z" fill="#fbe83a"/><path d="M224.16,424.55 L227.30,428.25 L224.16,431.96 L221.03,428.25Z" fill="#fbe83a"/><path d="M228.78,425.43 L231.92,429.13 L228.78,432.84 L225.65,429.13Z" fill="#fbe83a"/><path d="M233.40,425.71 L236.54,429.41 L233.40,433.12 L230.27,429.41Z" fill="#fbe83a"/><path d="M238.02,422.78 L241.16,426.49 L238.02,430.19 L234.89,426.49Z" fill="#fbe83a"/><path d="M242.65,423.22 L245.78,426.93 L242.65,430.63 L239.51,426.93Z" fill="#fbe83a"/><path d="M247.27,420.06 L250.40,423.76 L247.27,427.47 L244.13,423.76Z" fill="#fbe83a"/><path d="M251.89,428.47 L255.02,432.18 L251.89,435.88 L248.75,432.18Z" fill="#fbe83a"/><path d="M256.51,423.04 L259.64,426.75 L256.51,430.45 L253.37,426.75Z" fill="#fbe83a"/><path d="M261.13,422.58 L264.27,426.29 L261.13,429.99 L258.00,426.29Z" fill="#fbe83a"/><path d="M265.75,422.77 L268.89,426.47 L265.75,430.18 L262.62,426.47Z" fill="#fbe83a"/><path d="M270.37,421.97 L273.51,425.67 L270.37,429.38 L267.24,425.67Z" fill="#fbe83a"/><path d="M275.00,422.86 L278.13,426.57 L275.00,430.27 L271.86,426.57Z" fill="#fbe83a"/><path d="M279.62,426.98 L282.75,430.69 L279.62,434.39 L276.48,430.69Z" fill="#fbe83a"/><path d="M284.24,418.66 L287.37,422.37 L284.24,426.07 L281.10,422.37Z" fill="#fbe83a"/><path d="M288.86,426.34 L291.99,430.04 L288.86,433.75 L285.72,430.04Z" fill="#fbe83a"/><path d="M293.48,427.18 L296.62,430.88 L293.48,434.59 L290.35,430.88Z" fill="#fbe83a"/><path d="M298.10,502.85 L301.24,506.56 L298.10,510.26 L294.97,506.56Z" fill="#fbe83a"/><path d="M302.72,507.13 L305.86,510.83 L302.72,514.54 L299.59,510.83Z" fill="#fbe83a"/><path d="M307.34,503.37 L310.48,507.08 L307.34,510.78 L304.21,507.08Z" fill="#fbe83a"/><path d="M311.97,508.62 L315.10,512.33 L311.97,516.03 L308.83,512.33Z" fill="#fbe83a"/><path d="M316.59,505.19 L319.72,508.90 L316.59,512.60 L313.45,508.90Z" fill="#fbe83a"/><path d="M321.21,505.35 L324.34,509.06 L321.21,512.76 L318.07,509.06Z" fill="#fbe83a"/><path d="M325.83,507.92 L328.96,511.62 L325.83,515.33 L322.69,511.62Z" fill="#fbe83a"/>
<path d="M67.04,508.31 L71.66,509.87 L76.28,505.36 L80.90,507.83 L85.52,506.84 L90.14,512.35 L94.76,509.91 L99.39,503.89 L104.01,441.22 L108.63,445.71 L113.25,439.32 L117.87,443.23 L122.49,443.24 L127.11,442.21 L131.73,440.93 L136.36,441.89 L140.98,442.70 L145.60,444.65 L150.22,443.09 L154.84,440.77 L159.46,441.58 L164.08,444.02 L168.70,440.41 L173.33,442.52 L177.95,442.39 L182.57,444.01 L187.19,439.73 L191.81,442.42 L196.43,441.54 L201.05,443.42 L205.68,444.71 L210.30,440.30 L214.92,441.53 L219.54,443.65 L224.16,443.97 L228.78,440.10 L233.40,442.08 L238.02,445.17 L242.65,441.94 L247.27,443.78 L251.89,439.98 L256.51,442.52 L261.13,439.76 L265.75,446.22 L270.37,438.93 L275.00,444.56 L279.62,441.63 L284.24,444.88 L288.86,440.64 L293.48,443.35 L298.10,505.84 L302.72,506.70 L307.34,509.62 L311.97,507.92 L316.59,511.31 L321.21,507.49 L325.83,511.07" fill="none" stroke="#129e6e" stroke-width="2.1" stroke-linejoin="round"/>
<path d="M67.04,511.73 L63.76,505.46 L70.31,505.46Z" fill="#129e6e"/><path d="M71.66,513.29 L68.38,507.02 L74.93,507.02Z" fill="#129e6e"/><path d="M76.28,508.78 L73.00,502.51 L79.56,502.51Z" fill="#129e6e"/><path d="M80.90,511.25 L77.62,504.98 L84.18,504.98Z" fill="#129e6e"/><path d="M85.52,510.26 L82.24,503.99 L88.80,503.99Z" fill="#129e6e"/><path d="M90.14,515.77 L86.87,509.50 L93.42,509.50Z" fill="#129e6e"/><path d="M94.76,513.33 L91.49,507.06 L98.04,507.06Z" fill="#129e6e"/><path d="M99.39,507.31 L96.11,501.04 L102.66,501.04Z" fill="#129e6e"/><path d="M104.01,444.64 L100.73,438.37 L107.28,438.37Z" fill="#129e6e"/><path d="M108.63,449.13 L105.35,442.86 L111.91,442.86Z" fill="#129e6e"/><path d="M113.25,442.74 L109.97,436.47 L116.53,436.47Z" fill="#129e6e"/><path d="M117.87,446.65 L114.59,440.38 L121.15,440.38Z" fill="#129e6e"/><path d="M122.49,446.66 L119.21,440.39 L125.77,440.39Z" fill="#129e6e"/><path d="M127.11,445.63 L123.84,439.36 L130.39,439.36Z" fill="#129e6e"/><path d="M131.73,444.35 L128.46,438.08 L135.01,438.08Z" fill="#129e6e"/><path d="M136.36,445.31 L133.08,439.04 L139.63,439.04Z" fill="#129e6e"/><path d="M140.98,446.12 L137.70,439.85 L144.25,439.85Z" fill="#129e6e"/><path d="M145.60,448.07 L142.32,441.80 L148.88,441.80Z" fill="#129e6e"/><path d="M150.22,446.51 L146.94,440.24 L153.50,440.24Z" fill="#129e6e"/><path d="M154.84,444.19 L151.56,437.92 L158.12,437.92Z" fill="#129e6e"/><path d="M159.46,445.00 L156.18,438.73 L162.74,438.73Z" fill="#129e6e"/><path d="M164.08,447.44 L160.81,441.17 L167.36,441.17Z" fill="#129e6e"/><path d="M168.70,443.83 L165.43,437.56 L171.98,437.56Z" fill="#129e6e"/><path d="M173.33,445.94 L170.05,439.67 L176.60,439.67Z" fill="#129e6e"/><path d="M177.95,445.81 L174.67,439.54 L181.23,439.54Z" fill="#129e6e"/><path d="M182.57,447.43 L179.29,441.16 L185.85,441.16Z" fill="#129e6e"/><path d="M187.19,443.15 L183.91,436.88 L190.47,436.88Z" fill="#129e6e"/><path d="M191.81,445.84 L188.53,439.57 L195.09,439.57Z" fill="#129e6e"/><path d="M196.43,444.96 L193.16,438.69 L199.71,438.69Z" fill="#129e6e"/><path d="M201.05,446.84 L197.78,440.57 L204.33,440.57Z" fill="#129e6e"/><path d="M205.68,448.13 L202.40,441.86 L208.95,441.86Z" fill="#129e6e"/><path d="M210.30,443.72 L207.02,437.45 L213.57,437.45Z" fill="#129e6e"/><path d="M214.92,444.95 L211.64,438.68 L218.20,438.68Z" fill="#129e6e"/><path d="M219.54,447.07 L216.26,440.80 L222.82,440.80Z" fill="#129e6e"/><path d="M224.16,447.39 L220.88,441.12 L227.44,441.12Z" fill="#129e6e"/><path d="M228.78,443.52 L225.50,437.25 L232.06,437.25Z" fill="#129e6e"/><path d="M233.40,445.50 L230.13,439.23 L236.68,439.23Z" fill="#129e6e"/><path d="M238.02,448.59 L234.75,442.32 L241.30,442.32Z" fill="#129e6e"/><path d="M242.65,445.36 L239.37,439.09 L245.92,439.09Z" fill="#129e6e"/><path d="M247.27,447.20 L243.99,440.93 L250.54,440.93Z" fill="#129e6e"/><path d="M251.89,443.40 L248.61,437.13 L255.17,437.13Z" fill="#129e6e"/><path d="M256.51,445.94 L253.23,439.67 L259.79,439.67Z" fill="#129e6e"/><path d="M261.13,443.18 L257.85,436.91 L264.41,436.91Z" fill="#129e6e"/><path d="M265.75,449.64 L262.47,443.37 L269.03,443.37Z" fill="#129e6e"/><path d="M270.37,442.35 L267.10,436.08 L273.65,436.08Z" fill="#129e6e"/><path d="M275.00,447.98 L271.72,441.71 L278.27,441.71Z" fill="#129e6e"/><path d="M279.62,445.05 L276.34,438.78 L282.89,438.78Z" fill="#129e6e"/><path d="M284.24,448.30 L280.96,442.03 L287.52,442.03Z" fill="#129e6e"/><path d="M288.86,444.06 L285.58,437.79 L292.14,437.79Z" fill="#129e6e"/><path d="M293.48,446.77 L290.20,440.50 L296.76,440.50Z" fill="#129e6e"/><path d="M298.10,509.26 L294.82,502.99 L301.38,502.99Z" fill="#129e6e"/><path d="M302.72,510.12 L299.45,503.85 L306.00,503.85Z" fill="#129e6e"/><path d="M307.34,513.04 L304.07,506.77 L310.62,506.77Z" fill="#129e6e"/><path d="M311.97,511.34 L308.69,505.07 L315.24,505.07Z" fill="#129e6e"/><path d="M316.59,514.73 L313.31,508.46 L319.86,508.46Z" fill="#129e6e"/><path d="M321.21,510.91 L317.93,504.64 L324.49,504.64Z" fill="#129e6e"/><path d="M325.83,514.49 L322.55,508.22 L329.11,508.22Z" fill="#129e6e"/>
<path d="M67.04,510.07 L71.66,506.93 L76.28,509.55 L80.90,506.87 L85.52,512.86 L90.14,509.49 L94.76,507.22 L99.39,507.36 L104.01,458.05 L108.63,458.83 L113.25,458.13 L117.87,458.86 L122.49,460.25 L127.11,458.92 L131.73,456.95 L136.36,458.60 L140.98,458.96 L145.60,460.03 L150.22,458.25 L154.84,458.89 L159.46,457.15 L164.08,460.13 L168.70,459.43 L173.33,458.29 L177.95,457.52 L182.57,457.05 L187.19,460.70 L191.81,456.81 L196.43,460.24 L201.05,458.71 L205.68,459.24 L210.30,456.79 L214.92,460.01 L219.54,456.93 L224.16,460.09 L228.78,455.96 L233.40,460.13 L238.02,458.77 L242.65,460.24 L247.27,455.63 L251.89,459.59 L256.51,458.83 L261.13,458.66 L265.75,459.31 L270.37,458.78 L275.00,457.54 L279.62,460.12 L284.24,457.90 L288.86,455.20 L293.48,461.40 L298.10,508.06 L302.72,505.99 L307.34,509.95 L311.97,505.45 L316.59,508.31 L321.21,510.40 L325.83,507.53" fill="none" stroke="#55b9ef" stroke-width="2.1" stroke-linejoin="round"/>
<path d="M67.04,506.65 L63.76,512.92 L70.31,512.92Z" fill="#55b9ef"/><path d="M71.66,503.51 L68.38,509.78 L74.93,509.78Z" fill="#55b9ef"/><path d="M76.28,506.13 L73.00,512.40 L79.56,512.40Z" fill="#55b9ef"/><path d="M80.90,503.45 L77.62,509.72 L84.18,509.72Z" fill="#55b9ef"/><path d="M85.52,509.44 L82.24,515.71 L88.80,515.71Z" fill="#55b9ef"/><path d="M90.14,506.07 L86.87,512.34 L93.42,512.34Z" fill="#55b9ef"/><path d="M94.76,503.80 L91.49,510.07 L98.04,510.07Z" fill="#55b9ef"/><path d="M99.39,503.94 L96.11,510.21 L102.66,510.21Z" fill="#55b9ef"/><path d="M104.01,454.63 L100.73,460.90 L107.28,460.90Z" fill="#55b9ef"/><path d="M108.63,455.41 L105.35,461.68 L111.91,461.68Z" fill="#55b9ef"/><path d="M113.25,454.71 L109.97,460.98 L116.53,460.98Z" fill="#55b9ef"/><path d="M117.87,455.44 L114.59,461.71 L121.15,461.71Z" fill="#55b9ef"/><path d="M122.49,456.83 L119.21,463.10 L125.77,463.10Z" fill="#55b9ef"/><path d="M127.11,455.50 L123.84,461.77 L130.39,461.77Z" fill="#55b9ef"/><path d="M131.73,453.53 L128.46,459.80 L135.01,459.80Z" fill="#55b9ef"/><path d="M136.36,455.18 L133.08,461.45 L139.63,461.45Z" fill="#55b9ef"/><path d="M140.98,455.54 L137.70,461.81 L144.25,461.81Z" fill="#55b9ef"/><path d="M145.60,456.61 L142.32,462.88 L148.88,462.88Z" fill="#55b9ef"/><path d="M150.22,454.83 L146.94,461.10 L153.50,461.10Z" fill="#55b9ef"/><path d="M154.84,455.47 L151.56,461.74 L158.12,461.74Z" fill="#55b9ef"/><path d="M159.46,453.73 L156.18,460.00 L162.74,460.00Z" fill="#55b9ef"/><path d="M164.08,456.71 L160.81,462.98 L167.36,462.98Z" fill="#55b9ef"/><path d="M168.70,456.01 L165.43,462.28 L171.98,462.28Z" fill="#55b9ef"/><path d="M173.33,454.87 L170.05,461.14 L176.60,461.14Z" fill="#55b9ef"/><path d="M177.95,454.10 L174.67,460.37 L181.23,460.37Z" fill="#55b9ef"/><path d="M182.57,453.63 L179.29,459.90 L185.85,459.90Z" fill="#55b9ef"/><path d="M187.19,457.28 L183.91,463.55 L190.47,463.55Z" fill="#55b9ef"/><path d="M191.81,453.39 L188.53,459.66 L195.09,459.66Z" fill="#55b9ef"/><path d="M196.43,456.82 L193.16,463.09 L199.71,463.09Z" fill="#55b9ef"/><path d="M201.05,455.29 L197.78,461.56 L204.33,461.56Z" fill="#55b9ef"/><path d="M205.68,455.82 L202.40,462.09 L208.95,462.09Z" fill="#55b9ef"/><path d="M210.30,453.37 L207.02,459.64 L213.57,459.64Z" fill="#55b9ef"/><path d="M214.92,456.59 L211.64,462.86 L218.20,462.86Z" fill="#55b9ef"/><path d="M219.54,453.51 L216.26,459.78 L222.82,459.78Z" fill="#55b9ef"/><path d="M224.16,456.67 L220.88,462.94 L227.44,462.94Z" fill="#55b9ef"/><path d="M228.78,452.54 L225.50,458.81 L232.06,458.81Z" fill="#55b9ef"/><path d="M233.40,456.71 L230.13,462.98 L236.68,462.98Z" fill="#55b9ef"/><path d="M238.02,455.35 L234.75,461.62 L241.30,461.62Z" fill="#55b9ef"/><path d="M242.65,456.82 L239.37,463.09 L245.92,463.09Z" fill="#55b9ef"/><path d="M247.27,452.21 L243.99,458.48 L250.54,458.48Z" fill="#55b9ef"/><path d="M251.89,456.17 L248.61,462.44 L255.17,462.44Z" fill="#55b9ef"/><path d="M256.51,455.41 L253.23,461.68 L259.79,461.68Z" fill="#55b9ef"/><path d="M261.13,455.24 L257.85,461.51 L264.41,461.51Z" fill="#55b9ef"/><path d="M265.75,455.89 L262.47,462.16 L269.03,462.16Z" fill="#55b9ef"/><path d="M270.37,455.36 L267.10,461.63 L273.65,461.63Z" fill="#55b9ef"/><path d="M275.00,454.12 L271.72,460.39 L278.27,460.39Z" fill="#55b9ef"/><path d="M279.62,456.70 L276.34,462.97 L282.89,462.97Z" fill="#55b9ef"/><path d="M284.24,454.48 L280.96,460.75 L287.52,460.75Z" fill="#55b9ef"/><path d="M288.86,451.78 L285.58,458.05 L292.14,458.05Z" fill="#55b9ef"/><path d="M293.48,457.98 L290.20,464.25 L296.76,464.25Z" fill="#55b9ef"/><path d="M298.10,504.64 L294.82,510.91 L301.38,510.91Z" fill="#55b9ef"/><path d="M302.72,502.57 L299.45,508.84 L306.00,508.84Z" fill="#55b9ef"/><path d="M307.34,506.53 L304.07,512.80 L310.62,512.80Z" fill="#55b9ef"/><path d="M311.97,502.03 L308.69,508.30 L315.24,508.30Z" fill="#55b9ef"/><path d="M316.59,504.89 L313.31,511.16 L319.86,511.16Z" fill="#55b9ef"/><path d="M321.21,506.98 L317.93,513.25 L324.49,513.25Z" fill="#55b9ef"/><path d="M325.83,504.11 L322.55,510.38 L329.11,510.38Z" fill="#55b9ef"/>
<path d="M67.04,505.97 L71.66,509.20 L76.28,509.07 L80.90,510.20 L85.52,507.93 L90.14,507.40 L94.76,506.45 L99.39,507.28 L104.01,480.20 L108.63,474.82 L113.25,473.05 L117.87,472.58 L122.49,472.94 L127.11,475.72 L131.73,478.90 L136.36,469.06 L140.98,475.40 L145.60,473.60 L150.22,481.63 L154.84,475.20 L159.46,472.31 L164.08,474.22 L168.70,473.54 L173.33,477.74 L177.95,474.89 L182.57,470.61 L187.19,482.01 L191.81,472.49 L196.43,471.39 L201.05,472.45 L205.68,475.86 L210.30,470.50 L214.92,478.16 L219.54,473.29 L224.16,474.09 L228.78,476.85 L233.40,479.01 L238.02,471.73 L242.65,474.51 L247.27,476.92 L251.89,469.84 L256.51,478.47 L261.13,478.10 L265.75,470.14 L270.37,478.10 L275.00,469.69 L279.62,485.49 L284.24,472.36 L288.86,469.20 L293.48,473.80 L298.10,506.87 L302.72,508.67 L307.34,509.76 L311.97,503.49 L316.59,506.75 L321.21,508.39 L325.83,511.57" fill="none" stroke="#f0a10e" stroke-width="2.1" stroke-linejoin="round"/>
<circle cx="67.04" cy="505.97" r="2.85" fill="#f0a10e"/><circle cx="71.66" cy="509.20" r="2.85" fill="#f0a10e"/><circle cx="76.28" cy="509.07" r="2.85" fill="#f0a10e"/><circle cx="80.90" cy="510.20" r="2.85" fill="#f0a10e"/><circle cx="85.52" cy="507.93" r="2.85" fill="#f0a10e"/><circle cx="90.14" cy="507.40" r="2.85" fill="#f0a10e"/><circle cx="94.76" cy="506.45" r="2.85" fill="#f0a10e"/><circle cx="99.39" cy="507.28" r="2.85" fill="#f0a10e"/><circle cx="104.01" cy="480.20" r="2.85" fill="#f0a10e"/><circle cx="108.63" cy="474.82" r="2.85" fill="#f0a10e"/><circle cx="113.25" cy="473.05" r="2.85" fill="#f0a10e"/><circle cx="117.87" cy="472.58" r="2.85" fill="#f0a10e"/><circle cx="122.49" cy="472.94" r="2.85" fill="#f0a10e"/><circle cx="127.11" cy="475.72" r="2.85" fill="#f0a10e"/><circle cx="131.73" cy="478.90" r="2.85" fill="#f0a10e"/><circle cx="136.36" cy="469.06" r="2.85" fill="#f0a10e"/><circle cx="140.98" cy="475.40" r="2.85" fill="#f0a10e"/><circle cx="145.60" cy="473.60" r="2.85" fill="#f0a10e"/><circle cx="150.22" cy="481.63" r="2.85" fill="#f0a10e"/><circle cx="154.84" cy="475.20" r="2.85" fill="#f0a10e"/><circle cx="159.46" cy="472.31" r="2.85" fill="#f0a10e"/><circle cx="164.08" cy="474.22" r="2.85" fill="#f0a10e"/><circle cx="168.70" cy="473.54" r="2.85" fill="#f0a10e"/><circle cx="173.33" cy="477.74" r="2.85" fill="#f0a10e"/><circle cx="177.95" cy="474.89" r="2.85" fill="#f0a10e"/><circle cx="182.57" cy="470.61" r="2.85" fill="#f0a10e"/><circle cx="187.19" cy="482.01" r="2.85" fill="#f0a10e"/><circle cx="191.81" cy="472.49" r="2.85" fill="#f0a10e"/><circle cx="196.43" cy="471.39" r="2.85" fill="#f0a10e"/><circle cx="201.05" cy="472.45" r="2.85" fill="#f0a10e"/><circle cx="205.68" cy="475.86" r="2.85" fill="#f0a10e"/><circle cx="210.30" cy="470.50" r="2.85" fill="#f0a10e"/><circle cx="214.92" cy="478.16" r="2.85" fill="#f0a10e"/><circle cx="219.54" cy="473.29" r="2.85" fill="#f0a10e"/><circle cx="224.16" cy="474.09" r="2.85" fill="#f0a10e"/><circle cx="228.78" cy="476.85" r="2.85" fill="#f0a10e"/><circle cx="233.40" cy="479.01" r="2.85" fill="#f0a10e"/><circle cx="238.02" cy="471.73" r="2.85" fill="#f0a10e"/><circle cx="242.65" cy="474.51" r="2.85" fill="#f0a10e"/><circle cx="247.27" cy="476.92" r="2.85" fill="#f0a10e"/><circle cx="251.89" cy="469.84" r="2.85" fill="#f0a10e"/><circle cx="256.51" cy="478.47" r="2.85" fill="#f0a10e"/><circle cx="261.13" cy="478.10" r="2.85" fill="#f0a10e"/><circle cx="265.75" cy="470.14" r="2.85" fill="#f0a10e"/><circle cx="270.37" cy="478.10" r="2.85" fill="#f0a10e"/><circle cx="275.00" cy="469.69" r="2.85" fill="#f0a10e"/><circle cx="279.62" cy="485.49" r="2.85" fill="#f0a10e"/><circle cx="284.24" cy="472.36" r="2.85" fill="#f0a10e"/><circle cx="288.86" cy="469.20" r="2.85" fill="#f0a10e"/><circle cx="293.48" cy="473.80" r="2.85" fill="#f0a10e"/><circle cx="298.10" cy="506.87" r="2.85" fill="#f0a10e"/><circle cx="302.72" cy="508.67" r="2.85" fill="#f0a10e"/><circle cx="307.34" cy="509.76" r="2.85" fill="#f0a10e"/><circle cx="311.97" cy="503.49" r="2.85" fill="#f0a10e"/><circle cx="316.59" cy="506.75" r="2.85" fill="#f0a10e"/><circle cx="321.21" cy="508.39" r="2.85" fill="#f0a10e"/><circle cx="325.83" cy="511.57" r="2.85" fill="#f0a10e"/>
<path d="M67.04,508.04 L71.66,510.81 L76.28,507.86 L80.90,511.74 L85.52,507.56 L90.14,504.52 L94.76,505.84 L99.39,507.74 L104.01,492.70 L108.63,488.31 L113.25,494.26 L117.87,492.41 L122.49,496.87 L127.11,486.94 L131.73,496.09 L136.36,494.04 L140.98,495.07 L145.60,490.62 L150.22,493.10 L154.84,493.85 L159.46,488.18 L164.08,493.44 L168.70,495.97 L173.33,494.83 L177.95,493.06 L182.57,491.02 L187.19,502.50 L191.81,485.27 L196.43,494.58 L201.05,485.83 L205.68,497.15 L210.30,494.79 L214.92,492.51 L219.54,495.31 L224.16,493.75 L228.78,491.47 L233.40,499.69 L238.02,487.64 L242.65,498.88 L247.27,490.95 L251.89,493.66 L256.51,488.60 L261.13,489.54 L265.75,492.49 L270.37,498.96 L275.00,492.54 L279.62,492.30 L284.24,492.64 L288.86,489.39 L293.48,493.93 L298.10,507.23 L302.72,513.70 L307.34,508.99 L311.97,508.26 L316.59,509.38 L321.21,509.15 L325.83,512.64" fill="none" stroke="#000000" stroke-width="2.1" stroke-linejoin="round"/>
<rect x="64.33" y="505.33" width="5.42" height="5.42" fill="#000000"/><rect x="68.95" y="508.10" width="5.42" height="5.42" fill="#000000"/><rect x="73.57" y="505.15" width="5.42" height="5.42" fill="#000000"/><rect x="78.19" y="509.04" width="5.42" height="5.42" fill="#000000"/><rect x="82.81" y="504.85" width="5.42" height="5.42" fill="#000000"/><rect x="87.44" y="501.81" width="5.42" height="5.42" fill="#000000"/><rect x="92.06" y="503.13" width="5.42" height="5.42" fill="#000000"/><rect x="96.68" y="505.04" width="5.42" height="5.42" fill="#000000"/><rect x="101.30" y="490.00" width="5.42" height="5.42" fill="#000000"/><rect x="105.92" y="485.60" width="5.42" height="5.42" fill="#000000"/><rect x="110.54" y="491.55" width="5.42" height="5.42" fill="#000000"/><rect x="115.16" y="489.71" width="5.42" height="5.42" fill="#000000"/><rect x="119.78" y="494.16" width="5.42" height="5.42" fill="#000000"/><rect x="124.41" y="484.23" width="5.42" height="5.42" fill="#000000"/><rect x="129.03" y="493.38" width="5.42" height="5.42" fill="#000000"/><rect x="133.65" y="491.33" width="5.42" height="5.42" fill="#000000"/><rect x="138.27" y="492.36" width="5.42" height="5.42" fill="#000000"/><rect x="142.89" y="487.91" width="5.42" height="5.42" fill="#000000"/><rect x="147.51" y="490.39" width="5.42" height="5.42" fill="#000000"/><rect x="152.13" y="491.14" width="5.42" height="5.42" fill="#000000"/><rect x="156.75" y="485.47" width="5.42" height="5.42" fill="#000000"/><rect x="161.38" y="490.73" width="5.42" height="5.42" fill="#000000"/><rect x="166.00" y="493.26" width="5.42" height="5.42" fill="#000000"/><rect x="170.62" y="492.12" width="5.42" height="5.42" fill="#000000"/><rect x="175.24" y="490.35" width="5.42" height="5.42" fill="#000000"/><rect x="179.86" y="488.31" width="5.42" height="5.42" fill="#000000"/><rect x="184.48" y="499.80" width="5.42" height="5.42" fill="#000000"/><rect x="189.10" y="482.56" width="5.42" height="5.42" fill="#000000"/><rect x="193.73" y="491.88" width="5.42" height="5.42" fill="#000000"/><rect x="198.35" y="483.12" width="5.42" height="5.42" fill="#000000"/><rect x="202.97" y="494.44" width="5.42" height="5.42" fill="#000000"/><rect x="207.59" y="492.08" width="5.42" height="5.42" fill="#000000"/><rect x="212.21" y="489.80" width="5.42" height="5.42" fill="#000000"/><rect x="216.83" y="492.61" width="5.42" height="5.42" fill="#000000"/><rect x="221.45" y="491.04" width="5.42" height="5.42" fill="#000000"/><rect x="226.07" y="488.76" width="5.42" height="5.42" fill="#000000"/><rect x="230.70" y="496.98" width="5.42" height="5.42" fill="#000000"/><rect x="235.32" y="484.94" width="5.42" height="5.42" fill="#000000"/><rect x="239.94" y="496.17" width="5.42" height="5.42" fill="#000000"/><rect x="244.56" y="488.24" width="5.42" height="5.42" fill="#000000"/><rect x="249.18" y="490.95" width="5.42" height="5.42" fill="#000000"/><rect x="253.80" y="485.90" width="5.42" height="5.42" fill="#000000"/><rect x="258.42" y="486.83" width="5.42" height="5.42" fill="#000000"/><rect x="263.04" y="489.78" width="5.42" height="5.42" fill="#000000"/><rect x="267.67" y="496.26" width="5.42" height="5.42" fill="#000000"/><rect x="272.29" y="489.83" width="5.42" height="5.42" fill="#000000"/><rect x="276.91" y="489.59" width="5.42" height="5.42" fill="#000000"/><rect x="281.53" y="489.93" width="5.42" height="5.42" fill="#000000"/><rect x="286.15" y="486.68" width="5.42" height="5.42" fill="#000000"/><rect x="290.77" y="491.23" width="5.42" height="5.42" fill="#000000"/><rect x="295.39" y="504.52" width="5.42" height="5.42" fill="#000000"/><rect x="300.02" y="510.99" width="5.42" height="5.42" fill="#000000"/><rect x="304.64" y="506.28" width="5.42" height="5.42" fill="#000000"/><rect x="309.26" y="505.55" width="5.42" height="5.42" fill="#000000"/><rect x="313.88" y="506.67" width="5.42" height="5.42" fill="#000000"/><rect x="318.50" y="506.44" width="5.42" height="5.42" fill="#000000"/><rect x="323.12" y="509.93" width="5.42" height="5.42" fill="#000000"/>
<rect x="65.6" y="300.6" width="260.20" height="228.20" fill="none" stroke="#231f20" stroke-width="1.6"/>
<line x1="70.10" y1="308.30" x2="100.10" y2="308.30" stroke="#b36bf5" stroke-width="2.0"/>
<path d="M88.10,310.03 L85.10,311.76 L82.10,310.03 L82.10,306.57 L85.10,304.84 L88.10,306.57Z" fill="#b36bf5"/>
<text x="132.8" y="312.70" font-size="12.3" text-anchor="end">100%</text>
<line x1="135.60" y1="308.30" x2="165.60" y2="308.30" stroke="#fbe83a" stroke-width="2.0"/>
<path d="M150.60,304.01 L154.23,308.30 L150.60,312.59 L146.97,308.30Z" fill="#fbe83a"/>
<text x="169.60" y="312.70" font-size="12.3">50%</text>
<line x1="70.10" y1="321.45" x2="100.10" y2="321.45" stroke="#ff69c0" stroke-width="2.0"/>
<path d="M85.10,317.32 L86.17,319.98 L89.02,320.18 L86.83,322.01 L87.52,324.79 L85.10,323.26 L82.68,324.79 L83.37,322.01 L81.18,320.18 L84.03,319.98Z" fill="#ff69c0"/>
<text x="132.8" y="325.85" font-size="12.3" text-anchor="end">90%</text>
<line x1="135.60" y1="321.45" x2="165.60" y2="321.45" stroke="#129e6e" stroke-width="2.0"/>
<path d="M150.60,325.41 L146.81,318.15 L154.39,318.15Z" fill="#129e6e"/>
<text x="169.60" y="325.85" font-size="12.3">40%</text>
<line x1="70.10" y1="334.60" x2="100.10" y2="334.60" stroke="#d47bb2" stroke-width="2.0"/>
<path d="M88.10,336.33 L85.10,338.06 L82.10,336.33 L82.10,332.87 L85.10,331.14 L88.10,332.87Z" fill="#d47bb2"/>
<text x="132.8" y="339.00" font-size="12.3" text-anchor="end">80%</text>
<line x1="135.60" y1="334.60" x2="165.60" y2="334.60" stroke="#55b9ef" stroke-width="2.0"/>
<path d="M150.60,330.64 L146.81,337.90 L154.39,337.90Z" fill="#55b9ef"/>
<text x="169.60" y="339.00" font-size="12.3">30%</text>
<line x1="70.10" y1="347.75" x2="100.10" y2="347.75" stroke="#df6414" stroke-width="2.0"/>
<path d="M89.06,347.75 L81.80,343.95 L81.80,351.55Z" fill="#df6414"/>
<text x="132.8" y="352.15" font-size="12.3" text-anchor="end">70%</text>
<line x1="135.60" y1="347.75" x2="165.60" y2="347.75" stroke="#f0a10e" stroke-width="2.0"/>
<circle cx="150.60" cy="347.75" r="3.3" fill="#f0a10e"/>
<text x="169.60" y="352.15" font-size="12.3">20%</text>
<line x1="70.10" y1="360.90" x2="100.10" y2="360.90" stroke="#1a74c4" stroke-width="2.0"/>
<path d="M81.14,360.90 L88.40,357.11 L88.40,364.70Z" fill="#1a74c4"/>
<text x="132.8" y="365.30" font-size="12.3" text-anchor="end">60%</text>
<line x1="135.60" y1="360.90" x2="165.60" y2="360.90" stroke="#000000" stroke-width="2.0"/>
<rect x="147.47" y="357.77" width="6.27" height="6.27" fill="#000000"/>
<text x="169.60" y="365.30" font-size="12.3">10%</text>
<text x="321.20" y="315.60" font-size="12.8" text-anchor="end">640/30 nm light</text>
<line x1="61.80" y1="508.50" x2="65.6" y2="508.50" stroke="#231f20" stroke-width="1.6"/>
<text transform="translate(59.90,514.00) scale(1,1.03)" font-size="16" text-anchor="end">0.00</text>
<line x1="61.80" y1="466.92" x2="65.6" y2="466.92" stroke="#231f20" stroke-width="1.6"/>
<text transform="translate(59.90,472.42) scale(1,1.03)" font-size="16" text-anchor="end">0.02</text>
<line x1="61.80" y1="425.34" x2="65.6" y2="425.34" stroke="#231f20" stroke-width="1.6"/>
<text transform="translate(59.90,430.84) scale(1,1.03)" font-size="16" text-anchor="end">0.04</text>
<line x1="61.80" y1="383.76" x2="65.6" y2="383.76" stroke="#231f20" stroke-width="1.6"/>
<text transform="translate(59.90,389.26) scale(1,1.03)" font-size="16" text-anchor="end">0.06</text>
<line x1="61.80" y1="342.18" x2="65.6" y2="342.18" stroke="#231f20" stroke-width="1.6"/>
<text transform="translate(59.90,347.68) scale(1,1.03)" font-size="16" text-anchor="end">0.08</text>
<line x1="61.80" y1="300.60" x2="65.6" y2="300.60" stroke="#231f20" stroke-width="1.6"/>
<text transform="translate(59.90,306.10) scale(1,1.03)" font-size="16" text-anchor="end">0.10</text>
<text transform="translate(65.80,547.80) scale(1,1.03)" font-size="16" text-anchor="middle">0</text>
<line x1="98.72" y1="528.8" x2="98.72" y2="532.60" stroke="#231f20" stroke-width="1.6"/>
<text transform="translate(98.72,547.80) scale(1,1.03)" font-size="16" text-anchor="middle">5</text>
<line x1="136.45" y1="528.8" x2="136.45" y2="532.60" stroke="#231f20" stroke-width="1.6"/>
<text transform="translate(136.45,547.80) scale(1,1.03)" font-size="16" text-anchor="middle">10</text>
<line x1="174.18" y1="528.8" x2="174.18" y2="532.60" stroke="#231f20" stroke-width="1.6"/>
<text transform="translate(174.18,547.80) scale(1,1.03)" font-size="16" text-anchor="middle">15</text>
<line x1="211.90" y1="528.8" x2="211.90" y2="532.60" stroke="#231f20" stroke-width="1.6"/>
<text transform="translate(211.90,547.80) scale(1,1.03)" font-size="16" text-anchor="middle">20</text>
<line x1="249.62" y1="528.8" x2="249.62" y2="532.60" stroke="#231f20" stroke-width="1.6"/>
<text transform="translate(249.62,547.80) scale(1,1.03)" font-size="16" text-anchor="middle">25</text>
<line x1="287.35" y1="528.8" x2="287.35" y2="532.60" stroke="#231f20" stroke-width="1.6"/>
<text transform="translate(287.35,547.80) scale(1,1.03)" font-size="16" text-anchor="middle">30</text>
<line x1="325.07" y1="528.8" x2="325.07" y2="532.60" stroke="#231f20" stroke-width="1.6"/>
<text transform="translate(325.07,547.80) scale(1,1.03)" font-size="16" text-anchor="middle">35</text>
<text x="196.8" y="565.3" font-size="18" text-anchor="middle"><tspan font-style="italic">t</tspan> (s)</text>
<text transform="translate(19.4,442.2) rotate(-90)" font-size="18"><tspan font-style="italic">V</tspan><tspan font-size="11" dy="6.5">sig</tspan><tspan dy="-6.5"> (V)</tspan></text>
<rect x="410.7" y="300.8" width="260.80" height="228.20" fill="none" stroke="#231f20" stroke-width="1.6"/>
<line x1="423.60" y1="498.1" x2="658.05" y2="330.3" stroke="#55b9ef" stroke-width="2.2"/>
<line x1="423.60" y1="513" x2="658.05" y2="404.56" stroke="#f0a10e" stroke-width="2.2"/>
<circle cx="423.60" cy="506.30" r="3.8" fill="#55b9ef"/>
<rect x="420.20" y="512.11" width="6.8" height="6.8" fill="#f0a10e"/>
<circle cx="449.65" cy="483.93" r="3.8" fill="#55b9ef"/>
<rect x="446.25" y="497.89" width="6.8" height="6.8" fill="#f0a10e"/>
<circle cx="475.70" cy="461.17" r="3.8" fill="#55b9ef"/>
<rect x="472.30" y="487.93" width="6.8" height="6.8" fill="#f0a10e"/>
<circle cx="501.75" cy="437.56" r="3.8" fill="#55b9ef"/>
<rect x="498.35" y="470.58" width="6.8" height="6.8" fill="#f0a10e"/>
<circle cx="527.80" cy="413.66" r="3.8" fill="#55b9ef"/>
<rect x="524.40" y="455.78" width="6.8" height="6.8" fill="#f0a10e"/>
<circle cx="553.85" cy="396.31" r="3.8" fill="#55b9ef"/>
<rect x="550.45" y="447.82" width="6.8" height="6.8" fill="#f0a10e"/>
<circle cx="579.90" cy="382.94" r="3.8" fill="#55b9ef"/>
<rect x="576.50" y="435.01" width="6.8" height="6.8" fill="#f0a10e"/>
<circle cx="605.95" cy="369.28" r="3.8" fill="#55b9ef"/>
<rect x="602.55" y="426.76" width="6.8" height="6.8" fill="#f0a10e"/>
<circle cx="632.00" cy="348.51" r="3.8" fill="#55b9ef"/>
<rect x="628.60" y="414.25" width="6.8" height="6.8" fill="#f0a10e"/>
<circle cx="658.05" cy="340.83" r="3.8" fill="#55b9ef"/>
<rect x="654.65" y="403.43" width="6.8" height="6.8" fill="#f0a10e"/>
<line x1="406.90" y1="528.60" x2="410.7" y2="528.60" stroke="#231f20" stroke-width="1.6"/>
<text transform="translate(405.00,534.10) scale(1,1.03)" font-size="16" text-anchor="end">0.00</text>
<line x1="406.90" y1="471.70" x2="410.7" y2="471.70" stroke="#231f20" stroke-width="1.6"/>
<text transform="translate(405.00,477.20) scale(1,1.03)" font-size="16" text-anchor="end">0.02</text>
<line x1="406.90" y1="414.80" x2="410.7" y2="414.80" stroke="#231f20" stroke-width="1.6"/>
<text transform="translate(405.00,420.30) scale(1,1.03)" font-size="16" text-anchor="end">0.04</text>
<line x1="406.90" y1="357.90" x2="410.7" y2="357.90" stroke="#231f20" stroke-width="1.6"/>
<text transform="translate(405.00,363.40) scale(1,1.03)" font-size="16" text-anchor="end">0.06</text>
<line x1="406.90" y1="301.00" x2="410.7" y2="301.00" stroke="#231f20" stroke-width="1.6"/>
<text transform="translate(405.00,306.50) scale(1,1.03)" font-size="16" text-anchor="end">0.08</text>
<line x1="449.65" y1="529.0" x2="449.65" y2="532.80" stroke="#231f20" stroke-width="1.6"/>
<text transform="translate(452.65,548.00) scale(1,1.03)" font-size="16" text-anchor="middle">20%</text>
<line x1="501.75" y1="529.0" x2="501.75" y2="532.80" stroke="#231f20" stroke-width="1.6"/>
<text transform="translate(504.75,548.00) scale(1,1.03)" font-size="16" text-anchor="middle">40%</text>
<line x1="553.85" y1="529.0" x2="553.85" y2="532.80" stroke="#231f20" stroke-width="1.6"/>
<text transform="translate(556.85,548.00) scale(1,1.03)" font-size="16" text-anchor="middle">60%</text>
<line x1="605.95" y1="529.0" x2="605.95" y2="532.80" stroke="#231f20" stroke-width="1.6"/>
<text transform="translate(608.95,548.00) scale(1,1.03)" font-size="16" text-anchor="middle">80%</text>
<line x1="658.05" y1="529.0" x2="658.05" y2="532.80" stroke="#231f20" stroke-width="1.6"/>
<text transform="translate(661.05,548.00) scale(1,1.03)" font-size="16" text-anchor="middle">100%</text>
<rect x="419.70" y="308.90" width="6.8" height="6.8" fill="#f0a10e"/>
<circle cx="423.1" cy="327.1" r="3.8" fill="#55b9ef"/>
<text x="431.8" y="316.8" font-size="12.75">550/15 nm light</text>
<text x="431.8" y="331.6" font-size="12.75">640/30 nm light</text>
<text transform="translate(362.8,442.7) rotate(-90)" font-size="18"><tspan font-style="italic">V</tspan><tspan font-size="11" dy="6.5">sig</tspan><tspan dy="-6.5"> (V)</tspan></text>
<text x="529.6" y="564.4" font-size="18" font-style="italic">I</text><text x="534.3" y="570.6" font-size="10.5">light</text>
<defs>
<linearGradient id="go" x1="0" y1="0" x2="0" y2="1"><stop offset="0" stop-color="#ee9a12"/><stop offset="1" stop-color="#ffdb85"/></linearGradient>
<linearGradient id="gb" x1="0" y1="0" x2="0" y2="1"><stop offset="0" stop-color="#47a6e6"/><stop offset="1" stop-color="#8dcff8"/></linearGradient>
</defs>
<rect x="69.50" y="816.83" width="35.20" height="4.57" fill="url(#go)" stroke="#5a4a30" stroke-width="1.1"/>
<rect x="113.40" y="814.55" width="35.00" height="6.85" fill="url(#gb)" stroke="#3d556a" stroke-width="1.1"/>
<rect x="156.10" y="808.84" width="35.50" height="12.56" fill="url(#go)" stroke="#5a4a30" stroke-width="1.1"/>
<rect x="199.90" y="798.85" width="34.70" height="22.55" fill="url(#gb)" stroke="#3d556a" stroke-width="1.1"/>
<rect x="243.50" y="766.01" width="34.90" height="55.39" fill="url(#go)" stroke="#5a4a30" stroke-width="1.1"/>
<rect x="286.80" y="744.60" width="35.20" height="76.80" fill="url(#gb)" stroke="#3d556a" stroke-width="1.1"/>
<line x1="66.5" y1="813.41" x2="326.4" y2="813.41" stroke="#7a7a7a" stroke-width="1.8" stroke-dasharray="4,3.7"/>
<line x1="87.10" y1="814.26" x2="87.10" y2="818.54" stroke="#000" stroke-width="1.9"/>
<line x1="84.90" y1="814.26" x2="89.30" y2="814.26" stroke="#000" stroke-width="2.2"/>
<line x1="84.90" y1="818.54" x2="89.30" y2="818.54" stroke="#000" stroke-width="2.2"/>
<line x1="130.90" y1="811.69" x2="130.90" y2="817.12" stroke="#000" stroke-width="1.9"/>
<line x1="128.70" y1="811.69" x2="133.10" y2="811.69" stroke="#000" stroke-width="2.2"/>
<line x1="128.70" y1="817.12" x2="133.10" y2="817.12" stroke="#000" stroke-width="2.2"/>
<line x1="173.90" y1="802.56" x2="173.90" y2="815.12" stroke="#000" stroke-width="1.9"/>
<line x1="171.70" y1="802.56" x2="176.10" y2="802.56" stroke="#000" stroke-width="2.2"/>
<line x1="171.70" y1="815.12" x2="176.10" y2="815.12" stroke="#000" stroke-width="2.2"/>
<line x1="217.10" y1="785.14" x2="217.10" y2="809.98" stroke="#000" stroke-width="1.9"/>
<line x1="214.90" y1="785.14" x2="219.30" y2="785.14" stroke="#000" stroke-width="2.2"/>
<line x1="214.90" y1="809.98" x2="219.30" y2="809.98" stroke="#000" stroke-width="2.2"/>
<line x1="261.00" y1="734.61" x2="261.00" y2="796.28" stroke="#000" stroke-width="1.9"/>
<line x1="258.80" y1="734.61" x2="263.20" y2="734.61" stroke="#000" stroke-width="2.2"/>
<line x1="258.80" y1="796.28" x2="263.20" y2="796.28" stroke="#000" stroke-width="2.2"/>
<line x1="304.20" y1="716.62" x2="304.20" y2="772.01" stroke="#000" stroke-width="1.9"/>
<line x1="302.00" y1="716.62" x2="306.40" y2="716.62" stroke="#000" stroke-width="2.2"/>
<line x1="302.00" y1="772.01" x2="306.40" y2="772.01" stroke="#000" stroke-width="2.2"/>
<rect x="65.5" y="592.6" width="260.90" height="228.80" fill="none" stroke="#231f20" stroke-width="1.6"/>
<line x1="61.70" y1="821.40" x2="65.5" y2="821.40" stroke="#231f20" stroke-width="1.6"/>
<text transform="translate(59.80,826.90) scale(1,1.03)" font-size="16" text-anchor="end">0</text>
<line x1="61.70" y1="764.30" x2="65.5" y2="764.30" stroke="#231f20" stroke-width="1.6"/>
<text transform="translate(59.80,769.80) scale(1,1.03)" font-size="16" text-anchor="end">20</text>
<line x1="61.70" y1="707.20" x2="65.5" y2="707.20" stroke="#231f20" stroke-width="1.6"/>
<text transform="translate(59.80,712.70) scale(1,1.03)" font-size="16" text-anchor="end">40</text>
<line x1="61.70" y1="650.10" x2="65.5" y2="650.10" stroke="#231f20" stroke-width="1.6"/>
<text transform="translate(59.80,655.60) scale(1,1.03)" font-size="16" text-anchor="end">60</text>
<line x1="61.70" y1="593.00" x2="65.5" y2="593.00" stroke="#231f20" stroke-width="1.6"/>
<text transform="translate(59.80,598.50) scale(1,1.03)" font-size="16" text-anchor="end">80</text>
<line x1="108.70" y1="821.4" x2="108.70" y2="825.20" stroke="#231f20" stroke-width="1.6"/>
<text transform="translate(110.70,840.40) scale(1,1.03)" font-size="16" text-anchor="middle">10%</text>
<line x1="195.80" y1="821.4" x2="195.80" y2="825.20" stroke="#231f20" stroke-width="1.6"/>
<text transform="translate(197.80,840.40) scale(1,1.03)" font-size="16" text-anchor="middle">30%</text>
<line x1="282.30" y1="821.4" x2="282.30" y2="825.20" stroke="#231f20" stroke-width="1.6"/>
<text transform="translate(284.30,840.40) scale(1,1.03)" font-size="16" text-anchor="middle">100%</text>
<text x="72.80" y="608.00" font-size="12.8">550/15 nm light</text>
<rect x="72.70" y="614.7" width="21.3" height="10.7" fill="url(#go)" stroke="#5a4a30" stroke-width="1"/>
<rect x="72.70" y="632.1" width="21.3" height="10.7" fill="url(#gb)" stroke="#3d556a" stroke-width="1"/>
<text x="100.00" y="624.8" font-size="13">SNR</text>
<text x="100.00" y="642.2" font-size="13">SBR</text>
<text transform="translate(37.7,707.0) rotate(-90)" font-size="18" text-anchor="middle">SNR/SBR</text>
<text x="185.10" y="858.6" font-size="18" font-style="italic">I</text><text x="188.80" y="865" font-size="10.5">light</text>
<rect x="415.70" y="807.26" width="34.70" height="13.14" fill="url(#go)" stroke="#5a4a30" stroke-width="1.1"/>
<rect x="459.10" y="805.26" width="34.70" height="15.14" fill="url(#gb)" stroke="#3d556a" stroke-width="1.1"/>
<rect x="502.50" y="777.82" width="34.70" height="42.58" fill="url(#go)" stroke="#5a4a30" stroke-width="1.1"/>
<rect x="545.80" y="775.54" width="34.60" height="44.86" fill="url(#gb)" stroke="#3d556a" stroke-width="1.1"/>
<rect x="589.30" y="707.81" width="34.70" height="112.59" fill="url(#go)" stroke="#5a4a30" stroke-width="1.1"/>
<rect x="632.90" y="694.38" width="34.60" height="126.02" fill="url(#gb)" stroke="#3d556a" stroke-width="1.1"/>
<line x1="412.2" y1="812.40" x2="671.7" y2="812.40" stroke="#7a7a7a" stroke-width="1.8" stroke-dasharray="4,3.7"/>
<line x1="433.00" y1="803.54" x2="433.00" y2="811.54" stroke="#000" stroke-width="1.9"/>
<line x1="430.80" y1="803.54" x2="435.20" y2="803.54" stroke="#000" stroke-width="2.2"/>
<line x1="430.80" y1="811.54" x2="435.20" y2="811.54" stroke="#000" stroke-width="2.2"/>
<line x1="476.00" y1="798.97" x2="476.00" y2="811.54" stroke="#000" stroke-width="1.9"/>
<line x1="473.80" y1="798.97" x2="478.20" y2="798.97" stroke="#000" stroke-width="2.2"/>
<line x1="473.80" y1="811.54" x2="478.20" y2="811.54" stroke="#000" stroke-width="2.2"/>
<line x1="519.70" y1="755.53" x2="519.70" y2="800.97" stroke="#000" stroke-width="1.9"/>
<line x1="517.50" y1="755.53" x2="521.90" y2="755.53" stroke="#000" stroke-width="2.2"/>
<line x1="517.50" y1="800.97" x2="521.90" y2="800.97" stroke="#000" stroke-width="2.2"/>
<line x1="563.20" y1="752.96" x2="563.20" y2="798.11" stroke="#000" stroke-width="1.9"/>
<line x1="561.00" y1="752.96" x2="565.40" y2="752.96" stroke="#000" stroke-width="2.2"/>
<line x1="561.00" y1="798.11" x2="565.40" y2="798.11" stroke="#000" stroke-width="2.2"/>
<line x1="606.50" y1="664.67" x2="606.50" y2="749.25" stroke="#000" stroke-width="1.9"/>
<line x1="604.30" y1="664.67" x2="608.70" y2="664.67" stroke="#000" stroke-width="2.2"/>
<line x1="604.30" y1="749.25" x2="608.70" y2="749.25" stroke="#000" stroke-width="2.2"/>
<line x1="650.20" y1="631.80" x2="650.20" y2="756.96" stroke="#000" stroke-width="1.9"/>
<line x1="648.00" y1="631.80" x2="652.40" y2="631.80" stroke="#000" stroke-width="2.2"/>
<line x1="648.00" y1="756.96" x2="652.40" y2="756.96" stroke="#000" stroke-width="2.2"/>
<rect x="411.2" y="591.8" width="260.50" height="228.60" fill="none" stroke="#231f20" stroke-width="1.6"/>
<line x1="407.40" y1="820.40" x2="411.2" y2="820.40" stroke="#231f20" stroke-width="1.6"/>
<text transform="translate(405.50,825.90) scale(1,1.03)" font-size="16" text-anchor="end">0</text>
<line x1="407.40" y1="763.25" x2="411.2" y2="763.25" stroke="#231f20" stroke-width="1.6"/>
<text transform="translate(405.50,768.75) scale(1,1.03)" font-size="16" text-anchor="end">20</text>
<line x1="407.40" y1="706.10" x2="411.2" y2="706.10" stroke="#231f20" stroke-width="1.6"/>
<text transform="translate(405.50,711.60) scale(1,1.03)" font-size="16" text-anchor="end">40</text>
<line x1="407.40" y1="648.95" x2="411.2" y2="648.95" stroke="#231f20" stroke-width="1.6"/>
<text transform="translate(405.50,654.45) scale(1,1.03)" font-size="16" text-anchor="end">60</text>
<line x1="407.40" y1="591.80" x2="411.2" y2="591.80" stroke="#231f20" stroke-width="1.6"/>
<text transform="translate(405.50,597.30) scale(1,1.03)" font-size="16" text-anchor="end">80</text>
<line x1="454.60" y1="820.4" x2="454.60" y2="824.20" stroke="#231f20" stroke-width="1.6"/>
<text transform="translate(456.60,839.40) scale(1,1.03)" font-size="16" text-anchor="middle">10%</text>
<line x1="541.30" y1="820.4" x2="541.30" y2="824.20" stroke="#231f20" stroke-width="1.6"/>
<text transform="translate(543.30,839.40) scale(1,1.03)" font-size="16" text-anchor="middle">30%</text>
<line x1="628.20" y1="820.4" x2="628.20" y2="824.20" stroke="#231f20" stroke-width="1.6"/>
<text transform="translate(630.20,839.40) scale(1,1.03)" font-size="16" text-anchor="middle">100%</text>
<text x="418.50" y="607.20" font-size="12.8">640/30 nm light</text>
<rect x="418.40" y="614.7" width="21.3" height="10.7" fill="url(#go)" stroke="#5a4a30" stroke-width="1"/>
<rect x="418.40" y="632.1" width="21.3" height="10.7" fill="url(#gb)" stroke="#3d556a" stroke-width="1"/>
<text x="445.70" y="624.8" font-size="13">SNR</text>
<text x="445.70" y="642.2" font-size="13">SBR</text>
<text transform="translate(381.5,706.1) rotate(-90)" font-size="18" text-anchor="middle">SNR/SBR</text>
<text x="530.60" y="858.6" font-size="18" font-style="italic">I</text><text x="534.30" y="865" font-size="10.5">light</text>
</svg></body></html>
